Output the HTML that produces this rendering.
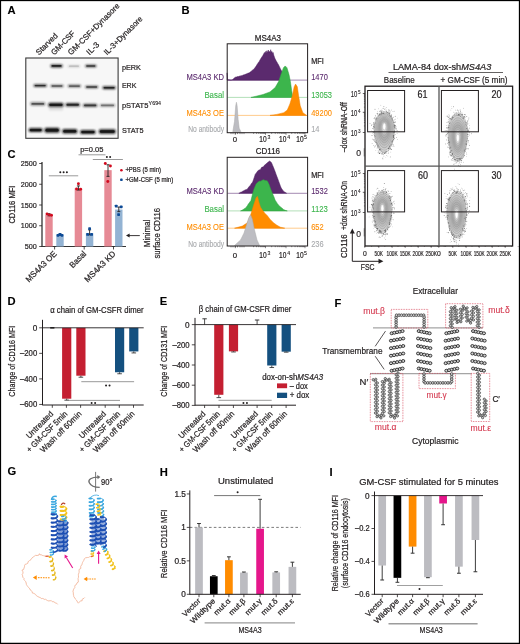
<!DOCTYPE html>
<html><head><meta charset="utf-8"><style>
html,body{margin:0;padding:0;background:#fff;}
svg{display:block;font-family:"Liberation Sans", sans-serif;will-change:transform;}
</style></head><body>
<svg width="520" height="644" viewBox="0 0 520 644" fill="#231f20">
<defs>
<filter id="bl" x="-20%" y="-200%" width="140%" height="500%"><feGaussianBlur stdDeviation="0.9"/></filter><filter id="bl2" x="-20%" y="-100%" width="140%" height="300%"><feGaussianBlur stdDeviation="1.0"/></filter>
<radialGradient id="cg"><stop offset="0" stop-color="#e8e8e8"/><stop offset="0.25" stop-color="#9a9a9a"/><stop offset="0.8" stop-color="#b4b4b4"/><stop offset="1" stop-color="#d0d0d0"/></radialGradient>
</defs>
<rect x="0" y="0" width="520" height="644" fill="#fff"/>
<text x="7.60" y="13.80" font-size="11.2" stroke="#000" stroke-width="0.1" fill="#000" font-weight="bold" >A</text>
<text x="39.10" y="55.50" font-size="8.0" stroke="#231f20" stroke-width="0.22" textLength="27.2" lengthAdjust="spacingAndGlyphs" transform="rotate(-45 39.10 55.50)" >Starved</text>
<text x="54.20" y="55.50" font-size="8.0" stroke="#231f20" stroke-width="0.22" textLength="30.2" lengthAdjust="spacingAndGlyphs" transform="rotate(-45 54.20 55.50)" >GM-CSF</text>
<text x="71.10" y="55.50" font-size="8.0" stroke="#231f20" stroke-width="0.22" textLength="69.3" lengthAdjust="spacingAndGlyphs" transform="rotate(-45 71.10 55.50)" >GM-CSF+Dynasore</text>
<text x="89.60" y="55.50" font-size="8.0" stroke="#231f20" stroke-width="0.22" textLength="14.6" lengthAdjust="spacingAndGlyphs" transform="rotate(-45 89.60 55.50)" >IL-3</text>
<text x="107.00" y="55.50" font-size="8.0" stroke="#231f20" stroke-width="0.22" textLength="51.0" lengthAdjust="spacingAndGlyphs" transform="rotate(-45 107.00 55.50)" >IL-3+Dynasore</text>
<rect x="25.80" y="58.00" width="92.30" height="80.30" fill="#f7f7f7" stroke="#3a3a3a" stroke-width="1.1" />
<rect x="50.4" y="64.38" width="12.3" height="3.04" rx="1.38" fill="#111" opacity="0.85" filter="url(#bl)"/>
<rect x="51.5" y="65.07" width="10.1" height="1.66" rx="0.83" fill="#111" opacity="0.76"/>
<rect x="67.8" y="65.14" width="12.2" height="2.11" rx="0.96" fill="#111" opacity="0.20" filter="url(#bl)"/>
<rect x="68.9" y="65.62" width="10.0" height="1.15" rx="0.58" fill="#111" opacity="0.18"/>
<rect x="85.1" y="64.68" width="11.4" height="2.64" rx="1.20" fill="#111" opacity="0.72" filter="url(#bl)"/>
<rect x="86.2" y="65.28" width="9.2" height="1.44" rx="0.72" fill="#111" opacity="0.64"/>
<rect x="33.6" y="84.28" width="13.2" height="2.64" rx="1.20" fill="#111" opacity="0.77" filter="url(#bl)"/>
<rect x="34.7" y="84.88" width="11.0" height="1.44" rx="0.72" fill="#111" opacity="0.68"/>
<rect x="50.4" y="84.81" width="13.2" height="2.38" rx="1.08" fill="#111" opacity="0.56" filter="url(#bl)"/>
<rect x="51.5" y="85.35" width="11.0" height="1.30" rx="0.65" fill="#111" opacity="0.50"/>
<rect x="67.8" y="84.85" width="13.2" height="2.51" rx="1.14" fill="#111" opacity="0.61" filter="url(#bl)"/>
<rect x="68.9" y="85.42" width="11.0" height="1.37" rx="0.68" fill="#111" opacity="0.54"/>
<rect x="85.1" y="85.75" width="13.2" height="2.51" rx="1.14" fill="#111" opacity="0.68" filter="url(#bl)"/>
<rect x="86.2" y="86.32" width="11.0" height="1.37" rx="0.68" fill="#111" opacity="0.60"/>
<rect x="102.5" y="86.35" width="13.2" height="2.90" rx="1.32" fill="#111" opacity="0.83" filter="url(#bl)"/>
<rect x="103.6" y="87.01" width="11.0" height="1.58" rx="0.79" fill="#111" opacity="0.74"/>
<rect x="30.3" y="102.32" width="15.0" height="3.17" rx="1.44" fill="#111" opacity="0.54" filter="url(#bl)"/>
<rect x="31.4" y="103.04" width="12.8" height="1.73" rx="0.86" fill="#111" opacity="0.48"/>
<rect x="48.2" y="102.82" width="15.4" height="3.96" rx="1.60" fill="#111" opacity="0.87" filter="url(#bl)"/>
<rect x="49.3" y="103.72" width="13.2" height="2.16" rx="1.08" fill="#111" opacity="0.78"/>
<rect x="49" y="105.5" width="14" height="5" fill="#000" opacity="0.10" filter="url(#bl2)"/>
<rect x="65.4" y="103.08" width="14.6" height="3.43" rx="1.56" fill="#111" opacity="0.77" filter="url(#bl)"/>
<rect x="66.5" y="103.86" width="12.4" height="1.87" rx="0.94" fill="#111" opacity="0.68"/>
<rect x="82.9" y="103.65" width="14.5" height="3.30" rx="1.50" fill="#111" opacity="0.65" filter="url(#bl)"/>
<rect x="84.0" y="104.40" width="12.3" height="1.80" rx="0.90" fill="#111" opacity="0.58"/>
<rect x="99.8" y="103.95" width="15.4" height="2.90" rx="1.32" fill="#111" opacity="0.41" filter="url(#bl)"/>
<rect x="100.9" y="104.61" width="13.2" height="1.58" rx="0.79" fill="#111" opacity="0.36"/>
<rect x="28.7" y="128.12" width="13.9" height="3.96" rx="1.60" fill="#111" opacity="0.90" filter="url(#bl)"/>
<rect x="29.8" y="129.02" width="11.7" height="2.16" rx="1.08" fill="#111" opacity="0.80"/>
<rect x="44.5" y="127.76" width="15.1" height="4.88" rx="1.60" fill="#111" opacity="0.90" filter="url(#bl)"/>
<rect x="45.6" y="128.87" width="12.9" height="2.66" rx="1.33" fill="#111" opacity="0.80"/>
<rect x="62.3" y="128.99" width="15.0" height="4.62" rx="1.60" fill="#111" opacity="0.90" filter="url(#bl)"/>
<rect x="63.4" y="130.04" width="12.8" height="2.52" rx="1.26" fill="#111" opacity="0.80"/>
<rect x="80.2" y="130.12" width="15.4" height="3.96" rx="1.60" fill="#111" opacity="0.90" filter="url(#bl)"/>
<rect x="81.3" y="131.02" width="13.2" height="2.16" rx="1.08" fill="#111" opacity="0.80"/>
<rect x="98.8" y="129.32" width="16.9" height="4.36" rx="1.60" fill="#111" opacity="0.90" filter="url(#bl)"/>
<rect x="99.9" y="130.31" width="14.7" height="2.38" rx="1.19" fill="#111" opacity="0.80"/>
<text x="121.90" y="69.80" font-size="8.06" stroke="#231f20" stroke-width="0.22" textLength="19.0" lengthAdjust="spacingAndGlyphs" >pERK</text>
<text x="121.90" y="88.20" font-size="8.06" stroke="#231f20" stroke-width="0.22" textLength="14.5" lengthAdjust="spacingAndGlyphs" >ERK</text>
<text x="121.90" y="107.80" font-size="8.06" stroke="#231f20" stroke-width="0.22" textLength="26.5" lengthAdjust="spacingAndGlyphs" >pSTAT5</text>
<text x="148.60" y="105.40" font-size="5.49" stroke="#231f20" stroke-width="0.12" textLength="12.5" lengthAdjust="spacingAndGlyphs" >Y694</text>
<text x="121.90" y="132.80" font-size="8.06" stroke="#231f20" stroke-width="0.22" textLength="21.6" lengthAdjust="spacingAndGlyphs" >STAT5</text>
<text x="181.50" y="13.80" font-size="11.2" stroke="#000" stroke-width="0.1" fill="#000" font-weight="bold" >B</text>
<line x1="227.50" y1="80.10" x2="307.20" y2="80.10" stroke="#8d6c9e" stroke-width="0.8" />
<line x1="227.50" y1="97.40" x2="307.20" y2="97.40" stroke="#9fd8a6" stroke-width="0.8" />
<line x1="227.50" y1="115.40" x2="307.20" y2="115.40" stroke="#ffbe70" stroke-width="0.8" />
<path d="M227.08,80.14 L227.08,80.14 L227.08,72.87 L227.60,79.79 L228.14,79.77 L228.68,79.76 L229.22,79.97 L229.76,79.82 L230.30,80.02 L230.84,80.01 L231.38,79.94 L231.92,80.14 L232.50,79.65 L233.07,79.00 L233.65,78.64 L234.23,78.03 L234.80,77.55 L235.38,77.20 L235.91,77.04 L236.45,77.04 L236.98,76.67 L237.51,76.57 L238.04,76.58 L238.57,76.55 L239.11,76.29 L239.64,76.10 L240.17,76.16 L240.70,75.71 L241.24,75.86 L241.77,75.53 L242.30,75.47 L242.83,75.14 L243.37,74.94 L243.90,74.80 L244.43,74.78 L244.96,74.36 L245.50,74.30 L246.03,74.12 L246.56,73.83 L247.09,73.69 L247.62,73.32 L248.16,73.12 L248.69,72.97 L249.22,72.87 L249.74,72.50 L250.26,71.98 L250.78,71.51 L251.30,71.17 L251.82,70.69 L252.34,70.21 L252.85,69.95 L253.37,69.48 L253.89,68.89 L254.41,68.55 L254.93,67.79 L255.45,67.00 L255.97,66.34 L256.49,65.51 L257.01,64.58 L257.53,64.04 L258.04,62.96 L258.56,62.29 L259.08,61.63 L259.60,60.76 L260.12,59.78 L260.64,59.03 L261.16,58.01 L261.68,57.36 L262.20,56.44 L263.06,55.22 L263.75,53.84 L264.45,52.46 L264.97,53.84 L265.66,51.42 L266.18,53.15 L266.87,50.73 L267.56,52.80 L268.25,50.03 L268.94,52.11 L269.64,51.42 L270.16,52.80 L270.67,49.69 L271.19,52.11 L271.89,51.42 L272.58,53.49 L273.10,52.46 L273.79,55.22 L274.48,57.22 L275.17,59.03 L275.75,60.07 L276.33,61.18 L276.90,61.99 L277.48,63.14 L278.06,64.11 L278.63,65.09 L279.21,66.27 L279.79,67.38 L280.36,68.66 L280.94,69.85 L281.52,70.84 L282.09,72.01 L282.61,73.45 L283.13,74.62 L283.65,76.23 L284.17,77.59 L284.69,78.93 L285.29,79.70 L285.90,80.14 L285.90,80.14 Z" fill="#5b2a6e" stroke="#4a1c5c" stroke-width="0.5"/>
<path d="M250.95,97.44 L250.95,97.44 L256.14,96.23 L263.06,94.50 L269.98,91.90 L275.17,87.58 L278.63,81.52 L281.23,73.74 L283.48,67.68 L285.21,65.95 L286.94,67.68 L289.01,74.60 L290.40,81.52 L291.61,90.17 L292.82,97.44 L292.82,97.44 Z" fill="#3cb54c" stroke="#2fa040" stroke-width="0.5"/>
<path d="M269.98,115.43 L269.98,115.43 L276.90,114.39 L283.82,112.66 L287.28,110.07 L289.88,104.01 L292.47,95.36 L294.20,86.71 L295.59,84.12 L297.32,86.71 L298.53,95.36 L300.26,105.74 L302.85,112.66 L306.66,115.43 L306.66,115.43 Z" fill="#ff8c00" stroke="#f08000" stroke-width="0.5"/>
<path d="M232.79,131.70 L232.79,131.70 L234.52,121.31 L235.73,105.74 L236.42,102.28 L237.11,105.74 L238.15,119.58 L239.19,128.24 L240.92,131.70 L240.92,131.70 Z" fill="#bdbdc2" stroke="#aaa" stroke-width="0.5"/>
<rect x="227.20" y="43.80" width="80.40" height="88.90" fill="none" stroke="#231f20" stroke-width="1.0" />
<text x="267.90" y="41.00" font-size="8.96" stroke="#231f20" stroke-width="0.22" text-anchor="middle" textLength="26.24" lengthAdjust="spacingAndGlyphs" >MS4A3</text>
<line x1="231.00" y1="132.70" x2="231.00" y2="134.10" stroke="#231f20" stroke-width="0.5" />
<line x1="233.00" y1="132.70" x2="233.00" y2="134.10" stroke="#231f20" stroke-width="0.5" />
<line x1="235.30" y1="132.70" x2="235.30" y2="134.10" stroke="#231f20" stroke-width="0.5" />
<line x1="237.50" y1="132.70" x2="237.50" y2="134.10" stroke="#231f20" stroke-width="0.5" />
<line x1="240.00" y1="132.70" x2="240.00" y2="134.10" stroke="#231f20" stroke-width="0.5" />
<line x1="242.00" y1="132.70" x2="242.00" y2="134.10" stroke="#231f20" stroke-width="0.5" />
<line x1="244.00" y1="132.70" x2="244.00" y2="134.10" stroke="#231f20" stroke-width="0.5" />
<line x1="253.62" y1="132.70" x2="253.62" y2="133.90" stroke="#231f20" stroke-width="0.5" />
<line x1="256.61" y1="132.70" x2="256.61" y2="133.90" stroke="#231f20" stroke-width="0.5" />
<line x1="258.74" y1="132.70" x2="258.74" y2="133.90" stroke="#231f20" stroke-width="0.5" />
<line x1="260.38" y1="132.70" x2="260.38" y2="133.90" stroke="#231f20" stroke-width="0.5" />
<line x1="261.73" y1="132.70" x2="261.73" y2="133.90" stroke="#231f20" stroke-width="0.5" />
<line x1="262.87" y1="132.70" x2="262.87" y2="133.90" stroke="#231f20" stroke-width="0.5" />
<line x1="263.85" y1="132.70" x2="263.85" y2="133.90" stroke="#231f20" stroke-width="0.5" />
<line x1="264.72" y1="132.70" x2="264.72" y2="133.90" stroke="#231f20" stroke-width="0.5" />
<line x1="271.67" y1="132.70" x2="271.67" y2="133.90" stroke="#231f20" stroke-width="0.5" />
<line x1="275.28" y1="132.70" x2="275.28" y2="133.90" stroke="#231f20" stroke-width="0.5" />
<line x1="277.84" y1="132.70" x2="277.84" y2="133.90" stroke="#231f20" stroke-width="0.5" />
<line x1="279.83" y1="132.70" x2="279.83" y2="133.90" stroke="#231f20" stroke-width="0.5" />
<line x1="281.45" y1="132.70" x2="281.45" y2="133.90" stroke="#231f20" stroke-width="0.5" />
<line x1="282.82" y1="132.70" x2="282.82" y2="133.90" stroke="#231f20" stroke-width="0.5" />
<line x1="284.01" y1="132.70" x2="284.01" y2="133.90" stroke="#231f20" stroke-width="0.5" />
<line x1="285.06" y1="132.70" x2="285.06" y2="133.90" stroke="#231f20" stroke-width="0.5" />
<line x1="291.72" y1="132.70" x2="291.72" y2="133.90" stroke="#231f20" stroke-width="0.5" />
<line x1="295.07" y1="132.70" x2="295.07" y2="133.90" stroke="#231f20" stroke-width="0.5" />
<line x1="297.44" y1="132.70" x2="297.44" y2="133.90" stroke="#231f20" stroke-width="0.5" />
<line x1="299.28" y1="132.70" x2="299.28" y2="133.90" stroke="#231f20" stroke-width="0.5" />
<line x1="300.78" y1="132.70" x2="300.78" y2="133.90" stroke="#231f20" stroke-width="0.5" />
<line x1="302.06" y1="132.70" x2="302.06" y2="133.90" stroke="#231f20" stroke-width="0.5" />
<line x1="303.16" y1="132.70" x2="303.16" y2="133.90" stroke="#231f20" stroke-width="0.5" />
<line x1="304.13" y1="132.70" x2="304.13" y2="133.90" stroke="#231f20" stroke-width="0.5" />
<line x1="235.30" y1="132.70" x2="235.30" y2="134.90" stroke="#231f20" stroke-width="0.5" />
<line x1="265.50" y1="132.70" x2="265.50" y2="134.90" stroke="#231f20" stroke-width="0.5" />
<line x1="286.00" y1="132.70" x2="286.00" y2="134.90" stroke="#231f20" stroke-width="0.5" />
<line x1="305.00" y1="132.70" x2="305.00" y2="134.90" stroke="#231f20" stroke-width="0.5" />
<text x="234.80" y="142.30" font-size="7.8" stroke="#231f20" stroke-width="0.22" text-anchor="middle" >0</text>
<text x="262.90" y="142.30" font-size="8.29" stroke="#231f20" stroke-width="0.22" text-anchor="middle" textLength="7.3" lengthAdjust="spacingAndGlyphs" >10</text>
<text x="267.50" y="139.00" font-size="5.2" stroke="#231f20" stroke-width="0.12" >3</text>
<text x="282.70" y="142.30" font-size="8.29" stroke="#231f20" stroke-width="0.22" text-anchor="middle" textLength="7.3" lengthAdjust="spacingAndGlyphs" >10</text>
<text x="287.20" y="139.00" font-size="5.2" stroke="#231f20" stroke-width="0.12" >4</text>
<text x="300.00" y="142.30" font-size="8.29" stroke="#231f20" stroke-width="0.22" text-anchor="middle" textLength="7.3" lengthAdjust="spacingAndGlyphs" >10</text>
<text x="304.10" y="139.00" font-size="5.2" stroke="#231f20" stroke-width="0.12" >5</text>
<text x="224.00" y="80.20" font-size="8.4" stroke="#5b2a6e" stroke-width="0.1" text-anchor="end" fill="#5b2a6e" textLength="37.6" lengthAdjust="spacingAndGlyphs" >MS4A3 KD</text>
<text x="224.00" y="98.40" font-size="8.4" stroke="#3cb54c" stroke-width="0.1" text-anchor="end" fill="#3cb54c" textLength="19.6" lengthAdjust="spacingAndGlyphs" >Basal</text>
<text x="224.00" y="115.60" font-size="8.4" stroke="#ff8c00" stroke-width="0.1" text-anchor="end" fill="#ff8c00" textLength="37.6" lengthAdjust="spacingAndGlyphs" >MS4A3 OE</text>
<text x="224.00" y="131.80" font-size="8.4" stroke="#a7a9ac" stroke-width="0.1" text-anchor="end" fill="#a7a9ac" textLength="35.8" lengthAdjust="spacingAndGlyphs" >No antibody</text>
<text x="311.20" y="63.70" font-size="8.4" stroke="#231f20" stroke-width="0.22" textLength="12.6" lengthAdjust="spacingAndGlyphs" >MFI</text>
<text x="311.20" y="80.20" font-size="8.4" stroke="#5b2a6e" stroke-width="0.1" fill="#5b2a6e" textLength="16.6" lengthAdjust="spacingAndGlyphs" >1470</text>
<text x="311.20" y="98.40" font-size="8.4" stroke="#3cb54c" stroke-width="0.1" fill="#3cb54c" textLength="20.75" lengthAdjust="spacingAndGlyphs" >13053</text>
<text x="311.20" y="115.60" font-size="8.4" stroke="#ff8c00" stroke-width="0.1" fill="#ff8c00" textLength="20.75" lengthAdjust="spacingAndGlyphs" >49200</text>
<text x="311.20" y="131.80" font-size="8.4" stroke="#a7a9ac" stroke-width="0.1" fill="#a7a9ac" textLength="8.3" lengthAdjust="spacingAndGlyphs" >14</text>
<line x1="227.50" y1="193.30" x2="307.20" y2="193.30" stroke="#8d6c9e" stroke-width="0.8" />
<line x1="227.50" y1="210.90" x2="307.20" y2="210.90" stroke="#9fd8a6" stroke-width="0.8" />
<line x1="227.50" y1="228.20" x2="307.20" y2="228.20" stroke="#ffbe70" stroke-width="0.8" />
<path d="M238.84,193.25 L238.84,193.25 L239.53,193.04 L240.22,192.47 L240.92,192.17 L241.61,191.94 L242.30,191.52 L243.04,190.95 L243.78,190.77 L244.53,190.27 L245.27,189.88 L246.01,189.49 L246.75,189.41 L247.49,188.93 L248.23,187.78 L248.97,186.85 L249.72,185.92 L250.46,185.13 L251.20,183.81 L251.94,182.97 L252.68,182.01 L253.55,179.43 L254.41,176.98 L255.28,174.22 L256.14,173.20 L257.01,172.07 L257.87,170.76 L258.74,170.21 L259.60,169.80 L260.47,169.38 L261.68,167.30 L262.37,167.07 L263.06,166.96 L263.75,166.25 L264.45,165.22 L265.14,164.84 L265.83,163.93 L266.52,163.49 L267.39,162.67 L268.25,162.11 L268.94,161.48 L269.64,161.07 L270.50,161.65 L271.37,162.46 L272.06,164.07 L272.75,165.72 L273.44,167.30 L274.31,169.51 L275.17,171.71 L276.04,174.22 L276.90,176.49 L277.77,178.78 L278.63,181.14 L279.50,183.48 L280.36,185.94 L281.23,188.06 L282.09,189.29 L282.96,190.38 L283.82,191.52 L284.52,192.00 L285.21,192.46 L285.90,192.63 L286.59,193.25 L286.59,193.25 Z" fill="#5b2a6e" stroke="#4a1c5c" stroke-width="0.5"/>
<path d="M240.57,210.90 L240.57,210.90 L241.31,210.62 L242.05,210.16 L242.80,209.77 L243.54,209.32 L244.28,208.76 L245.02,208.34 L245.76,207.96 L246.50,206.76 L247.24,205.88 L247.99,204.62 L248.73,203.56 L249.47,202.54 L250.21,201.46 L250.95,200.52 L251.82,197.00 L252.68,193.44 L253.55,190.14 L254.41,187.89 L255.28,185.87 L256.14,183.91 L257.01,182.96 L257.87,182.25 L258.74,181.49 L259.60,181.09 L260.47,181.16 L261.33,180.80 L262.20,180.32 L263.06,179.76 L263.75,179.87 L264.45,180.13 L265.14,180.45 L265.83,180.51 L266.52,180.63 L267.21,180.80 L268.17,182.57 L269.12,184.60 L269.98,187.03 L270.85,189.39 L271.71,191.52 L272.40,193.24 L273.10,194.98 L273.79,196.57 L274.48,198.31 L275.17,200.17 L275.87,201.16 L276.56,202.17 L277.25,203.40 L277.94,204.21 L278.63,205.36 L279.37,205.82 L280.12,206.76 L280.86,207.23 L281.60,207.71 L282.34,208.47 L283.08,208.91 L283.82,209.69 L284.52,209.94 L285.21,210.34 L285.90,210.54 L286.59,210.73 L287.28,210.90 L287.28,210.90 Z" fill="#3cb54c" stroke="#2fa040" stroke-width="0.5"/>
<path d="M234.52,228.20 L234.52,228.20 L242.30,226.12 L247.49,222.66 L250.95,214.01 L253.55,205.36 L256.14,197.58 L257.53,196.37 L258.91,201.90 L260.47,207.09 L262.20,209.69 L264.79,213.15 L267.39,215.74 L269.98,219.20 L273.44,222.66 L276.90,225.26 L280.36,227.16 L284.69,228.20 L284.69,228.20 Z" fill="#ff8c00" stroke="#f08000" stroke-width="0.5"/>
<path d="M234.52,245.50 L234.52,245.50 L240.57,239.97 L244.03,233.04 L246.63,224.39 L248.88,217.47 L250.61,214.88 L252.34,219.20 L254.41,229.58 L257.01,239.97 L259.60,245.50 L259.60,245.50 Z" fill="#bdbdc2" stroke="#aaa" stroke-width="0.5"/>
<rect x="227.20" y="157.30" width="80.40" height="88.70" fill="none" stroke="#231f20" stroke-width="1.0" />
<text x="267.90" y="153.50" font-size="8.96" stroke="#231f20" stroke-width="0.22" text-anchor="middle" textLength="24.31" lengthAdjust="spacingAndGlyphs" >CD116</text>
<line x1="231.00" y1="246.00" x2="231.00" y2="247.40" stroke="#231f20" stroke-width="0.5" />
<line x1="233.00" y1="246.00" x2="233.00" y2="247.40" stroke="#231f20" stroke-width="0.5" />
<line x1="235.30" y1="246.00" x2="235.30" y2="247.40" stroke="#231f20" stroke-width="0.5" />
<line x1="237.50" y1="246.00" x2="237.50" y2="247.40" stroke="#231f20" stroke-width="0.5" />
<line x1="240.00" y1="246.00" x2="240.00" y2="247.40" stroke="#231f20" stroke-width="0.5" />
<line x1="242.00" y1="246.00" x2="242.00" y2="247.40" stroke="#231f20" stroke-width="0.5" />
<line x1="244.00" y1="246.00" x2="244.00" y2="247.40" stroke="#231f20" stroke-width="0.5" />
<line x1="253.62" y1="246.00" x2="253.62" y2="247.20" stroke="#231f20" stroke-width="0.5" />
<line x1="256.61" y1="246.00" x2="256.61" y2="247.20" stroke="#231f20" stroke-width="0.5" />
<line x1="258.74" y1="246.00" x2="258.74" y2="247.20" stroke="#231f20" stroke-width="0.5" />
<line x1="260.38" y1="246.00" x2="260.38" y2="247.20" stroke="#231f20" stroke-width="0.5" />
<line x1="261.73" y1="246.00" x2="261.73" y2="247.20" stroke="#231f20" stroke-width="0.5" />
<line x1="262.87" y1="246.00" x2="262.87" y2="247.20" stroke="#231f20" stroke-width="0.5" />
<line x1="263.85" y1="246.00" x2="263.85" y2="247.20" stroke="#231f20" stroke-width="0.5" />
<line x1="264.72" y1="246.00" x2="264.72" y2="247.20" stroke="#231f20" stroke-width="0.5" />
<line x1="271.67" y1="246.00" x2="271.67" y2="247.20" stroke="#231f20" stroke-width="0.5" />
<line x1="275.28" y1="246.00" x2="275.28" y2="247.20" stroke="#231f20" stroke-width="0.5" />
<line x1="277.84" y1="246.00" x2="277.84" y2="247.20" stroke="#231f20" stroke-width="0.5" />
<line x1="279.83" y1="246.00" x2="279.83" y2="247.20" stroke="#231f20" stroke-width="0.5" />
<line x1="281.45" y1="246.00" x2="281.45" y2="247.20" stroke="#231f20" stroke-width="0.5" />
<line x1="282.82" y1="246.00" x2="282.82" y2="247.20" stroke="#231f20" stroke-width="0.5" />
<line x1="284.01" y1="246.00" x2="284.01" y2="247.20" stroke="#231f20" stroke-width="0.5" />
<line x1="285.06" y1="246.00" x2="285.06" y2="247.20" stroke="#231f20" stroke-width="0.5" />
<line x1="291.72" y1="246.00" x2="291.72" y2="247.20" stroke="#231f20" stroke-width="0.5" />
<line x1="295.07" y1="246.00" x2="295.07" y2="247.20" stroke="#231f20" stroke-width="0.5" />
<line x1="297.44" y1="246.00" x2="297.44" y2="247.20" stroke="#231f20" stroke-width="0.5" />
<line x1="299.28" y1="246.00" x2="299.28" y2="247.20" stroke="#231f20" stroke-width="0.5" />
<line x1="300.78" y1="246.00" x2="300.78" y2="247.20" stroke="#231f20" stroke-width="0.5" />
<line x1="302.06" y1="246.00" x2="302.06" y2="247.20" stroke="#231f20" stroke-width="0.5" />
<line x1="303.16" y1="246.00" x2="303.16" y2="247.20" stroke="#231f20" stroke-width="0.5" />
<line x1="304.13" y1="246.00" x2="304.13" y2="247.20" stroke="#231f20" stroke-width="0.5" />
<line x1="235.30" y1="246.00" x2="235.30" y2="248.20" stroke="#231f20" stroke-width="0.5" />
<line x1="265.50" y1="246.00" x2="265.50" y2="248.20" stroke="#231f20" stroke-width="0.5" />
<line x1="286.00" y1="246.00" x2="286.00" y2="248.20" stroke="#231f20" stroke-width="0.5" />
<line x1="305.00" y1="246.00" x2="305.00" y2="248.20" stroke="#231f20" stroke-width="0.5" />
<text x="234.80" y="258.20" font-size="7.8" stroke="#231f20" stroke-width="0.22" text-anchor="middle" >0</text>
<text x="262.90" y="258.20" font-size="8.29" stroke="#231f20" stroke-width="0.22" text-anchor="middle" textLength="7.3" lengthAdjust="spacingAndGlyphs" >10</text>
<text x="267.50" y="254.90" font-size="5.2" stroke="#231f20" stroke-width="0.12" >3</text>
<text x="282.70" y="258.20" font-size="8.29" stroke="#231f20" stroke-width="0.22" text-anchor="middle" textLength="7.3" lengthAdjust="spacingAndGlyphs" >10</text>
<text x="287.20" y="254.90" font-size="5.2" stroke="#231f20" stroke-width="0.12" >4</text>
<text x="300.00" y="258.20" font-size="8.29" stroke="#231f20" stroke-width="0.22" text-anchor="middle" textLength="7.3" lengthAdjust="spacingAndGlyphs" >10</text>
<text x="304.10" y="254.90" font-size="5.2" stroke="#231f20" stroke-width="0.12" >5</text>
<text x="224.00" y="194.00" font-size="8.4" stroke="#5b2a6e" stroke-width="0.1" text-anchor="end" fill="#5b2a6e" textLength="37.6" lengthAdjust="spacingAndGlyphs" >MS4A3 KD</text>
<text x="224.00" y="212.40" font-size="8.4" stroke="#3cb54c" stroke-width="0.1" text-anchor="end" fill="#3cb54c" textLength="19.6" lengthAdjust="spacingAndGlyphs" >Basal</text>
<text x="224.00" y="230.20" font-size="8.4" stroke="#ff8c00" stroke-width="0.1" text-anchor="end" fill="#ff8c00" textLength="37.6" lengthAdjust="spacingAndGlyphs" >MS4A3 OE</text>
<text x="224.00" y="247.30" font-size="8.4" stroke="#a7a9ac" stroke-width="0.1" text-anchor="end" fill="#a7a9ac" textLength="35.8" lengthAdjust="spacingAndGlyphs" >No antibody</text>
<text x="311.20" y="177.50" font-size="8.4" stroke="#231f20" stroke-width="0.22" textLength="12.6" lengthAdjust="spacingAndGlyphs" >MFI</text>
<text x="311.20" y="194.00" font-size="8.4" stroke="#5b2a6e" stroke-width="0.1" fill="#5b2a6e" textLength="16.6" lengthAdjust="spacingAndGlyphs" >1532</text>
<text x="311.20" y="212.40" font-size="8.4" stroke="#3cb54c" stroke-width="0.1" fill="#3cb54c" textLength="16.6" lengthAdjust="spacingAndGlyphs" >1123</text>
<text x="311.20" y="230.20" font-size="8.4" stroke="#ff8c00" stroke-width="0.1" fill="#ff8c00" textLength="12.450000000000001" lengthAdjust="spacingAndGlyphs" >652</text>
<text x="311.20" y="247.30" font-size="8.4" stroke="#a7a9ac" stroke-width="0.1" fill="#a7a9ac" textLength="12.450000000000001" lengthAdjust="spacingAndGlyphs" >236</text>
<text x="392.90" y="70.20" font-size="9.18" stroke="#231f20" stroke-width="0.22" >LAMA-84 dox-sh<tspan font-style="italic">MS4A3</tspan></text>
<line x1="388.50" y1="72.50" x2="503.00" y2="72.50" stroke="#231f20" stroke-width="0.7" />
<text x="399.20" y="82.70" font-size="8.96" stroke="#231f20" stroke-width="0.22" text-anchor="middle" textLength="30.8" lengthAdjust="spacingAndGlyphs" >Baseline</text>
<text x="474.00" y="82.70" font-size="8.96" stroke="#231f20" stroke-width="0.22" text-anchor="middle" textLength="67" lengthAdjust="spacingAndGlyphs" >+ GM-CSF (5 min)</text>
<path d="M394.50,132.30 L394.25,134.98 L393.85,137.61 L393.29,140.15 L392.60,142.55 L391.80,144.78 L390.90,146.80 L389.92,148.56 L388.87,150.05 L387.77,151.24 L386.63,152.10 L385.47,152.62 L384.30,152.80 L383.13,152.62 L381.97,152.10 L380.83,151.24 L379.73,150.05 L378.68,148.56 L377.70,146.80 L376.80,144.78 L376.00,142.55 L375.31,140.15 L374.75,137.61 L374.35,134.98 L374.10,132.30 L374.03,129.62 L374.14,126.99 L374.44,124.45 L374.94,122.05 L375.62,119.82 L376.48,117.80 L377.50,116.04 L378.67,114.55 L379.96,113.36 L381.35,112.50 L382.81,111.98 L384.30,111.80 L385.79,111.98 L387.25,112.50 L388.64,113.36 L389.93,114.55 L391.10,116.04 L392.12,117.80 L392.98,119.82 L393.66,122.05 L394.16,124.45 L394.46,126.99 L394.57,129.62 Z" fill="#dcdcdc" stroke="#555" stroke-width="0.3" stroke-opacity="0.75"/>
<path d="M393.53,131.73 L393.31,134.15 L392.94,136.53 L392.44,138.83 L391.81,141.01 L391.09,143.02 L390.27,144.85 L389.38,146.45 L388.44,147.80 L387.44,148.87 L386.41,149.65 L385.36,150.12 L384.30,150.28 L383.24,150.12 L382.19,149.65 L381.16,148.87 L380.16,147.80 L379.22,146.45 L378.33,144.85 L377.51,143.02 L376.79,141.01 L376.16,138.83 L375.66,136.53 L375.29,134.15 L375.07,131.73 L375.00,129.31 L375.11,126.93 L375.38,124.63 L375.83,122.45 L376.44,120.44 L377.22,118.61 L378.15,117.01 L379.20,115.66 L380.38,114.59 L381.63,113.81 L382.95,113.34 L384.30,113.18 L385.65,113.34 L386.97,113.81 L388.22,114.59 L389.40,115.66 L390.45,117.01 L391.38,118.61 L392.16,120.44 L392.77,122.45 L393.22,124.63 L393.49,126.93 L393.60,129.31 Z" fill="#d0d0d0" stroke="#555" stroke-width="0.3" stroke-opacity="0.75"/>
<path d="M392.56,131.16 L392.36,133.33 L392.03,135.46 L391.58,137.51 L391.03,139.46 L390.38,141.27 L389.65,142.90 L388.85,144.33 L388.00,145.54 L387.11,146.50 L386.19,147.20 L385.25,147.62 L384.30,147.77 L383.35,147.62 L382.41,147.20 L381.49,146.50 L380.60,145.54 L379.75,144.33 L378.95,142.90 L378.22,141.27 L377.57,139.46 L377.02,137.51 L376.57,135.46 L376.24,133.33 L376.04,131.16 L375.98,128.99 L376.07,126.86 L376.32,124.81 L376.72,122.86 L377.27,121.05 L377.96,119.42 L378.79,117.99 L379.74,116.78 L380.79,115.82 L381.91,115.12 L383.09,114.70 L384.30,114.56 L385.51,114.70 L386.69,115.12 L387.81,115.82 L388.86,116.78 L389.81,117.99 L390.64,119.42 L391.33,121.05 L391.88,122.86 L392.28,124.81 L392.53,126.86 L392.62,128.99 Z" fill="#c6c6c6" stroke="#555" stroke-width="0.3" stroke-opacity="0.75"/>
<path d="M391.59,130.59 L391.42,132.50 L391.13,134.38 L390.73,136.20 L390.24,137.92 L389.66,139.51 L389.02,140.95 L388.32,142.22 L387.57,143.28 L386.78,144.13 L385.97,144.75 L385.14,145.12 L384.30,145.25 L383.46,145.12 L382.63,144.75 L381.82,144.13 L381.03,143.28 L380.28,142.22 L379.58,140.95 L378.94,139.51 L378.36,137.92 L377.87,136.20 L377.47,134.38 L377.18,132.50 L377.01,130.59 L376.96,128.68 L377.04,126.80 L377.25,124.98 L377.61,123.26 L378.09,121.67 L378.71,120.23 L379.44,118.96 L380.27,117.90 L381.20,117.05 L382.19,116.43 L383.23,116.06 L384.30,115.93 L385.37,116.06 L386.41,116.43 L387.40,117.05 L388.33,117.90 L389.16,118.96 L389.89,120.23 L390.51,121.67 L390.99,123.26 L391.35,124.98 L391.56,126.80 L391.64,128.68 Z" fill="#bdbdbd" stroke="#555" stroke-width="0.3" stroke-opacity="0.45"/>
<path d="M390.62,130.02 L390.47,131.68 L390.22,133.31 L389.87,134.88 L389.45,136.38 L388.95,137.76 L388.39,139.01 L387.78,140.10 L387.13,141.03 L386.45,141.76 L385.75,142.30 L385.03,142.62 L384.30,142.73 L383.57,142.62 L382.85,142.30 L382.15,141.76 L381.47,141.03 L380.82,140.10 L380.21,139.01 L379.65,137.76 L379.15,136.38 L378.73,134.88 L378.38,133.31 L378.13,131.68 L377.98,130.02 L377.93,128.36 L378.00,126.73 L378.19,125.16 L378.49,123.67 L378.92,122.28 L379.45,121.03 L380.08,119.94 L380.81,119.01 L381.61,118.28 L382.47,117.74 L383.38,117.42 L384.30,117.31 L385.22,117.42 L386.13,117.74 L386.99,118.28 L387.79,119.01 L388.52,119.94 L389.15,121.03 L389.68,122.28 L390.11,123.67 L390.41,125.16 L390.60,126.73 L390.67,128.36 Z" fill="#b5b5b5" stroke="#555" stroke-width="0.3" stroke-opacity="0.45"/>
<path d="M389.66,129.45 L389.53,130.85 L389.31,132.24 L389.02,133.57 L388.66,134.83 L388.24,136.00 L387.77,137.06 L387.25,137.99 L386.70,138.77 L386.12,139.39 L385.53,139.85 L384.92,140.12 L384.30,140.21 L383.68,140.12 L383.07,139.85 L382.48,139.39 L381.90,138.77 L381.35,137.99 L380.83,137.06 L380.36,136.00 L379.94,134.83 L379.58,133.57 L379.29,132.24 L379.07,130.85 L378.94,129.45 L378.91,128.05 L378.97,126.66 L379.13,125.33 L379.38,124.07 L379.74,122.90 L380.19,121.84 L380.73,120.91 L381.34,120.13 L382.02,119.51 L382.75,119.05 L383.52,118.78 L384.30,118.69 L385.08,118.78 L385.85,119.05 L386.58,119.51 L387.26,120.13 L387.87,120.91 L388.41,121.84 L388.86,122.90 L389.22,124.07 L389.47,125.33 L389.63,126.66 L389.69,128.05 Z" fill="#afafaf" stroke="#555" stroke-width="0.3" stroke-opacity="0.45"/>
<path d="M388.69,128.88 L388.58,130.03 L388.40,131.16 L388.17,132.25 L387.87,133.29 L387.53,134.25 L387.14,135.11 L386.72,135.87 L386.27,136.51 L385.79,137.02 L385.30,137.39 L384.80,137.62 L384.30,137.70 L383.80,137.62 L383.30,137.39 L382.81,137.02 L382.33,136.51 L381.88,135.87 L381.46,135.11 L381.07,134.25 L380.73,133.29 L380.43,132.25 L380.20,131.16 L380.02,130.03 L379.91,128.88 L379.88,127.73 L379.93,126.60 L380.06,125.51 L380.27,124.47 L380.57,123.51 L380.94,122.65 L381.38,121.89 L381.88,121.25 L382.44,120.74 L383.03,120.37 L383.66,120.14 L384.30,120.07 L384.94,120.14 L385.57,120.37 L386.16,120.74 L386.72,121.25 L387.22,121.89 L387.66,122.65 L388.03,123.51 L388.33,124.47 L388.54,125.51 L388.67,126.60 L388.72,127.73 Z" fill="#b2b2b2" stroke="#555" stroke-width="0.3" stroke-opacity="0.45"/>
<path d="M387.72,128.31 L387.63,129.21 L387.50,130.09 L387.31,130.94 L387.08,131.74 L386.81,132.49 L386.51,133.17 L386.18,133.76 L385.83,134.26 L385.46,134.65 L385.08,134.94 L384.69,135.12 L384.30,135.18 L383.91,135.12 L383.52,134.94 L383.14,134.65 L382.77,134.26 L382.42,133.76 L382.09,133.17 L381.79,132.49 L381.52,131.74 L381.29,130.94 L381.10,130.09 L380.97,129.21 L380.88,128.31 L380.86,127.41 L380.90,126.53 L381.00,125.68 L381.16,124.88 L381.39,124.13 L381.68,123.45 L382.02,122.86 L382.41,122.36 L382.85,121.97 L383.31,121.68 L383.80,121.50 L384.30,121.44 L384.80,121.50 L385.29,121.68 L385.75,121.97 L386.19,122.36 L386.58,122.86 L386.92,123.45 L387.21,124.13 L387.44,124.88 L387.60,125.68 L387.70,126.53 L387.74,127.41 Z" fill="#bfbfbf" stroke="#555" stroke-width="0.3" stroke-opacity="0.45"/>
<path d="M386.75,127.74 L386.69,128.38 L386.59,129.01 L386.46,129.62 L386.29,130.20 L386.10,130.74 L385.88,131.22 L385.65,131.64 L385.40,132.00 L385.13,132.29 L384.86,132.49 L384.58,132.62 L384.30,132.66 L384.02,132.62 L383.74,132.49 L383.47,132.29 L383.20,132.00 L382.95,131.64 L382.72,131.22 L382.50,130.74 L382.31,130.20 L382.14,129.62 L382.01,129.01 L381.91,128.38 L381.85,127.74 L381.83,127.10 L381.86,126.47 L381.93,125.86 L382.05,125.28 L382.22,124.74 L382.42,124.26 L382.67,123.84 L382.95,123.48 L383.26,123.19 L383.59,122.99 L383.94,122.86 L384.30,122.82 L384.66,122.86 L385.01,122.99 L385.34,123.19 L385.65,123.48 L385.93,123.84 L386.18,124.26 L386.38,124.74 L386.55,125.28 L386.67,125.86 L386.74,126.47 L386.77,127.10 Z" fill="#d8d8d8" stroke="#555" stroke-width="0.3" stroke-opacity="0.45"/>
<path d="M385.78,127.17 L385.74,127.56 L385.68,127.94 L385.60,128.31 L385.50,128.66 L385.39,128.98 L385.26,129.27 L385.11,129.53 L384.96,129.74 L384.80,129.92 L384.64,130.04 L384.47,130.12 L384.30,130.14 L384.13,130.12 L383.96,130.04 L383.80,129.92 L383.64,129.74 L383.49,129.53 L383.34,129.27 L383.21,128.98 L383.10,128.66 L383.00,128.31 L382.92,127.94 L382.86,127.56 L382.82,127.17 L382.81,126.78 L382.83,126.40 L382.87,126.03 L382.94,125.68 L383.04,125.36 L383.17,125.07 L383.31,124.81 L383.48,124.60 L383.67,124.42 L383.87,124.30 L384.08,124.22 L384.30,124.20 L384.52,124.22 L384.73,124.30 L384.93,124.42 L385.12,124.60 L385.29,124.81 L385.43,125.07 L385.56,125.36 L385.66,125.68 L385.73,126.03 L385.77,126.40 L385.79,126.78 Z" fill="#f2f2f2" stroke="#555" stroke-width="0.3" stroke-opacity="0.45"/>
<g fill="#3d3d3d"><circle cx="390.9" cy="148.6" r="0.35" opacity="0.60"/><circle cx="373.7" cy="139.6" r="0.43" opacity="0.74"/><circle cx="393.9" cy="146.2" r="0.39" opacity="0.73"/><circle cx="394.0" cy="132.6" r="0.39" opacity="0.71"/><circle cx="385.8" cy="157.6" r="0.31" opacity="0.36"/><circle cx="373.4" cy="126.9" r="0.49" opacity="0.54"/><circle cx="386.1" cy="151.1" r="0.34" opacity="0.57"/><circle cx="375.0" cy="132.8" r="0.35" opacity="0.47"/><circle cx="386.1" cy="153.1" r="0.30" opacity="0.77"/><circle cx="374.5" cy="125.6" r="0.43" opacity="0.44"/><circle cx="394.6" cy="131.4" r="0.37" opacity="0.71"/><circle cx="381.5" cy="113.1" r="0.49" opacity="0.56"/><circle cx="389.8" cy="114.9" r="0.42" opacity="0.79"/><circle cx="391.2" cy="115.0" r="0.40" opacity="0.64"/><circle cx="393.2" cy="136.3" r="0.38" opacity="0.44"/><circle cx="371.6" cy="124.9" r="0.44" opacity="0.69"/><circle cx="377.1" cy="148.1" r="0.46" opacity="0.61"/><circle cx="377.1" cy="144.7" r="0.40" opacity="0.36"/><circle cx="394.2" cy="138.1" r="0.42" opacity="0.55"/><circle cx="390.3" cy="156.9" r="0.40" opacity="0.84"/><circle cx="386.2" cy="107.4" r="0.35" opacity="0.61"/><circle cx="394.7" cy="126.4" r="0.42" opacity="0.58"/><circle cx="382.9" cy="158.9" r="0.30" opacity="0.74"/><circle cx="389.5" cy="113.3" r="0.48" opacity="0.72"/><circle cx="389.1" cy="111.0" r="0.39" opacity="0.38"/><circle cx="391.7" cy="118.5" r="0.41" opacity="0.45"/><circle cx="372.9" cy="131.7" r="0.37" opacity="0.62"/><circle cx="376.7" cy="119.2" r="0.42" opacity="0.58"/><circle cx="393.3" cy="135.6" r="0.42" opacity="0.78"/><circle cx="387.9" cy="112.6" r="0.46" opacity="0.76"/><circle cx="384.0" cy="153.6" r="0.32" opacity="0.36"/><circle cx="395.5" cy="134.4" r="0.45" opacity="0.47"/><circle cx="391.7" cy="145.5" r="0.31" opacity="0.43"/><circle cx="373.4" cy="128.8" r="0.33" opacity="0.49"/><circle cx="381.3" cy="111.5" r="0.39" opacity="0.36"/><circle cx="377.6" cy="144.9" r="0.38" opacity="0.44"/><circle cx="392.1" cy="146.1" r="0.34" opacity="0.65"/><circle cx="389.3" cy="113.2" r="0.30" opacity="0.36"/><circle cx="389.4" cy="147.3" r="0.44" opacity="0.69"/><circle cx="373.7" cy="126.6" r="0.34" opacity="0.84"/><circle cx="387.9" cy="112.3" r="0.43" opacity="0.55"/><circle cx="375.1" cy="123.7" r="0.36" opacity="0.67"/><circle cx="393.7" cy="140.0" r="0.48" opacity="0.50"/><circle cx="394.1" cy="111.2" r="0.36" opacity="0.82"/><circle cx="383.8" cy="111.6" r="0.30" opacity="0.79"/><circle cx="393.6" cy="137.0" r="0.46" opacity="0.83"/><circle cx="373.5" cy="123.0" r="0.49" opacity="0.70"/><circle cx="371.4" cy="130.9" r="0.38" opacity="0.52"/><circle cx="386.7" cy="151.7" r="0.34" opacity="0.40"/><circle cx="378.0" cy="113.5" r="0.36" opacity="0.60"/><circle cx="379.5" cy="153.3" r="0.30" opacity="0.45"/><circle cx="379.3" cy="153.4" r="0.50" opacity="0.74"/><circle cx="379.6" cy="149.0" r="0.47" opacity="0.82"/><circle cx="378.4" cy="151.9" r="0.48" opacity="0.69"/><circle cx="374.0" cy="134.3" r="0.45" opacity="0.39"/><circle cx="388.3" cy="148.7" r="0.48" opacity="0.46"/><circle cx="385.1" cy="108.5" r="0.37" opacity="0.52"/><circle cx="381.8" cy="153.9" r="0.47" opacity="0.65"/><circle cx="394.6" cy="126.7" r="0.41" opacity="0.40"/><circle cx="393.5" cy="137.1" r="0.31" opacity="0.78"/><circle cx="387.1" cy="112.9" r="0.42" opacity="0.74"/><circle cx="377.3" cy="147.0" r="0.41" opacity="0.46"/><circle cx="392.1" cy="141.7" r="0.41" opacity="0.81"/><circle cx="372.3" cy="139.1" r="0.36" opacity="0.74"/><circle cx="390.7" cy="111.4" r="0.32" opacity="0.41"/><circle cx="392.3" cy="119.8" r="0.31" opacity="0.47"/><circle cx="394.8" cy="130.8" r="0.33" opacity="0.47"/><circle cx="383.9" cy="113.0" r="0.32" opacity="0.81"/><circle cx="375.8" cy="150.3" r="0.36" opacity="0.48"/><circle cx="374.7" cy="135.2" r="0.32" opacity="0.68"/><circle cx="397.6" cy="139.3" r="0.36" opacity="0.65"/><circle cx="375.6" cy="138.2" r="0.36" opacity="0.38"/><circle cx="397.4" cy="118.1" r="0.32" opacity="0.46"/><circle cx="375.9" cy="118.7" r="0.50" opacity="0.62"/><circle cx="379.9" cy="113.9" r="0.41" opacity="0.50"/><circle cx="384.5" cy="153.0" r="0.32" opacity="0.49"/><circle cx="396.5" cy="129.9" r="0.43" opacity="0.82"/><circle cx="377.2" cy="145.1" r="0.36" opacity="0.51"/><circle cx="380.2" cy="153.0" r="0.36" opacity="0.52"/><circle cx="371.6" cy="125.6" r="0.42" opacity="0.65"/><circle cx="384.6" cy="153.3" r="0.31" opacity="0.63"/><circle cx="392.3" cy="140.4" r="0.32" opacity="0.67"/><circle cx="382.1" cy="151.2" r="0.47" opacity="0.43"/><circle cx="372.6" cy="132.1" r="0.46" opacity="0.39"/><circle cx="395.2" cy="125.6" r="0.50" opacity="0.76"/><circle cx="379.8" cy="153.8" r="0.32" opacity="0.61"/><circle cx="394.2" cy="122.4" r="0.33" opacity="0.81"/><circle cx="396.5" cy="137.4" r="0.36" opacity="0.80"/><circle cx="388.9" cy="109.6" r="0.45" opacity="0.69"/><circle cx="388.6" cy="152.2" r="0.39" opacity="0.43"/><circle cx="381.8" cy="113.0" r="0.31" opacity="0.83"/><circle cx="388.6" cy="112.9" r="0.41" opacity="0.62"/><circle cx="391.7" cy="114.8" r="0.37" opacity="0.48"/><circle cx="393.7" cy="135.3" r="0.43" opacity="0.56"/><circle cx="373.6" cy="123.1" r="0.33" opacity="0.41"/><circle cx="383.8" cy="152.0" r="0.47" opacity="0.55"/><circle cx="376.6" cy="144.2" r="0.30" opacity="0.61"/><circle cx="373.8" cy="132.2" r="0.43" opacity="0.57"/><circle cx="380.1" cy="115.0" r="0.40" opacity="0.59"/><circle cx="385.7" cy="153.0" r="0.38" opacity="0.63"/><circle cx="394.0" cy="120.8" r="0.43" opacity="0.37"/><circle cx="392.7" cy="140.9" r="0.40" opacity="0.79"/><circle cx="388.9" cy="148.5" r="0.36" opacity="0.70"/><circle cx="392.9" cy="111.5" r="0.37" opacity="0.70"/><circle cx="383.1" cy="108.3" r="0.48" opacity="0.83"/><circle cx="373.3" cy="122.7" r="0.34" opacity="0.48"/><circle cx="386.4" cy="155.6" r="0.31" opacity="0.69"/><circle cx="381.8" cy="111.8" r="0.37" opacity="0.61"/><circle cx="388.5" cy="148.3" r="0.50" opacity="0.75"/><circle cx="376.7" cy="118.3" r="0.35" opacity="0.81"/><circle cx="395.9" cy="126.7" r="0.47" opacity="0.68"/><circle cx="380.2" cy="110.3" r="0.39" opacity="0.81"/><circle cx="396.4" cy="128.1" r="0.39" opacity="0.43"/><circle cx="379.7" cy="152.5" r="0.33" opacity="0.80"/><circle cx="395.7" cy="126.8" r="0.38" opacity="0.41"/><circle cx="381.6" cy="153.1" r="0.35" opacity="0.72"/><circle cx="394.1" cy="132.8" r="0.30" opacity="0.66"/><circle cx="374.6" cy="118.8" r="0.47" opacity="0.45"/><circle cx="382.3" cy="152.9" r="0.42" opacity="0.48"/><circle cx="379.8" cy="114.8" r="0.46" opacity="0.75"/><circle cx="396.0" cy="128.6" r="0.47" opacity="0.73"/><circle cx="374.6" cy="123.9" r="0.38" opacity="0.49"/><circle cx="391.1" cy="144.3" r="0.45" opacity="0.62"/><circle cx="394.8" cy="127.9" r="0.45" opacity="0.84"/><circle cx="391.1" cy="149.7" r="0.36" opacity="0.60"/><circle cx="379.1" cy="146.8" r="0.41" opacity="0.35"/><circle cx="374.8" cy="139.8" r="0.38" opacity="0.74"/><circle cx="379.7" cy="114.6" r="0.40" opacity="0.67"/><circle cx="378.2" cy="145.2" r="0.36" opacity="0.65"/><circle cx="392.1" cy="119.6" r="0.47" opacity="0.61"/><circle cx="397.4" cy="130.3" r="0.38" opacity="0.72"/><circle cx="394.8" cy="130.7" r="0.36" opacity="0.44"/><circle cx="375.4" cy="117.5" r="0.30" opacity="0.54"/><circle cx="376.3" cy="140.9" r="0.38" opacity="0.78"/><circle cx="375.1" cy="122.6" r="0.45" opacity="0.60"/><circle cx="383.9" cy="106.5" r="0.43" opacity="0.67"/><circle cx="375.5" cy="115.9" r="0.43" opacity="0.82"/><circle cx="386.8" cy="111.6" r="0.47" opacity="0.73"/><circle cx="389.2" cy="113.0" r="0.35" opacity="0.70"/><circle cx="392.4" cy="117.8" r="0.41" opacity="0.43"/><circle cx="390.7" cy="112.9" r="0.31" opacity="0.61"/><circle cx="383.9" cy="113.5" r="0.38" opacity="0.53"/><circle cx="377.1" cy="113.5" r="0.49" opacity="0.70"/><circle cx="377.1" cy="143.3" r="0.44" opacity="0.65"/><circle cx="386.6" cy="152.0" r="0.35" opacity="0.39"/><circle cx="391.4" cy="110.0" r="0.40" opacity="0.53"/><circle cx="374.5" cy="131.0" r="0.43" opacity="0.71"/><circle cx="389.0" cy="113.4" r="0.35" opacity="0.65"/><circle cx="385.3" cy="152.6" r="0.46" opacity="0.78"/><circle cx="380.2" cy="149.2" r="0.34" opacity="0.83"/><circle cx="381.3" cy="114.1" r="0.48" opacity="0.66"/><circle cx="380.9" cy="149.8" r="0.39" opacity="0.73"/><circle cx="386.9" cy="112.5" r="0.33" opacity="0.84"/><circle cx="374.0" cy="140.3" r="0.48" opacity="0.71"/><circle cx="376.0" cy="120.7" r="0.33" opacity="0.42"/><circle cx="381.5" cy="110.1" r="0.37" opacity="0.73"/><circle cx="384.8" cy="151.8" r="0.36" opacity="0.40"/><circle cx="375.5" cy="146.7" r="0.40" opacity="0.40"/><circle cx="388.2" cy="153.4" r="0.48" opacity="0.46"/><circle cx="393.8" cy="136.6" r="0.44" opacity="0.76"/><circle cx="395.2" cy="127.6" r="0.47" opacity="0.41"/><circle cx="380.1" cy="113.1" r="0.32" opacity="0.55"/><circle cx="374.4" cy="132.9" r="0.35" opacity="0.76"/><circle cx="374.9" cy="136.9" r="0.42" opacity="0.46"/><circle cx="381.7" cy="112.1" r="0.48" opacity="0.85"/><circle cx="394.7" cy="138.8" r="0.46" opacity="0.78"/><circle cx="380.2" cy="152.1" r="0.48" opacity="0.55"/><circle cx="393.2" cy="117.6" r="0.45" opacity="0.43"/><circle cx="394.0" cy="121.8" r="0.43" opacity="0.38"/><circle cx="378.1" cy="145.1" r="0.33" opacity="0.58"/><circle cx="390.2" cy="116.1" r="0.31" opacity="0.77"/><circle cx="393.1" cy="137.3" r="0.35" opacity="0.41"/><circle cx="393.4" cy="144.9" r="0.45" opacity="0.69"/><circle cx="390.6" cy="116.4" r="0.43" opacity="0.54"/><circle cx="375.3" cy="115.2" r="0.35" opacity="0.38"/><circle cx="394.0" cy="124.6" r="0.42" opacity="0.52"/><circle cx="374.4" cy="118.5" r="0.31" opacity="0.53"/><circle cx="376.3" cy="142.7" r="0.34" opacity="0.79"/><circle cx="375.4" cy="142.1" r="0.45" opacity="0.71"/><circle cx="384.5" cy="109.2" r="0.35" opacity="0.84"/><circle cx="390.7" cy="152.1" r="0.47" opacity="0.38"/><circle cx="392.8" cy="144.1" r="0.46" opacity="0.58"/><circle cx="378.2" cy="146.5" r="0.41" opacity="0.57"/><circle cx="390.1" cy="145.7" r="0.38" opacity="0.70"/><circle cx="393.7" cy="117.0" r="0.32" opacity="0.75"/><circle cx="392.0" cy="142.1" r="0.31" opacity="0.54"/><circle cx="383.1" cy="113.3" r="0.46" opacity="0.75"/><circle cx="391.4" cy="116.4" r="0.36" opacity="0.56"/><circle cx="384.6" cy="153.7" r="0.37" opacity="0.74"/><circle cx="394.4" cy="127.0" r="0.42" opacity="0.40"/><circle cx="375.0" cy="109.2" r="0.44" opacity="0.77"/><circle cx="380.5" cy="111.6" r="0.41" opacity="0.80"/><circle cx="389.7" cy="115.8" r="0.37" opacity="0.61"/><circle cx="392.0" cy="144.0" r="0.37" opacity="0.64"/><circle cx="393.8" cy="137.8" r="0.36" opacity="0.50"/><circle cx="378.1" cy="150.8" r="0.37" opacity="0.72"/><circle cx="373.6" cy="132.2" r="0.48" opacity="0.51"/><circle cx="380.4" cy="148.9" r="0.31" opacity="0.84"/><circle cx="372.0" cy="135.5" r="0.49" opacity="0.76"/><circle cx="395.4" cy="122.1" r="0.48" opacity="0.75"/><circle cx="391.2" cy="149.5" r="0.50" opacity="0.74"/><circle cx="381.1" cy="114.0" r="0.45" opacity="0.53"/><circle cx="394.8" cy="125.0" r="0.39" opacity="0.84"/><circle cx="373.2" cy="128.0" r="0.33" opacity="0.42"/><circle cx="378.6" cy="108.8" r="0.34" opacity="0.56"/><circle cx="382.6" cy="111.1" r="0.31" opacity="0.40"/><circle cx="374.7" cy="127.0" r="0.35" opacity="0.67"/><circle cx="373.7" cy="129.0" r="0.32" opacity="0.39"/><circle cx="391.0" cy="116.3" r="0.47" opacity="0.36"/><circle cx="378.1" cy="147.1" r="0.47" opacity="0.71"/><circle cx="382.3" cy="153.9" r="0.47" opacity="0.80"/><circle cx="375.3" cy="142.0" r="0.44" opacity="0.62"/><circle cx="394.6" cy="125.5" r="0.46" opacity="0.85"/><circle cx="383.9" cy="156.1" r="0.34" opacity="0.72"/><circle cx="386.0" cy="110.0" r="0.38" opacity="0.79"/><circle cx="387.4" cy="114.3" r="0.42" opacity="0.37"/><circle cx="391.3" cy="115.7" r="0.36" opacity="0.70"/><circle cx="393.7" cy="133.0" r="0.32" opacity="0.50"/><circle cx="392.3" cy="120.2" r="0.41" opacity="0.64"/><circle cx="370.0" cy="123.5" r="0.41" opacity="0.62"/><circle cx="389.6" cy="112.4" r="0.43" opacity="0.50"/><circle cx="381.5" cy="150.8" r="0.40" opacity="0.64"/><circle cx="373.7" cy="126.0" r="0.43" opacity="0.85"/><circle cx="383.3" cy="113.6" r="0.41" opacity="0.53"/><circle cx="374.7" cy="146.9" r="0.43" opacity="0.80"/><circle cx="394.8" cy="122.6" r="0.47" opacity="0.54"/><circle cx="375.1" cy="136.6" r="0.45" opacity="0.59"/><circle cx="379.3" cy="150.8" r="0.39" opacity="0.41"/><circle cx="379.1" cy="147.4" r="0.33" opacity="0.48"/><circle cx="391.0" cy="117.7" r="0.42" opacity="0.49"/><circle cx="394.1" cy="132.0" r="0.45" opacity="0.70"/><circle cx="374.5" cy="141.5" r="0.46" opacity="0.59"/><circle cx="380.8" cy="105.2" r="0.44" opacity="0.40"/><circle cx="390.2" cy="146.1" r="0.49" opacity="0.46"/><circle cx="393.2" cy="135.3" r="0.49" opacity="0.55"/><circle cx="382.1" cy="110.2" r="0.47" opacity="0.39"/><circle cx="374.5" cy="117.5" r="0.41" opacity="0.52"/><circle cx="393.8" cy="126.1" r="0.49" opacity="0.40"/><circle cx="372.5" cy="124.8" r="0.32" opacity="0.48"/><circle cx="382.6" cy="152.9" r="0.40" opacity="0.75"/><circle cx="391.3" cy="117.0" r="0.32" opacity="0.54"/><circle cx="377.7" cy="111.8" r="0.36" opacity="0.60"/><circle cx="395.2" cy="119.1" r="0.32" opacity="0.54"/><circle cx="394.9" cy="119.4" r="0.34" opacity="0.61"/><circle cx="373.5" cy="145.7" r="0.36" opacity="0.60"/><circle cx="395.6" cy="116.7" r="0.41" opacity="0.46"/><circle cx="385.0" cy="111.8" r="0.30" opacity="0.84"/><circle cx="377.4" cy="114.0" r="0.49" opacity="0.83"/><circle cx="383.2" cy="154.2" r="0.45" opacity="0.77"/><circle cx="385.4" cy="151.5" r="0.35" opacity="0.70"/><circle cx="376.4" cy="142.9" r="0.41" opacity="0.65"/><circle cx="394.8" cy="127.3" r="0.41" opacity="0.65"/><circle cx="389.9" cy="149.1" r="0.44" opacity="0.48"/><circle cx="386.2" cy="151.7" r="0.37" opacity="0.59"/><circle cx="379.5" cy="149.5" r="0.48" opacity="0.70"/><circle cx="373.9" cy="128.0" r="0.31" opacity="0.51"/><circle cx="379.5" cy="111.5" r="0.48" opacity="0.51"/><circle cx="372.7" cy="133.2" r="0.37" opacity="0.41"/><circle cx="389.6" cy="146.6" r="0.41" opacity="0.70"/><circle cx="374.2" cy="124.6" r="0.44" opacity="0.46"/><circle cx="387.8" cy="156.1" r="0.38" opacity="0.35"/><circle cx="394.7" cy="135.0" r="0.36" opacity="0.66"/><circle cx="392.1" cy="142.1" r="0.50" opacity="0.52"/><circle cx="373.6" cy="118.3" r="0.40" opacity="0.36"/><circle cx="380.0" cy="150.0" r="0.45" opacity="0.69"/><circle cx="393.9" cy="137.5" r="0.32" opacity="0.71"/><circle cx="391.5" cy="144.1" r="0.31" opacity="0.37"/><circle cx="390.4" cy="148.4" r="0.38" opacity="0.82"/><circle cx="377.4" cy="118.0" r="0.35" opacity="0.61"/><circle cx="379.7" cy="153.6" r="0.49" opacity="0.53"/><circle cx="388.7" cy="110.9" r="0.42" opacity="0.79"/><circle cx="375.2" cy="145.6" r="0.44" opacity="0.66"/><circle cx="372.5" cy="128.4" r="0.38" opacity="0.80"/><circle cx="376.6" cy="117.4" r="0.41" opacity="0.38"/><circle cx="374.0" cy="131.3" r="0.39" opacity="0.62"/><circle cx="384.3" cy="152.9" r="0.35" opacity="0.62"/><circle cx="374.8" cy="135.6" r="0.37" opacity="0.68"/><circle cx="374.2" cy="127.0" r="0.41" opacity="0.77"/><circle cx="382.5" cy="113.8" r="0.36" opacity="0.69"/><circle cx="389.1" cy="148.3" r="0.48" opacity="0.42"/><circle cx="392.4" cy="118.6" r="0.47" opacity="0.52"/><circle cx="395.1" cy="116.2" r="0.33" opacity="0.77"/><circle cx="377.5" cy="145.9" r="0.42" opacity="0.48"/><circle cx="378.8" cy="115.8" r="0.46" opacity="0.65"/><circle cx="397.1" cy="133.6" r="0.43" opacity="0.54"/><circle cx="373.8" cy="124.4" r="0.48" opacity="0.58"/><circle cx="386.6" cy="111.2" r="0.49" opacity="0.55"/><circle cx="375.2" cy="119.6" r="0.31" opacity="0.59"/><circle cx="393.0" cy="136.6" r="0.31" opacity="0.41"/><circle cx="389.7" cy="146.6" r="0.40" opacity="0.53"/><circle cx="382.8" cy="158.1" r="0.43" opacity="0.75"/><circle cx="389.0" cy="114.9" r="0.35" opacity="0.75"/><circle cx="384.9" cy="153.7" r="0.33" opacity="0.74"/><circle cx="393.7" cy="122.4" r="0.36" opacity="0.79"/><circle cx="378.0" cy="152.7" r="0.45" opacity="0.38"/><circle cx="372.1" cy="143.5" r="0.38" opacity="0.50"/><circle cx="389.8" cy="110.8" r="0.43" opacity="0.61"/><circle cx="393.4" cy="139.3" r="0.43" opacity="0.80"/><circle cx="388.7" cy="150.8" r="0.37" opacity="0.71"/><circle cx="395.7" cy="128.9" r="0.30" opacity="0.80"/></g>
<ellipse cx="384.30" cy="126.30" rx="1.0" ry="3.07" fill="#fff" opacity="0.95"/>
<path d="M467.60,137.00 L467.36,140.13 L466.97,143.21 L466.44,146.18 L465.78,149.00 L465.01,151.61 L464.14,153.97 L463.20,156.04 L462.19,157.78 L461.13,159.17 L460.04,160.18 L458.93,160.79 L457.80,161.00 L456.67,160.79 L455.56,160.18 L454.47,159.17 L453.41,157.78 L452.40,156.04 L451.46,153.97 L450.59,151.61 L449.82,149.00 L449.16,146.18 L448.63,143.21 L448.24,140.13 L448.00,137.00 L447.93,133.87 L448.04,130.79 L448.33,127.82 L448.80,125.00 L449.46,122.39 L450.28,120.03 L451.27,117.96 L452.39,116.22 L453.63,114.83 L454.97,113.82 L456.37,113.21 L457.80,113.00 L459.23,113.21 L460.63,113.82 L461.97,114.83 L463.21,116.22 L464.33,117.96 L465.32,120.03 L466.14,122.39 L466.80,125.00 L467.27,127.82 L467.56,130.79 L467.67,133.87 Z" fill="#dcdcdc" stroke="#555" stroke-width="0.3" stroke-opacity="0.75"/>
<path d="M466.67,137.09 L466.46,139.93 L466.10,142.72 L465.62,145.41 L465.02,147.95 L464.32,150.32 L463.54,152.45 L462.69,154.33 L461.77,155.91 L460.82,157.16 L459.83,158.07 L458.82,158.63 L457.80,158.81 L456.78,158.63 L455.77,158.07 L454.78,157.16 L453.83,155.91 L452.91,154.33 L452.06,152.45 L451.28,150.32 L450.58,147.95 L449.98,145.41 L449.50,142.72 L449.14,139.93 L448.93,137.09 L448.87,134.26 L448.97,131.47 L449.23,128.78 L449.66,126.23 L450.25,123.87 L451.00,121.74 L451.89,119.86 L452.90,118.28 L454.03,117.03 L455.24,116.12 L456.50,115.56 L457.80,115.38 L459.10,115.56 L460.36,116.12 L461.57,117.03 L462.70,118.28 L463.71,119.86 L464.60,121.74 L465.35,123.87 L465.94,126.23 L466.37,128.78 L466.63,131.47 L466.73,134.26 Z" fill="#d0d0d0" stroke="#555" stroke-width="0.3" stroke-opacity="0.75"/>
<path d="M465.74,137.19 L465.55,139.73 L465.23,142.22 L464.80,144.63 L464.26,146.91 L463.64,149.02 L462.94,150.94 L462.17,152.61 L461.36,154.03 L460.50,155.15 L459.62,155.97 L458.71,156.46 L457.80,156.63 L456.89,156.46 L455.98,155.97 L455.10,155.15 L454.24,154.03 L453.43,152.61 L452.66,150.94 L451.96,149.02 L451.34,146.91 L450.80,144.63 L450.37,142.22 L450.05,139.73 L449.86,137.19 L449.81,134.65 L449.89,132.16 L450.13,129.75 L450.51,127.47 L451.04,125.36 L451.71,123.44 L452.51,121.77 L453.42,120.35 L454.43,119.23 L455.51,118.41 L456.64,117.92 L457.80,117.75 L458.96,117.92 L460.09,118.41 L461.17,119.23 L462.18,120.35 L463.09,121.77 L463.89,123.44 L464.56,125.36 L465.09,127.47 L465.47,129.75 L465.71,132.16 L465.79,134.65 Z" fill="#c6c6c6" stroke="#555" stroke-width="0.3" stroke-opacity="0.75"/>
<path d="M464.81,137.28 L464.64,139.52 L464.36,141.73 L463.98,143.85 L463.50,145.87 L462.95,147.73 L462.33,149.42 L461.66,150.90 L460.94,152.15 L460.18,153.14 L459.40,153.86 L458.61,154.30 L457.80,154.44 L456.99,154.30 L456.20,153.86 L455.42,153.14 L454.66,152.15 L453.94,150.90 L453.27,149.42 L452.65,147.73 L452.10,145.87 L451.62,143.85 L451.24,141.73 L450.96,139.52 L450.79,137.28 L450.74,135.05 L450.82,132.84 L451.03,130.72 L451.37,128.71 L451.83,126.84 L452.42,125.15 L453.13,123.67 L453.93,122.42 L454.82,121.43 L455.78,120.71 L456.78,120.27 L457.80,120.12 L458.82,120.27 L459.82,120.71 L460.78,121.43 L461.67,122.42 L462.47,123.67 L463.18,125.15 L463.77,126.84 L464.23,128.70 L464.57,130.72 L464.78,132.84 L464.86,135.05 Z" fill="#bdbdbd" stroke="#555" stroke-width="0.3" stroke-opacity="0.45"/>
<path d="M463.88,137.38 L463.73,139.32 L463.49,141.23 L463.16,143.07 L462.75,144.82 L462.27,146.44 L461.73,147.90 L461.15,149.19 L460.52,150.27 L459.87,151.13 L459.19,151.75 L458.50,152.13 L457.80,152.26 L457.10,152.13 L456.41,151.75 L455.73,151.13 L455.08,150.27 L454.45,149.19 L453.87,147.90 L453.33,146.44 L452.85,144.82 L452.44,143.07 L452.11,141.23 L451.87,139.32 L451.72,137.38 L451.68,135.44 L451.75,133.53 L451.93,131.69 L452.22,129.94 L452.63,128.32 L453.14,126.86 L453.75,125.57 L454.45,124.49 L455.22,123.63 L456.05,123.01 L456.91,122.63 L457.80,122.50 L458.69,122.63 L459.55,123.01 L460.38,123.63 L461.15,124.49 L461.85,125.57 L462.46,126.86 L462.97,128.32 L463.38,129.94 L463.67,131.69 L463.85,133.53 L463.92,135.44 Z" fill="#b5b5b5" stroke="#555" stroke-width="0.3" stroke-opacity="0.45"/>
<path d="M462.94,137.47 L462.82,139.12 L462.62,140.74 L462.34,142.30 L461.99,143.78 L461.58,145.15 L461.13,146.38 L460.63,147.47 L460.11,148.39 L459.55,149.12 L458.98,149.65 L458.39,149.97 L457.80,150.07 L457.21,149.97 L456.62,149.65 L456.05,149.12 L455.49,148.39 L454.97,147.47 L454.47,146.38 L454.02,145.15 L453.61,143.78 L453.26,142.30 L452.98,140.74 L452.78,139.12 L452.66,137.47 L452.62,135.83 L452.68,134.21 L452.83,132.65 L453.08,131.18 L453.42,129.80 L453.85,128.57 L454.37,127.48 L454.96,126.56 L455.61,125.83 L456.31,125.30 L457.05,124.98 L457.80,124.88 L458.55,124.98 L459.29,125.30 L459.99,125.83 L460.64,126.56 L461.23,127.48 L461.75,128.57 L462.18,129.80 L462.52,131.17 L462.77,132.65 L462.92,134.21 L462.98,135.83 Z" fill="#afafaf" stroke="#555" stroke-width="0.3" stroke-opacity="0.45"/>
<path d="M462.01,137.57 L461.91,138.92 L461.74,140.24 L461.51,141.52 L461.23,142.73 L460.90,143.85 L460.53,144.87 L460.12,145.76 L459.69,146.51 L459.23,147.10 L458.76,147.54 L458.28,147.80 L457.80,147.89 L457.32,147.80 L456.84,147.54 L456.37,147.10 L455.91,146.51 L455.48,145.76 L455.07,144.87 L454.70,143.85 L454.37,142.73 L454.09,141.52 L453.86,140.24 L453.69,138.92 L453.59,137.57 L453.56,136.22 L453.60,134.90 L453.73,133.62 L453.93,132.41 L454.21,131.29 L454.57,130.27 L454.99,129.38 L455.47,128.63 L456.01,128.04 L456.58,127.60 L457.18,127.34 L457.80,127.25 L458.42,127.34 L459.02,127.60 L459.59,128.04 L460.13,128.63 L460.61,129.38 L461.03,130.27 L461.39,131.29 L461.67,132.41 L461.87,133.62 L462.00,134.90 L462.04,136.22 Z" fill="#b2b2b2" stroke="#555" stroke-width="0.3" stroke-opacity="0.45"/>
<path d="M461.08,137.66 L461.00,138.71 L460.87,139.75 L460.69,140.74 L460.47,141.69 L460.21,142.56 L459.92,143.35 L459.61,144.04 L459.27,144.63 L458.92,145.09 L458.55,145.43 L458.18,145.64 L457.80,145.70 L457.42,145.64 L457.05,145.43 L456.68,145.09 L456.33,144.63 L455.99,144.04 L455.68,143.35 L455.39,142.56 L455.13,141.69 L454.91,140.74 L454.73,139.75 L454.60,138.71 L454.52,137.66 L454.49,136.62 L454.53,135.58 L454.63,134.59 L454.79,133.64 L455.01,132.77 L455.28,131.98 L455.61,131.29 L455.99,130.70 L456.40,130.24 L456.85,129.90 L457.32,129.69 L457.80,129.62 L458.28,129.69 L458.75,129.90 L459.20,130.24 L459.61,130.70 L459.99,131.29 L460.32,131.98 L460.59,132.77 L460.81,133.64 L460.97,134.59 L461.07,135.58 L461.11,136.62 Z" fill="#bfbfbf" stroke="#555" stroke-width="0.3" stroke-opacity="0.45"/>
<path d="M460.15,137.76 L460.10,138.51 L460.00,139.25 L459.87,139.96 L459.71,140.64 L459.53,141.27 L459.32,141.83 L459.10,142.33 L458.85,142.75 L458.60,143.08 L458.34,143.32 L458.07,143.47 L457.80,143.52 L457.53,143.47 L457.26,143.32 L457.00,143.08 L456.75,142.75 L456.50,142.33 L456.28,141.83 L456.07,141.27 L455.89,140.64 L455.73,139.96 L455.60,139.25 L455.50,138.51 L455.45,137.76 L455.43,137.01 L455.46,136.27 L455.53,135.56 L455.64,134.88 L455.80,134.25 L456.00,133.69 L456.23,133.19 L456.50,132.77 L456.80,132.44 L457.12,132.20 L457.46,132.05 L457.80,132.00 L458.14,132.05 L458.48,132.20 L458.80,132.44 L459.10,132.77 L459.37,133.19 L459.60,133.69 L459.80,134.25 L459.96,134.88 L460.07,135.56 L460.14,136.27 L460.17,137.01 Z" fill="#d8d8d8" stroke="#555" stroke-width="0.3" stroke-opacity="0.45"/>
<path d="M459.22,137.85 L459.19,138.31 L459.13,138.76 L459.05,139.19 L458.96,139.59 L458.85,139.97 L458.72,140.32 L458.58,140.62 L458.44,140.87 L458.28,141.07 L458.13,141.22 L457.96,141.31 L457.80,141.33 L457.64,141.31 L457.47,141.22 L457.32,141.07 L457.16,140.87 L457.02,140.62 L456.88,140.32 L456.75,139.97 L456.64,139.59 L456.55,139.19 L456.47,138.76 L456.41,138.31 L456.38,137.85 L456.37,137.40 L456.38,136.95 L456.43,136.52 L456.50,136.11 L456.59,135.74 L456.71,135.39 L456.85,135.09 L457.02,134.84 L457.20,134.64 L457.39,134.49 L457.59,134.40 L457.80,134.38 L458.01,134.40 L458.21,134.49 L458.40,134.64 L458.58,134.84 L458.75,135.09 L458.89,135.39 L459.01,135.74 L459.10,136.11 L459.17,136.52 L459.22,136.95 L459.23,137.40 Z" fill="#f2f2f2" stroke="#555" stroke-width="0.3" stroke-opacity="0.45"/>
<g fill="#3d3d3d"><circle cx="467.6" cy="130.7" r="0.32" opacity="0.77"/><circle cx="456.9" cy="115.0" r="0.43" opacity="0.50"/><circle cx="448.4" cy="121.1" r="0.33" opacity="0.57"/><circle cx="450.4" cy="152.5" r="0.44" opacity="0.85"/><circle cx="468.7" cy="128.9" r="0.35" opacity="0.37"/><circle cx="466.8" cy="140.9" r="0.39" opacity="0.51"/><circle cx="450.8" cy="154.4" r="0.41" opacity="0.47"/><circle cx="467.6" cy="140.7" r="0.37" opacity="0.42"/><circle cx="445.9" cy="135.2" r="0.34" opacity="0.80"/><circle cx="460.8" cy="116.3" r="0.45" opacity="0.80"/><circle cx="458.7" cy="114.5" r="0.50" opacity="0.83"/><circle cx="462.7" cy="158.5" r="0.45" opacity="0.71"/><circle cx="447.7" cy="143.3" r="0.48" opacity="0.60"/><circle cx="463.0" cy="117.4" r="0.37" opacity="0.79"/><circle cx="467.7" cy="121.3" r="0.48" opacity="0.71"/><circle cx="448.6" cy="138.9" r="0.34" opacity="0.51"/><circle cx="453.9" cy="112.2" r="0.35" opacity="0.81"/><circle cx="453.9" cy="164.3" r="0.49" opacity="0.70"/><circle cx="446.0" cy="136.3" r="0.42" opacity="0.51"/><circle cx="459.9" cy="158.5" r="0.40" opacity="0.82"/><circle cx="448.4" cy="117.2" r="0.45" opacity="0.80"/><circle cx="461.1" cy="160.4" r="0.45" opacity="0.38"/><circle cx="451.9" cy="118.9" r="0.48" opacity="0.40"/><circle cx="447.2" cy="133.6" r="0.47" opacity="0.47"/><circle cx="460.0" cy="161.0" r="0.44" opacity="0.37"/><circle cx="451.9" cy="155.7" r="0.33" opacity="0.69"/><circle cx="465.3" cy="148.2" r="0.45" opacity="0.36"/><circle cx="457.5" cy="158.8" r="0.46" opacity="0.43"/><circle cx="461.2" cy="158.1" r="0.31" opacity="0.85"/><circle cx="463.2" cy="157.6" r="0.31" opacity="0.52"/><circle cx="450.3" cy="122.6" r="0.37" opacity="0.37"/><circle cx="449.0" cy="144.5" r="0.45" opacity="0.72"/><circle cx="466.0" cy="124.4" r="0.44" opacity="0.59"/><circle cx="459.4" cy="166.4" r="0.43" opacity="0.51"/><circle cx="466.8" cy="154.6" r="0.33" opacity="0.64"/><circle cx="450.6" cy="152.1" r="0.40" opacity="0.42"/><circle cx="467.2" cy="131.5" r="0.38" opacity="0.36"/><circle cx="446.5" cy="127.3" r="0.33" opacity="0.38"/><circle cx="466.6" cy="141.7" r="0.43" opacity="0.60"/><circle cx="467.8" cy="134.6" r="0.49" opacity="0.85"/><circle cx="458.8" cy="161.4" r="0.42" opacity="0.66"/><circle cx="461.2" cy="115.5" r="0.44" opacity="0.48"/><circle cx="450.3" cy="147.2" r="0.31" opacity="0.55"/><circle cx="464.1" cy="150.9" r="0.44" opacity="0.47"/><circle cx="464.8" cy="150.4" r="0.34" opacity="0.61"/><circle cx="448.4" cy="142.4" r="0.36" opacity="0.67"/><circle cx="460.4" cy="166.5" r="0.45" opacity="0.57"/><circle cx="446.0" cy="135.0" r="0.42" opacity="0.38"/><circle cx="449.7" cy="148.9" r="0.32" opacity="0.75"/><circle cx="452.3" cy="153.4" r="0.40" opacity="0.81"/><circle cx="449.1" cy="121.3" r="0.37" opacity="0.36"/><circle cx="451.6" cy="106.8" r="0.32" opacity="0.50"/><circle cx="463.4" cy="118.5" r="0.39" opacity="0.56"/><circle cx="448.8" cy="139.0" r="0.34" opacity="0.64"/><circle cx="465.6" cy="147.0" r="0.49" opacity="0.39"/><circle cx="458.2" cy="111.6" r="0.34" opacity="0.64"/><circle cx="449.5" cy="154.8" r="0.38" opacity="0.41"/><circle cx="464.1" cy="153.0" r="0.32" opacity="0.78"/><circle cx="449.6" cy="115.6" r="0.30" opacity="0.68"/><circle cx="459.7" cy="114.2" r="0.44" opacity="0.60"/><circle cx="451.2" cy="159.3" r="0.35" opacity="0.61"/><circle cx="448.4" cy="140.3" r="0.49" opacity="0.75"/><circle cx="467.4" cy="127.3" r="0.35" opacity="0.59"/><circle cx="457.3" cy="161.5" r="0.39" opacity="0.69"/><circle cx="468.9" cy="123.3" r="0.32" opacity="0.53"/><circle cx="468.7" cy="136.6" r="0.33" opacity="0.56"/><circle cx="468.1" cy="148.8" r="0.50" opacity="0.67"/><circle cx="464.5" cy="155.8" r="0.36" opacity="0.47"/><circle cx="452.5" cy="116.4" r="0.40" opacity="0.41"/><circle cx="446.9" cy="130.5" r="0.49" opacity="0.73"/><circle cx="466.6" cy="152.9" r="0.35" opacity="0.80"/><circle cx="449.2" cy="142.4" r="0.44" opacity="0.55"/><circle cx="467.6" cy="136.3" r="0.33" opacity="0.57"/><circle cx="468.3" cy="141.9" r="0.42" opacity="0.79"/><circle cx="461.8" cy="160.8" r="0.38" opacity="0.71"/><circle cx="466.9" cy="128.5" r="0.44" opacity="0.59"/><circle cx="468.5" cy="131.1" r="0.43" opacity="0.73"/><circle cx="465.5" cy="115.0" r="0.34" opacity="0.66"/><circle cx="449.3" cy="152.6" r="0.43" opacity="0.36"/><circle cx="445.7" cy="143.9" r="0.44" opacity="0.79"/><circle cx="451.7" cy="119.3" r="0.49" opacity="0.71"/><circle cx="449.7" cy="123.2" r="0.48" opacity="0.79"/><circle cx="465.3" cy="151.4" r="0.34" opacity="0.72"/><circle cx="446.9" cy="122.6" r="0.34" opacity="0.75"/><circle cx="463.8" cy="156.0" r="0.35" opacity="0.63"/><circle cx="448.3" cy="142.0" r="0.34" opacity="0.83"/><circle cx="466.9" cy="148.6" r="0.47" opacity="0.68"/><circle cx="458.1" cy="115.3" r="0.40" opacity="0.69"/><circle cx="453.7" cy="156.0" r="0.31" opacity="0.39"/><circle cx="458.1" cy="110.6" r="0.33" opacity="0.73"/><circle cx="460.5" cy="111.0" r="0.46" opacity="0.78"/><circle cx="464.0" cy="155.8" r="0.33" opacity="0.54"/><circle cx="449.4" cy="141.8" r="0.41" opacity="0.83"/><circle cx="452.3" cy="153.5" r="0.41" opacity="0.54"/><circle cx="449.0" cy="145.4" r="0.43" opacity="0.59"/><circle cx="447.5" cy="131.2" r="0.48" opacity="0.39"/><circle cx="462.8" cy="116.0" r="0.46" opacity="0.68"/><circle cx="449.8" cy="153.9" r="0.47" opacity="0.40"/><circle cx="449.8" cy="118.1" r="0.47" opacity="0.75"/><circle cx="449.8" cy="119.1" r="0.36" opacity="0.47"/><circle cx="449.4" cy="142.8" r="0.49" opacity="0.41"/><circle cx="462.7" cy="114.4" r="0.38" opacity="0.53"/><circle cx="453.9" cy="160.3" r="0.33" opacity="0.57"/><circle cx="455.6" cy="159.9" r="0.48" opacity="0.81"/><circle cx="447.7" cy="146.8" r="0.37" opacity="0.40"/><circle cx="458.6" cy="165.7" r="0.34" opacity="0.69"/><circle cx="451.0" cy="155.6" r="0.35" opacity="0.75"/><circle cx="449.2" cy="116.8" r="0.38" opacity="0.76"/><circle cx="452.1" cy="160.7" r="0.40" opacity="0.69"/><circle cx="469.6" cy="128.1" r="0.45" opacity="0.73"/><circle cx="466.7" cy="116.6" r="0.50" opacity="0.50"/><circle cx="449.7" cy="120.1" r="0.43" opacity="0.53"/><circle cx="449.9" cy="153.1" r="0.37" opacity="0.59"/><circle cx="468.9" cy="117.9" r="0.34" opacity="0.83"/><circle cx="464.4" cy="155.1" r="0.37" opacity="0.81"/><circle cx="465.5" cy="122.1" r="0.45" opacity="0.57"/><circle cx="448.3" cy="131.1" r="0.38" opacity="0.49"/><circle cx="448.9" cy="114.7" r="0.33" opacity="0.51"/><circle cx="467.3" cy="126.5" r="0.34" opacity="0.48"/><circle cx="450.1" cy="148.0" r="0.35" opacity="0.52"/><circle cx="458.0" cy="158.9" r="0.37" opacity="0.54"/><circle cx="459.3" cy="110.0" r="0.31" opacity="0.42"/><circle cx="465.6" cy="114.4" r="0.33" opacity="0.61"/><circle cx="464.3" cy="116.7" r="0.37" opacity="0.73"/><circle cx="446.2" cy="116.1" r="0.38" opacity="0.59"/><circle cx="447.5" cy="116.4" r="0.36" opacity="0.77"/><circle cx="448.1" cy="122.1" r="0.50" opacity="0.84"/><circle cx="464.0" cy="116.6" r="0.39" opacity="0.56"/><circle cx="447.7" cy="133.4" r="0.50" opacity="0.41"/><circle cx="467.0" cy="128.5" r="0.44" opacity="0.81"/><circle cx="466.0" cy="148.3" r="0.30" opacity="0.40"/><circle cx="451.6" cy="160.0" r="0.33" opacity="0.42"/><circle cx="450.8" cy="110.1" r="0.43" opacity="0.37"/><circle cx="468.0" cy="120.6" r="0.35" opacity="0.59"/><circle cx="447.5" cy="128.1" r="0.31" opacity="0.45"/><circle cx="467.8" cy="124.6" r="0.46" opacity="0.61"/><circle cx="453.2" cy="115.9" r="0.40" opacity="0.42"/><circle cx="464.3" cy="152.5" r="0.32" opacity="0.46"/><circle cx="466.1" cy="144.4" r="0.42" opacity="0.78"/><circle cx="467.4" cy="122.6" r="0.44" opacity="0.60"/><circle cx="466.7" cy="125.7" r="0.46" opacity="0.66"/><circle cx="459.9" cy="159.5" r="0.38" opacity="0.50"/><circle cx="448.9" cy="147.6" r="0.46" opacity="0.76"/><circle cx="448.1" cy="128.0" r="0.39" opacity="0.49"/><circle cx="458.9" cy="112.6" r="0.44" opacity="0.70"/><circle cx="452.2" cy="118.7" r="0.31" opacity="0.63"/><circle cx="460.3" cy="159.4" r="0.43" opacity="0.66"/><circle cx="457.2" cy="110.4" r="0.44" opacity="0.59"/><circle cx="466.3" cy="143.7" r="0.47" opacity="0.65"/><circle cx="469.0" cy="143.9" r="0.34" opacity="0.40"/><circle cx="450.4" cy="118.8" r="0.49" opacity="0.84"/><circle cx="466.1" cy="123.8" r="0.39" opacity="0.50"/><circle cx="460.1" cy="160.6" r="0.36" opacity="0.80"/><circle cx="446.7" cy="125.6" r="0.38" opacity="0.56"/><circle cx="455.4" cy="110.1" r="0.32" opacity="0.70"/><circle cx="456.6" cy="160.0" r="0.48" opacity="0.46"/><circle cx="453.1" cy="159.1" r="0.41" opacity="0.81"/><circle cx="460.3" cy="158.5" r="0.45" opacity="0.70"/><circle cx="460.6" cy="111.8" r="0.37" opacity="0.59"/><circle cx="457.6" cy="160.0" r="0.34" opacity="0.59"/><circle cx="461.3" cy="162.1" r="0.36" opacity="0.44"/><circle cx="449.6" cy="123.1" r="0.47" opacity="0.46"/><circle cx="448.7" cy="119.6" r="0.44" opacity="0.50"/><circle cx="460.5" cy="164.7" r="0.47" opacity="0.50"/><circle cx="467.3" cy="138.9" r="0.36" opacity="0.51"/><circle cx="457.5" cy="160.6" r="0.44" opacity="0.52"/><circle cx="447.5" cy="147.3" r="0.30" opacity="0.64"/><circle cx="464.2" cy="155.7" r="0.33" opacity="0.65"/><circle cx="450.7" cy="155.7" r="0.48" opacity="0.67"/><circle cx="448.1" cy="137.7" r="0.46" opacity="0.81"/><circle cx="463.1" cy="157.2" r="0.49" opacity="0.45"/><circle cx="453.5" cy="106.7" r="0.47" opacity="0.65"/><circle cx="454.3" cy="113.5" r="0.34" opacity="0.38"/><circle cx="452.5" cy="118.0" r="0.33" opacity="0.66"/><circle cx="448.6" cy="156.9" r="0.38" opacity="0.59"/><circle cx="450.7" cy="154.7" r="0.34" opacity="0.46"/><circle cx="448.2" cy="132.5" r="0.49" opacity="0.69"/><circle cx="466.4" cy="144.7" r="0.44" opacity="0.55"/><circle cx="446.8" cy="134.6" r="0.40" opacity="0.74"/><circle cx="448.1" cy="125.1" r="0.44" opacity="0.72"/><circle cx="459.5" cy="162.8" r="0.33" opacity="0.42"/><circle cx="454.3" cy="157.1" r="0.41" opacity="0.66"/><circle cx="451.1" cy="118.4" r="0.41" opacity="0.39"/><circle cx="452.7" cy="117.5" r="0.39" opacity="0.42"/><circle cx="454.6" cy="159.3" r="0.49" opacity="0.53"/><circle cx="452.8" cy="158.5" r="0.48" opacity="0.65"/><circle cx="464.4" cy="151.0" r="0.49" opacity="0.67"/><circle cx="461.9" cy="113.1" r="0.48" opacity="0.60"/><circle cx="468.7" cy="131.8" r="0.47" opacity="0.35"/><circle cx="452.9" cy="117.4" r="0.50" opacity="0.71"/><circle cx="465.7" cy="117.1" r="0.42" opacity="0.57"/><circle cx="449.7" cy="148.6" r="0.46" opacity="0.43"/><circle cx="469.3" cy="145.5" r="0.47" opacity="0.69"/><circle cx="455.0" cy="163.4" r="0.48" opacity="0.37"/><circle cx="458.0" cy="160.6" r="0.38" opacity="0.80"/><circle cx="466.5" cy="156.3" r="0.42" opacity="0.38"/><circle cx="458.6" cy="158.6" r="0.38" opacity="0.60"/><circle cx="456.3" cy="158.6" r="0.43" opacity="0.38"/><circle cx="446.7" cy="134.2" r="0.48" opacity="0.41"/><circle cx="450.1" cy="146.9" r="0.39" opacity="0.54"/><circle cx="469.0" cy="132.7" r="0.39" opacity="0.57"/><circle cx="467.9" cy="129.8" r="0.46" opacity="0.67"/><circle cx="462.3" cy="156.9" r="0.37" opacity="0.36"/><circle cx="454.8" cy="115.1" r="0.50" opacity="0.67"/><circle cx="449.0" cy="127.8" r="0.39" opacity="0.56"/><circle cx="456.7" cy="162.8" r="0.34" opacity="0.73"/><circle cx="468.0" cy="129.9" r="0.31" opacity="0.50"/><circle cx="464.6" cy="114.4" r="0.49" opacity="0.62"/><circle cx="448.5" cy="127.4" r="0.44" opacity="0.53"/><circle cx="464.4" cy="117.0" r="0.39" opacity="0.68"/><circle cx="446.9" cy="128.0" r="0.49" opacity="0.73"/><circle cx="450.2" cy="147.9" r="0.40" opacity="0.80"/><circle cx="457.6" cy="109.5" r="0.32" opacity="0.65"/><circle cx="447.9" cy="115.9" r="0.39" opacity="0.83"/><circle cx="469.0" cy="131.7" r="0.45" opacity="0.70"/><circle cx="451.7" cy="156.1" r="0.46" opacity="0.52"/><circle cx="463.3" cy="156.6" r="0.38" opacity="0.60"/><circle cx="469.3" cy="135.0" r="0.46" opacity="0.55"/><circle cx="467.6" cy="123.6" r="0.43" opacity="0.74"/><circle cx="466.3" cy="122.8" r="0.43" opacity="0.68"/><circle cx="449.8" cy="152.1" r="0.32" opacity="0.82"/><circle cx="452.3" cy="154.3" r="0.42" opacity="0.72"/><circle cx="461.5" cy="158.1" r="0.32" opacity="0.65"/><circle cx="450.1" cy="151.2" r="0.48" opacity="0.57"/><circle cx="464.9" cy="149.6" r="0.40" opacity="0.71"/><circle cx="465.9" cy="143.9" r="0.37" opacity="0.59"/><circle cx="468.7" cy="119.1" r="0.43" opacity="0.64"/><circle cx="459.2" cy="159.8" r="0.42" opacity="0.43"/><circle cx="454.9" cy="159.8" r="0.45" opacity="0.58"/><circle cx="456.1" cy="162.8" r="0.40" opacity="0.64"/><circle cx="458.3" cy="165.1" r="0.34" opacity="0.47"/><circle cx="463.4" cy="108.2" r="0.44" opacity="0.46"/><circle cx="449.1" cy="125.6" r="0.42" opacity="0.61"/><circle cx="463.5" cy="162.2" r="0.38" opacity="0.59"/><circle cx="452.3" cy="154.4" r="0.44" opacity="0.81"/><circle cx="464.1" cy="117.0" r="0.42" opacity="0.75"/><circle cx="463.6" cy="154.3" r="0.30" opacity="0.39"/><circle cx="460.2" cy="109.7" r="0.34" opacity="0.44"/><circle cx="451.2" cy="150.4" r="0.48" opacity="0.50"/><circle cx="448.8" cy="127.5" r="0.39" opacity="0.41"/><circle cx="468.4" cy="130.6" r="0.48" opacity="0.58"/><circle cx="469.9" cy="130.0" r="0.31" opacity="0.42"/><circle cx="446.5" cy="139.9" r="0.41" opacity="0.75"/><circle cx="455.8" cy="161.3" r="0.31" opacity="0.80"/><circle cx="460.0" cy="159.6" r="0.42" opacity="0.58"/><circle cx="460.4" cy="158.5" r="0.31" opacity="0.52"/><circle cx="460.1" cy="114.2" r="0.42" opacity="0.67"/><circle cx="461.6" cy="114.4" r="0.43" opacity="0.77"/><circle cx="462.4" cy="155.6" r="0.32" opacity="0.40"/><circle cx="459.5" cy="115.2" r="0.40" opacity="0.81"/><circle cx="469.4" cy="132.8" r="0.37" opacity="0.83"/><circle cx="456.6" cy="113.9" r="0.34" opacity="0.63"/><circle cx="468.7" cy="140.5" r="0.44" opacity="0.78"/><circle cx="458.0" cy="114.8" r="0.33" opacity="0.72"/><circle cx="468.0" cy="134.2" r="0.36" opacity="0.38"/><circle cx="449.3" cy="118.7" r="0.49" opacity="0.41"/><circle cx="462.8" cy="114.8" r="0.47" opacity="0.43"/><circle cx="455.1" cy="159.7" r="0.41" opacity="0.79"/><circle cx="445.1" cy="130.4" r="0.41" opacity="0.74"/><circle cx="459.0" cy="163.4" r="0.37" opacity="0.40"/><circle cx="461.4" cy="160.5" r="0.43" opacity="0.77"/><circle cx="453.5" cy="157.0" r="0.49" opacity="0.68"/><circle cx="452.5" cy="158.2" r="0.43" opacity="0.37"/><circle cx="451.9" cy="108.6" r="0.38" opacity="0.56"/><circle cx="458.8" cy="115.0" r="0.41" opacity="0.80"/><circle cx="465.9" cy="149.8" r="0.47" opacity="0.71"/><circle cx="461.8" cy="159.1" r="0.44" opacity="0.62"/><circle cx="454.1" cy="161.3" r="0.40" opacity="0.47"/><circle cx="449.0" cy="143.4" r="0.35" opacity="0.52"/><circle cx="451.1" cy="151.0" r="0.41" opacity="0.72"/><circle cx="457.3" cy="162.0" r="0.35" opacity="0.42"/><circle cx="467.6" cy="131.3" r="0.49" opacity="0.77"/><circle cx="461.7" cy="157.0" r="0.36" opacity="0.56"/><circle cx="467.2" cy="138.1" r="0.38" opacity="0.69"/><circle cx="463.0" cy="118.3" r="0.46" opacity="0.54"/><circle cx="454.7" cy="157.1" r="0.33" opacity="0.48"/><circle cx="457.0" cy="158.6" r="0.40" opacity="0.76"/><circle cx="454.6" cy="159.9" r="0.38" opacity="0.59"/><circle cx="463.7" cy="117.9" r="0.33" opacity="0.75"/><circle cx="454.5" cy="169.1" r="0.42" opacity="0.61"/><circle cx="448.8" cy="126.9" r="0.30" opacity="0.81"/><circle cx="465.8" cy="121.9" r="0.39" opacity="0.39"/><circle cx="464.3" cy="114.7" r="0.43" opacity="0.43"/><circle cx="459.3" cy="158.2" r="0.46" opacity="0.72"/><circle cx="471.4" cy="133.8" r="0.48" opacity="0.60"/><circle cx="467.1" cy="120.7" r="0.33" opacity="0.39"/><circle cx="462.4" cy="114.3" r="0.45" opacity="0.69"/><circle cx="459.5" cy="162.0" r="0.46" opacity="0.37"/><circle cx="447.1" cy="127.2" r="0.36" opacity="0.85"/><circle cx="456.1" cy="112.6" r="0.46" opacity="0.80"/><circle cx="469.5" cy="125.7" r="0.40" opacity="0.48"/><circle cx="456.2" cy="161.6" r="0.35" opacity="0.36"/><circle cx="448.0" cy="117.3" r="0.31" opacity="0.74"/><circle cx="461.1" cy="162.3" r="0.36" opacity="0.50"/><circle cx="468.2" cy="130.5" r="0.34" opacity="0.37"/><circle cx="451.5" cy="155.7" r="0.49" opacity="0.57"/><circle cx="453.0" cy="116.9" r="0.36" opacity="0.56"/><circle cx="459.0" cy="159.2" r="0.38" opacity="0.69"/><circle cx="463.4" cy="154.1" r="0.43" opacity="0.44"/><circle cx="460.7" cy="112.9" r="0.38" opacity="0.77"/></g>
<ellipse cx="457.80" cy="138.00" rx="1.0" ry="3.60" fill="#fff" opacity="0.95"/>
<path d="M391.80,212.30 L391.57,215.08 L391.20,217.81 L390.69,220.45 L390.05,222.95 L389.31,225.27 L388.48,227.36 L387.58,229.20 L386.61,230.75 L385.60,231.98 L384.55,232.87 L383.48,233.42 L382.40,233.60 L381.32,233.42 L380.25,232.87 L379.20,231.98 L378.19,230.75 L377.22,229.20 L376.32,227.36 L375.49,225.27 L374.75,222.95 L374.11,220.45 L373.60,217.81 L373.23,215.08 L373.00,212.30 L372.93,209.52 L373.04,206.79 L373.32,204.15 L373.77,201.65 L374.40,199.33 L375.19,197.24 L376.13,195.40 L377.21,193.85 L378.40,192.62 L379.69,191.73 L381.03,191.18 L382.40,191.00 L383.77,191.18 L385.11,191.73 L386.40,192.62 L387.59,193.85 L388.67,195.40 L389.61,197.24 L390.40,199.33 L391.03,201.65 L391.48,204.15 L391.76,206.79 L391.87,209.52 Z" fill="#dcdcdc" stroke="#555" stroke-width="0.3" stroke-opacity="0.75"/>
<path d="M390.91,211.92 L390.70,214.44 L390.36,216.91 L389.90,219.30 L389.33,221.56 L388.66,223.65 L387.90,225.55 L387.09,227.21 L386.21,228.61 L385.29,229.73 L384.35,230.54 L383.38,231.03 L382.40,231.20 L381.42,231.03 L380.45,230.54 L379.51,229.73 L378.59,228.61 L377.71,227.21 L376.90,225.55 L376.14,223.65 L375.47,221.56 L374.90,219.30 L374.44,216.91 L374.10,214.44 L373.89,211.92 L373.83,209.40 L373.93,206.93 L374.18,204.54 L374.59,202.28 L375.16,200.19 L375.87,198.29 L376.73,196.63 L377.70,195.23 L378.78,194.11 L379.94,193.30 L381.16,192.81 L382.40,192.64 L383.64,192.81 L384.86,193.30 L386.02,194.11 L387.10,195.23 L388.07,196.63 L388.93,198.29 L389.64,200.19 L390.21,202.28 L390.62,204.54 L390.87,206.93 L390.97,209.40 Z" fill="#d0d0d0" stroke="#555" stroke-width="0.3" stroke-opacity="0.75"/>
<path d="M390.01,211.54 L389.83,213.79 L389.53,216.01 L389.11,218.14 L388.60,220.17 L388.00,222.04 L387.33,223.74 L386.59,225.23 L385.81,226.48 L384.99,227.48 L384.14,228.21 L383.28,228.65 L382.40,228.79 L381.52,228.65 L380.66,228.21 L379.81,227.48 L378.99,226.48 L378.21,225.23 L377.47,223.74 L376.80,222.04 L376.20,220.17 L375.69,218.14 L375.27,216.01 L374.97,213.79 L374.79,211.54 L374.73,209.29 L374.82,207.07 L375.04,204.94 L375.41,202.91 L375.92,201.04 L376.56,199.34 L377.32,197.85 L378.20,196.60 L379.16,195.60 L380.20,194.87 L381.29,194.43 L382.40,194.29 L383.51,194.43 L384.60,194.87 L385.64,195.60 L386.60,196.60 L387.48,197.85 L388.24,199.34 L388.88,201.04 L389.39,202.91 L389.76,204.94 L389.98,207.07 L390.07,209.29 Z" fill="#c6c6c6" stroke="#555" stroke-width="0.3" stroke-opacity="0.75"/>
<path d="M389.12,211.16 L388.96,213.15 L388.69,215.10 L388.32,216.99 L387.87,218.77 L387.34,220.43 L386.75,221.93 L386.10,223.24 L385.41,224.35 L384.69,225.23 L383.94,225.87 L383.17,226.26 L382.40,226.39 L381.63,226.26 L380.86,225.87 L380.11,225.23 L379.39,224.35 L378.70,223.24 L378.05,221.93 L377.46,220.43 L376.93,218.77 L376.48,216.99 L376.11,215.10 L375.84,213.15 L375.68,211.16 L375.63,209.17 L375.71,207.22 L375.91,205.33 L376.23,203.55 L376.68,201.89 L377.24,200.39 L377.92,199.08 L378.69,197.97 L379.54,197.09 L380.46,196.45 L381.42,196.06 L382.40,195.93 L383.38,196.06 L384.34,196.45 L385.26,197.09 L386.11,197.97 L386.88,199.08 L387.56,200.39 L388.12,201.89 L388.57,203.55 L388.89,205.33 L389.09,207.22 L389.17,209.17 Z" fill="#bdbdbd" stroke="#555" stroke-width="0.3" stroke-opacity="0.45"/>
<path d="M388.23,210.78 L388.09,212.50 L387.85,214.20 L387.54,215.83 L387.14,217.38 L386.69,218.82 L386.17,220.12 L385.61,221.26 L385.01,222.22 L384.38,222.98 L383.73,223.54 L383.07,223.87 L382.40,223.99 L381.73,223.87 L381.07,223.54 L380.42,222.98 L379.79,222.22 L379.19,221.26 L378.63,220.12 L378.11,218.82 L377.66,217.38 L377.26,215.83 L376.95,214.20 L376.71,212.50 L376.57,210.78 L376.53,209.06 L376.60,207.36 L376.77,205.73 L377.05,204.18 L377.44,202.74 L377.93,201.44 L378.51,200.30 L379.18,199.34 L379.92,198.58 L380.72,198.02 L381.55,197.69 L382.40,197.57 L383.25,197.69 L384.08,198.02 L384.88,198.58 L385.62,199.34 L386.29,200.30 L386.87,201.44 L387.36,202.74 L387.75,204.18 L388.03,205.73 L388.20,207.36 L388.27,209.06 Z" fill="#b5b5b5" stroke="#555" stroke-width="0.3" stroke-opacity="0.45"/>
<path d="M387.33,210.40 L387.22,211.86 L387.02,213.29 L386.75,214.68 L386.42,215.99 L386.03,217.21 L385.59,218.31 L385.12,219.27 L384.61,220.08 L384.08,220.73 L383.53,221.20 L382.97,221.49 L382.40,221.58 L381.83,221.49 L381.27,221.20 L380.72,220.73 L380.19,220.08 L379.68,219.27 L379.21,218.31 L378.77,217.21 L378.38,215.99 L378.05,214.68 L377.78,213.29 L377.58,211.86 L377.46,210.40 L377.43,208.94 L377.49,207.51 L377.63,206.12 L377.87,204.81 L378.20,203.59 L378.61,202.49 L379.11,201.53 L379.68,200.72 L380.30,200.07 L380.97,199.60 L381.68,199.31 L382.40,199.22 L383.12,199.31 L383.83,199.60 L384.50,200.07 L385.12,200.72 L385.69,201.53 L386.19,202.49 L386.60,203.59 L386.93,204.81 L387.17,206.12 L387.31,207.51 L387.37,208.94 Z" fill="#afafaf" stroke="#555" stroke-width="0.3" stroke-opacity="0.45"/>
<path d="M386.44,210.02 L386.34,211.22 L386.18,212.39 L385.96,213.52 L385.69,214.60 L385.37,215.60 L385.02,216.50 L384.63,217.29 L384.21,217.95 L383.78,218.48 L383.32,218.87 L382.86,219.10 L382.40,219.18 L381.94,219.10 L381.48,218.87 L381.02,218.48 L380.59,217.95 L380.17,217.29 L379.78,216.50 L379.43,215.60 L379.11,214.60 L378.84,213.52 L378.62,212.39 L378.46,211.22 L378.36,210.02 L378.33,208.82 L378.37,207.65 L378.49,206.52 L378.69,205.44 L378.96,204.44 L379.30,203.54 L379.71,202.75 L380.17,202.09 L380.68,201.56 L381.23,201.17 L381.81,200.94 L382.40,200.86 L382.99,200.94 L383.57,201.17 L384.12,201.56 L384.63,202.09 L385.09,202.75 L385.50,203.54 L385.84,204.44 L386.11,205.44 L386.31,206.52 L386.43,207.65 L386.47,208.82 Z" fill="#b2b2b2" stroke="#555" stroke-width="0.3" stroke-opacity="0.45"/>
<path d="M385.55,209.64 L385.47,210.57 L385.35,211.49 L385.18,212.37 L384.96,213.21 L384.72,213.98 L384.44,214.69 L384.13,215.30 L383.81,215.82 L383.47,216.23 L383.12,216.53 L382.76,216.71 L382.40,216.78 L382.04,216.71 L381.68,216.53 L381.33,216.23 L380.99,215.82 L380.67,215.30 L380.36,214.69 L380.08,213.98 L379.84,213.21 L379.62,212.37 L379.45,211.49 L379.33,210.57 L379.25,209.64 L379.23,208.71 L379.26,207.79 L379.36,206.91 L379.51,206.07 L379.72,205.30 L379.98,204.59 L380.30,203.98 L380.66,203.46 L381.06,203.05 L381.49,202.75 L381.94,202.57 L382.40,202.50 L382.86,202.57 L383.31,202.75 L383.74,203.05 L384.14,203.46 L384.50,203.98 L384.82,204.59 L385.08,205.30 L385.29,206.07 L385.44,206.91 L385.54,207.79 L385.57,208.71 Z" fill="#bfbfbf" stroke="#555" stroke-width="0.3" stroke-opacity="0.45"/>
<path d="M384.66,209.26 L384.60,209.93 L384.51,210.58 L384.39,211.22 L384.24,211.82 L384.06,212.37 L383.86,212.87 L383.64,213.32 L383.41,213.69 L383.17,213.98 L382.92,214.20 L382.66,214.33 L382.40,214.37 L382.14,214.33 L381.88,214.20 L381.63,213.98 L381.39,213.69 L381.16,213.32 L380.94,212.87 L380.74,212.37 L380.56,211.82 L380.41,211.22 L380.29,210.58 L380.20,209.93 L380.14,209.26 L380.13,208.59 L380.15,207.94 L380.22,207.30 L380.33,206.70 L380.48,206.15 L380.67,205.65 L380.90,205.20 L381.15,204.83 L381.44,204.54 L381.75,204.32 L382.07,204.19 L382.40,204.15 L382.73,204.19 L383.05,204.32 L383.36,204.54 L383.65,204.83 L383.90,205.20 L384.13,205.65 L384.32,206.15 L384.47,206.70 L384.58,207.30 L384.65,207.94 L384.67,208.59 Z" fill="#d8d8d8" stroke="#555" stroke-width="0.3" stroke-opacity="0.45"/>
<path d="M383.76,208.88 L383.73,209.28 L383.68,209.68 L383.60,210.06 L383.51,210.42 L383.40,210.76 L383.28,211.06 L383.15,211.33 L383.01,211.55 L382.86,211.73 L382.71,211.86 L382.56,211.94 L382.40,211.97 L382.24,211.94 L382.09,211.86 L381.94,211.73 L381.79,211.55 L381.65,211.33 L381.52,211.06 L381.40,210.76 L381.29,210.42 L381.20,210.06 L381.12,209.68 L381.07,209.28 L381.04,208.88 L381.03,208.48 L381.04,208.08 L381.08,207.70 L381.15,207.34 L381.24,207.00 L381.35,206.70 L381.49,206.43 L381.65,206.21 L381.82,206.03 L382.01,205.90 L382.20,205.82 L382.40,205.79 L382.60,205.82 L382.79,205.90 L382.98,206.03 L383.15,206.21 L383.31,206.43 L383.45,206.70 L383.56,207.00 L383.65,207.34 L383.72,207.70 L383.76,208.08 L383.77,208.48 Z" fill="#f2f2f2" stroke="#555" stroke-width="0.3" stroke-opacity="0.45"/>
<g fill="#3d3d3d"><circle cx="383.1" cy="234.8" r="0.42" opacity="0.66"/><circle cx="390.1" cy="220.4" r="0.30" opacity="0.77"/><circle cx="381.9" cy="232.6" r="0.39" opacity="0.77"/><circle cx="369.1" cy="216.9" r="0.43" opacity="0.43"/><circle cx="375.0" cy="195.7" r="0.45" opacity="0.69"/><circle cx="391.1" cy="221.1" r="0.45" opacity="0.65"/><circle cx="379.1" cy="237.2" r="0.39" opacity="0.71"/><circle cx="389.9" cy="198.1" r="0.44" opacity="0.81"/><circle cx="375.8" cy="224.8" r="0.49" opacity="0.79"/><circle cx="390.1" cy="225.5" r="0.33" opacity="0.46"/><circle cx="393.5" cy="207.2" r="0.36" opacity="0.60"/><circle cx="375.9" cy="226.2" r="0.37" opacity="0.64"/><circle cx="372.4" cy="200.3" r="0.49" opacity="0.78"/><circle cx="392.8" cy="211.0" r="0.43" opacity="0.43"/><circle cx="391.1" cy="191.7" r="0.41" opacity="0.71"/><circle cx="384.4" cy="232.6" r="0.47" opacity="0.64"/><circle cx="380.2" cy="237.4" r="0.50" opacity="0.39"/><circle cx="385.9" cy="191.5" r="0.38" opacity="0.43"/><circle cx="380.3" cy="231.6" r="0.31" opacity="0.66"/><circle cx="393.2" cy="219.7" r="0.44" opacity="0.52"/><circle cx="391.0" cy="196.4" r="0.50" opacity="0.50"/><circle cx="389.7" cy="221.5" r="0.42" opacity="0.37"/><circle cx="385.4" cy="234.4" r="0.33" opacity="0.37"/><circle cx="389.8" cy="196.1" r="0.36" opacity="0.83"/><circle cx="391.1" cy="199.0" r="0.40" opacity="0.67"/><circle cx="373.4" cy="199.9" r="0.41" opacity="0.66"/><circle cx="392.8" cy="203.9" r="0.44" opacity="0.47"/><circle cx="380.0" cy="230.7" r="0.50" opacity="0.61"/><circle cx="371.9" cy="205.4" r="0.42" opacity="0.36"/><circle cx="375.1" cy="199.4" r="0.43" opacity="0.38"/><circle cx="373.8" cy="194.7" r="0.37" opacity="0.70"/><circle cx="381.6" cy="192.0" r="0.30" opacity="0.38"/><circle cx="377.4" cy="192.8" r="0.39" opacity="0.65"/><circle cx="379.1" cy="230.2" r="0.37" opacity="0.51"/><circle cx="376.5" cy="228.2" r="0.38" opacity="0.74"/><circle cx="391.3" cy="215.8" r="0.41" opacity="0.72"/><circle cx="379.5" cy="231.2" r="0.35" opacity="0.44"/><circle cx="372.5" cy="222.4" r="0.44" opacity="0.40"/><circle cx="378.5" cy="232.6" r="0.39" opacity="0.78"/><circle cx="387.2" cy="234.2" r="0.37" opacity="0.68"/><circle cx="390.5" cy="198.0" r="0.32" opacity="0.61"/><circle cx="385.2" cy="230.9" r="0.46" opacity="0.77"/><circle cx="385.6" cy="230.9" r="0.43" opacity="0.75"/><circle cx="376.7" cy="233.5" r="0.33" opacity="0.50"/><circle cx="385.2" cy="193.4" r="0.38" opacity="0.56"/><circle cx="374.6" cy="224.4" r="0.48" opacity="0.43"/><circle cx="393.9" cy="213.1" r="0.50" opacity="0.57"/><circle cx="392.4" cy="205.6" r="0.49" opacity="0.46"/><circle cx="382.1" cy="190.4" r="0.40" opacity="0.49"/><circle cx="377.3" cy="232.3" r="0.35" opacity="0.38"/><circle cx="373.7" cy="201.4" r="0.31" opacity="0.80"/><circle cx="377.8" cy="188.3" r="0.48" opacity="0.80"/><circle cx="390.3" cy="200.7" r="0.45" opacity="0.44"/><circle cx="380.1" cy="230.8" r="0.43" opacity="0.61"/><circle cx="374.0" cy="224.6" r="0.37" opacity="0.48"/><circle cx="389.3" cy="196.2" r="0.40" opacity="0.74"/><circle cx="377.5" cy="228.8" r="0.46" opacity="0.44"/><circle cx="385.5" cy="189.7" r="0.48" opacity="0.75"/><circle cx="387.9" cy="190.6" r="0.47" opacity="0.37"/><circle cx="381.4" cy="231.5" r="0.35" opacity="0.61"/><circle cx="373.1" cy="224.1" r="0.30" opacity="0.38"/><circle cx="388.1" cy="226.8" r="0.32" opacity="0.38"/><circle cx="391.8" cy="209.1" r="0.40" opacity="0.51"/><circle cx="379.2" cy="231.0" r="0.37" opacity="0.67"/><circle cx="373.7" cy="201.6" r="0.37" opacity="0.41"/><circle cx="372.9" cy="205.1" r="0.44" opacity="0.54"/><circle cx="389.9" cy="222.3" r="0.42" opacity="0.74"/><circle cx="375.8" cy="227.6" r="0.46" opacity="0.66"/><circle cx="374.0" cy="221.5" r="0.44" opacity="0.56"/><circle cx="378.5" cy="191.4" r="0.39" opacity="0.47"/><circle cx="373.3" cy="207.9" r="0.38" opacity="0.56"/><circle cx="389.9" cy="198.2" r="0.49" opacity="0.54"/><circle cx="390.3" cy="200.4" r="0.39" opacity="0.41"/><circle cx="386.8" cy="192.1" r="0.43" opacity="0.79"/><circle cx="385.4" cy="191.0" r="0.41" opacity="0.40"/><circle cx="372.2" cy="199.6" r="0.30" opacity="0.42"/><circle cx="384.0" cy="191.8" r="0.32" opacity="0.79"/><circle cx="385.7" cy="230.0" r="0.30" opacity="0.77"/><circle cx="388.9" cy="227.6" r="0.47" opacity="0.83"/><circle cx="372.2" cy="201.0" r="0.46" opacity="0.37"/><circle cx="383.8" cy="187.6" r="0.32" opacity="0.72"/><circle cx="391.1" cy="204.5" r="0.31" opacity="0.51"/><circle cx="373.3" cy="204.3" r="0.34" opacity="0.47"/><circle cx="374.4" cy="198.0" r="0.45" opacity="0.55"/><circle cx="376.5" cy="228.5" r="0.38" opacity="0.39"/><circle cx="372.6" cy="212.3" r="0.49" opacity="0.56"/><circle cx="382.2" cy="190.2" r="0.45" opacity="0.69"/><circle cx="371.3" cy="209.7" r="0.40" opacity="0.67"/><circle cx="390.4" cy="200.2" r="0.45" opacity="0.81"/><circle cx="372.8" cy="210.1" r="0.39" opacity="0.71"/><circle cx="385.4" cy="230.2" r="0.42" opacity="0.51"/><circle cx="383.3" cy="233.7" r="0.44" opacity="0.83"/><circle cx="380.2" cy="231.7" r="0.47" opacity="0.64"/><circle cx="381.4" cy="234.9" r="0.34" opacity="0.36"/><circle cx="373.4" cy="215.0" r="0.37" opacity="0.51"/><circle cx="384.0" cy="191.9" r="0.33" opacity="0.85"/><circle cx="372.7" cy="215.2" r="0.47" opacity="0.76"/><circle cx="372.7" cy="204.7" r="0.40" opacity="0.71"/><circle cx="389.9" cy="193.5" r="0.49" opacity="0.58"/><circle cx="383.5" cy="234.7" r="0.35" opacity="0.71"/><circle cx="376.4" cy="189.1" r="0.35" opacity="0.44"/><circle cx="382.0" cy="233.3" r="0.34" opacity="0.70"/><circle cx="389.2" cy="195.7" r="0.47" opacity="0.51"/><circle cx="374.7" cy="221.9" r="0.45" opacity="0.39"/><circle cx="389.5" cy="223.7" r="0.37" opacity="0.64"/><circle cx="377.4" cy="192.9" r="0.30" opacity="0.52"/><circle cx="374.0" cy="220.7" r="0.42" opacity="0.83"/><circle cx="376.3" cy="224.6" r="0.41" opacity="0.41"/><circle cx="381.2" cy="232.1" r="0.48" opacity="0.80"/><circle cx="389.4" cy="224.1" r="0.49" opacity="0.54"/><circle cx="383.8" cy="193.2" r="0.44" opacity="0.68"/><circle cx="386.3" cy="191.5" r="0.35" opacity="0.73"/><circle cx="392.2" cy="207.2" r="0.32" opacity="0.60"/><circle cx="376.9" cy="230.8" r="0.44" opacity="0.69"/><circle cx="372.9" cy="203.7" r="0.43" opacity="0.44"/><circle cx="391.6" cy="197.0" r="0.43" opacity="0.41"/><circle cx="391.8" cy="203.5" r="0.44" opacity="0.65"/><circle cx="372.6" cy="205.0" r="0.43" opacity="0.58"/><circle cx="379.4" cy="230.6" r="0.44" opacity="0.73"/><circle cx="373.0" cy="206.8" r="0.45" opacity="0.53"/><circle cx="381.4" cy="236.8" r="0.31" opacity="0.60"/><circle cx="382.6" cy="236.4" r="0.45" opacity="0.53"/><circle cx="377.9" cy="232.2" r="0.45" opacity="0.53"/><circle cx="388.7" cy="194.5" r="0.32" opacity="0.49"/><circle cx="390.4" cy="226.3" r="0.45" opacity="0.44"/><circle cx="385.8" cy="233.9" r="0.38" opacity="0.72"/><circle cx="386.4" cy="194.7" r="0.33" opacity="0.55"/><circle cx="385.7" cy="234.8" r="0.41" opacity="0.63"/><circle cx="384.6" cy="230.6" r="0.31" opacity="0.75"/><circle cx="392.3" cy="196.2" r="0.49" opacity="0.54"/><circle cx="371.6" cy="204.6" r="0.50" opacity="0.69"/><circle cx="379.8" cy="233.0" r="0.47" opacity="0.59"/><circle cx="374.7" cy="200.9" r="0.45" opacity="0.68"/><circle cx="373.9" cy="213.3" r="0.40" opacity="0.58"/><circle cx="385.1" cy="231.2" r="0.40" opacity="0.67"/><circle cx="374.7" cy="218.9" r="0.41" opacity="0.83"/><circle cx="391.5" cy="197.6" r="0.42" opacity="0.38"/><circle cx="376.3" cy="230.8" r="0.35" opacity="0.39"/><circle cx="372.2" cy="207.0" r="0.47" opacity="0.70"/><circle cx="387.9" cy="227.6" r="0.47" opacity="0.65"/><circle cx="391.3" cy="203.3" r="0.37" opacity="0.75"/><circle cx="393.5" cy="201.9" r="0.47" opacity="0.57"/><circle cx="382.9" cy="191.4" r="0.31" opacity="0.39"/><circle cx="384.7" cy="230.7" r="0.33" opacity="0.60"/><circle cx="378.7" cy="190.6" r="0.43" opacity="0.50"/><circle cx="374.0" cy="216.7" r="0.45" opacity="0.55"/><circle cx="386.4" cy="233.9" r="0.37" opacity="0.54"/><circle cx="371.9" cy="208.2" r="0.42" opacity="0.46"/><circle cx="391.6" cy="212.7" r="0.33" opacity="0.58"/><circle cx="385.7" cy="236.1" r="0.34" opacity="0.44"/><circle cx="375.8" cy="223.4" r="0.32" opacity="0.43"/><circle cx="373.7" cy="213.5" r="0.31" opacity="0.36"/><circle cx="372.8" cy="220.0" r="0.31" opacity="0.55"/><circle cx="375.1" cy="225.8" r="0.31" opacity="0.83"/><circle cx="384.1" cy="234.4" r="0.33" opacity="0.66"/><circle cx="377.5" cy="229.9" r="0.32" opacity="0.38"/><circle cx="380.9" cy="192.3" r="0.39" opacity="0.82"/><circle cx="379.3" cy="236.5" r="0.35" opacity="0.48"/><circle cx="386.8" cy="192.6" r="0.32" opacity="0.69"/><circle cx="392.4" cy="208.2" r="0.42" opacity="0.35"/><circle cx="391.3" cy="216.3" r="0.31" opacity="0.38"/><circle cx="376.5" cy="195.5" r="0.48" opacity="0.45"/><circle cx="394.3" cy="208.1" r="0.48" opacity="0.82"/><circle cx="390.9" cy="216.6" r="0.36" opacity="0.65"/><circle cx="392.3" cy="205.1" r="0.47" opacity="0.41"/><circle cx="375.9" cy="225.5" r="0.37" opacity="0.69"/><circle cx="392.0" cy="202.8" r="0.45" opacity="0.77"/><circle cx="371.3" cy="204.3" r="0.48" opacity="0.53"/><circle cx="375.3" cy="222.5" r="0.40" opacity="0.48"/><circle cx="387.2" cy="234.6" r="0.44" opacity="0.65"/><circle cx="379.6" cy="190.6" r="0.33" opacity="0.71"/><circle cx="391.8" cy="215.4" r="0.39" opacity="0.73"/><circle cx="377.6" cy="193.1" r="0.47" opacity="0.67"/><circle cx="389.9" cy="198.0" r="0.47" opacity="0.57"/><circle cx="390.1" cy="200.5" r="0.37" opacity="0.39"/><circle cx="375.0" cy="225.6" r="0.49" opacity="0.40"/><circle cx="373.4" cy="203.8" r="0.43" opacity="0.47"/><circle cx="390.6" cy="218.4" r="0.33" opacity="0.67"/><circle cx="373.2" cy="201.1" r="0.49" opacity="0.46"/><circle cx="373.7" cy="204.9" r="0.38" opacity="0.74"/><circle cx="374.4" cy="200.0" r="0.34" opacity="0.44"/><circle cx="391.0" cy="223.5" r="0.47" opacity="0.41"/><circle cx="391.6" cy="215.5" r="0.48" opacity="0.39"/><circle cx="374.1" cy="216.6" r="0.34" opacity="0.76"/><circle cx="373.8" cy="197.0" r="0.47" opacity="0.52"/><circle cx="372.9" cy="197.9" r="0.39" opacity="0.41"/><circle cx="388.8" cy="191.1" r="0.34" opacity="0.62"/><circle cx="372.8" cy="217.4" r="0.45" opacity="0.39"/><circle cx="377.8" cy="229.2" r="0.41" opacity="0.72"/><circle cx="375.3" cy="221.3" r="0.43" opacity="0.65"/><circle cx="384.7" cy="237.9" r="0.37" opacity="0.57"/><circle cx="392.7" cy="226.8" r="0.34" opacity="0.43"/><circle cx="391.3" cy="203.8" r="0.50" opacity="0.66"/><circle cx="394.1" cy="201.2" r="0.41" opacity="0.56"/><circle cx="394.4" cy="203.8" r="0.40" opacity="0.74"/><circle cx="374.1" cy="225.7" r="0.50" opacity="0.81"/><circle cx="380.2" cy="232.8" r="0.32" opacity="0.71"/><circle cx="380.2" cy="231.6" r="0.40" opacity="0.67"/><circle cx="390.4" cy="217.2" r="0.39" opacity="0.52"/><circle cx="381.8" cy="190.2" r="0.45" opacity="0.49"/><circle cx="389.0" cy="224.6" r="0.32" opacity="0.43"/><circle cx="383.3" cy="189.7" r="0.44" opacity="0.84"/><circle cx="392.5" cy="209.5" r="0.33" opacity="0.51"/><circle cx="373.4" cy="217.3" r="0.41" opacity="0.62"/><circle cx="377.1" cy="228.5" r="0.39" opacity="0.79"/><circle cx="386.3" cy="192.1" r="0.36" opacity="0.47"/><circle cx="386.2" cy="192.5" r="0.41" opacity="0.62"/><circle cx="386.3" cy="228.9" r="0.31" opacity="0.45"/><circle cx="384.3" cy="183.5" r="0.46" opacity="0.84"/><circle cx="391.3" cy="217.0" r="0.34" opacity="0.36"/><circle cx="374.8" cy="220.5" r="0.41" opacity="0.40"/><circle cx="379.4" cy="231.0" r="0.35" opacity="0.75"/><circle cx="375.4" cy="221.8" r="0.39" opacity="0.66"/><circle cx="377.7" cy="194.2" r="0.48" opacity="0.75"/><circle cx="382.5" cy="235.5" r="0.46" opacity="0.60"/><circle cx="388.3" cy="191.5" r="0.41" opacity="0.49"/><circle cx="387.1" cy="233.5" r="0.48" opacity="0.80"/><circle cx="374.1" cy="216.3" r="0.43" opacity="0.81"/><circle cx="386.9" cy="191.9" r="0.40" opacity="0.44"/><circle cx="385.8" cy="231.8" r="0.44" opacity="0.85"/><circle cx="372.3" cy="205.9" r="0.39" opacity="0.75"/><circle cx="373.9" cy="218.5" r="0.49" opacity="0.43"/><circle cx="378.8" cy="233.3" r="0.47" opacity="0.76"/><circle cx="391.1" cy="204.1" r="0.42" opacity="0.37"/><circle cx="372.3" cy="201.9" r="0.36" opacity="0.70"/><circle cx="391.0" cy="201.5" r="0.32" opacity="0.68"/><circle cx="374.9" cy="231.7" r="0.49" opacity="0.67"/><circle cx="385.0" cy="231.0" r="0.48" opacity="0.44"/><circle cx="376.2" cy="226.1" r="0.35" opacity="0.82"/><circle cx="392.3" cy="204.7" r="0.36" opacity="0.55"/><circle cx="380.8" cy="232.9" r="0.50" opacity="0.39"/><circle cx="383.4" cy="233.3" r="0.34" opacity="0.39"/><circle cx="373.3" cy="209.1" r="0.43" opacity="0.76"/><circle cx="393.9" cy="213.2" r="0.36" opacity="0.83"/><circle cx="389.9" cy="220.6" r="0.35" opacity="0.62"/><circle cx="391.9" cy="219.1" r="0.35" opacity="0.83"/><circle cx="387.6" cy="228.9" r="0.50" opacity="0.69"/><circle cx="376.1" cy="196.0" r="0.33" opacity="0.38"/><circle cx="383.0" cy="192.1" r="0.46" opacity="0.79"/><circle cx="391.0" cy="218.7" r="0.49" opacity="0.62"/><circle cx="375.8" cy="227.1" r="0.50" opacity="0.49"/><circle cx="388.2" cy="228.0" r="0.33" opacity="0.41"/><circle cx="377.5" cy="228.6" r="0.34" opacity="0.82"/><circle cx="391.6" cy="211.9" r="0.50" opacity="0.47"/><circle cx="376.8" cy="230.6" r="0.44" opacity="0.51"/><circle cx="391.2" cy="215.0" r="0.37" opacity="0.72"/><circle cx="384.8" cy="189.9" r="0.41" opacity="0.57"/><circle cx="372.7" cy="207.8" r="0.47" opacity="0.45"/><circle cx="371.9" cy="198.0" r="0.34" opacity="0.83"/><circle cx="388.4" cy="193.7" r="0.33" opacity="0.48"/><circle cx="385.7" cy="239.7" r="0.38" opacity="0.79"/><circle cx="389.3" cy="227.1" r="0.30" opacity="0.78"/><circle cx="385.9" cy="188.6" r="0.41" opacity="0.73"/><circle cx="389.1" cy="223.0" r="0.41" opacity="0.57"/><circle cx="387.7" cy="229.6" r="0.40" opacity="0.54"/><circle cx="379.0" cy="231.5" r="0.37" opacity="0.65"/><circle cx="394.4" cy="209.1" r="0.47" opacity="0.49"/><circle cx="392.7" cy="209.1" r="0.35" opacity="0.41"/><circle cx="373.3" cy="212.2" r="0.43" opacity="0.49"/><circle cx="392.8" cy="207.7" r="0.39" opacity="0.59"/><circle cx="370.0" cy="207.1" r="0.41" opacity="0.57"/><circle cx="372.5" cy="194.3" r="0.31" opacity="0.56"/><circle cx="388.1" cy="196.4" r="0.47" opacity="0.54"/><circle cx="391.9" cy="209.9" r="0.37" opacity="0.46"/><circle cx="372.3" cy="205.7" r="0.47" opacity="0.71"/><circle cx="376.8" cy="228.9" r="0.36" opacity="0.60"/><circle cx="374.9" cy="225.8" r="0.48" opacity="0.64"/><circle cx="388.0" cy="230.5" r="0.34" opacity="0.54"/><circle cx="374.8" cy="199.0" r="0.36" opacity="0.49"/><circle cx="391.0" cy="216.0" r="0.41" opacity="0.81"/><circle cx="373.3" cy="208.1" r="0.47" opacity="0.81"/><circle cx="372.2" cy="221.6" r="0.44" opacity="0.41"/><circle cx="390.5" cy="197.1" r="0.48" opacity="0.49"/><circle cx="385.6" cy="232.8" r="0.46" opacity="0.65"/><circle cx="390.4" cy="223.7" r="0.30" opacity="0.77"/><circle cx="385.5" cy="230.4" r="0.35" opacity="0.54"/><circle cx="371.3" cy="210.5" r="0.43" opacity="0.57"/><circle cx="389.6" cy="224.5" r="0.50" opacity="0.70"/><circle cx="391.3" cy="224.7" r="0.50" opacity="0.38"/><circle cx="391.7" cy="213.6" r="0.40" opacity="0.56"/><circle cx="390.5" cy="199.6" r="0.38" opacity="0.64"/><circle cx="390.6" cy="197.6" r="0.34" opacity="0.55"/><circle cx="389.3" cy="222.7" r="0.49" opacity="0.61"/><circle cx="373.7" cy="203.4" r="0.32" opacity="0.47"/><circle cx="373.1" cy="216.6" r="0.36" opacity="0.84"/><circle cx="376.3" cy="193.0" r="0.41" opacity="0.45"/><circle cx="380.0" cy="232.1" r="0.41" opacity="0.66"/><circle cx="377.4" cy="228.4" r="0.45" opacity="0.80"/><circle cx="388.5" cy="197.2" r="0.31" opacity="0.57"/><circle cx="379.2" cy="232.3" r="0.34" opacity="0.79"/><circle cx="384.3" cy="234.7" r="0.32" opacity="0.81"/><circle cx="373.6" cy="228.5" r="0.34" opacity="0.44"/><circle cx="391.9" cy="217.6" r="0.47" opacity="0.77"/><circle cx="390.0" cy="219.0" r="0.38" opacity="0.54"/><circle cx="385.7" cy="229.5" r="0.44" opacity="0.52"/><circle cx="389.3" cy="226.4" r="0.34" opacity="0.57"/><circle cx="373.8" cy="204.6" r="0.34" opacity="0.69"/><circle cx="372.8" cy="196.6" r="0.34" opacity="0.73"/><circle cx="374.7" cy="227.0" r="0.43" opacity="0.57"/><circle cx="390.5" cy="219.3" r="0.46" opacity="0.78"/></g>
<ellipse cx="382.40" cy="208.30" rx="1.0" ry="3.19" fill="#fff" opacity="0.95"/>
<path d="M466.20,214.50 L465.97,217.57 L465.58,220.58 L465.06,223.49 L464.42,226.25 L463.66,228.81 L462.81,231.12 L461.89,233.14 L460.90,234.85 L459.87,236.21 L458.80,237.20 L457.70,237.80 L456.60,238.00 L455.50,237.80 L454.40,237.20 L453.33,236.21 L452.30,234.85 L451.31,233.14 L450.39,231.12 L449.54,228.81 L448.78,226.25 L448.14,223.49 L447.62,220.58 L447.23,217.57 L447.00,214.50 L446.93,211.43 L447.04,208.42 L447.32,205.51 L447.79,202.75 L448.43,200.19 L449.24,197.88 L450.20,195.86 L451.30,194.15 L452.52,192.79 L453.83,191.80 L455.20,191.20 L456.60,191.00 L458.00,191.20 L459.37,191.80 L460.68,192.79 L461.90,194.15 L463.00,195.86 L463.96,197.88 L464.77,200.19 L465.41,202.75 L465.88,205.51 L466.16,208.42 L466.27,211.43 Z" fill="#dcdcdc" stroke="#555" stroke-width="0.3" stroke-opacity="0.75"/>
<path d="M465.29,214.50 L465.08,217.28 L464.73,220.00 L464.26,222.64 L463.67,225.13 L462.99,227.45 L462.22,229.54 L461.39,231.37 L460.49,232.92 L459.56,234.15 L458.59,235.04 L457.60,235.59 L456.60,235.77 L455.60,235.59 L454.61,235.04 L453.64,234.15 L452.71,232.92 L451.81,231.37 L450.98,229.54 L450.21,227.45 L449.53,225.13 L448.94,222.64 L448.47,220.00 L448.12,217.28 L447.91,214.50 L447.85,211.72 L447.95,209.00 L448.20,206.36 L448.62,203.87 L449.20,201.55 L449.94,199.46 L450.81,197.63 L451.80,196.08 L452.91,194.85 L454.09,193.96 L455.33,193.41 L456.60,193.23 L457.87,193.41 L459.11,193.96 L460.29,194.85 L461.40,196.08 L462.39,197.63 L463.26,199.46 L464.00,201.55 L464.58,203.87 L465.00,206.36 L465.25,209.00 L465.35,211.72 Z" fill="#d0d0d0" stroke="#555" stroke-width="0.3" stroke-opacity="0.75"/>
<path d="M464.38,214.50 L464.19,216.98 L463.88,219.43 L463.45,221.78 L462.93,224.02 L462.32,226.09 L461.63,227.96 L460.88,229.60 L460.08,230.98 L459.25,232.09 L458.38,232.89 L457.49,233.37 L456.60,233.53 L455.71,233.37 L454.82,232.89 L453.95,232.09 L453.12,230.98 L452.32,229.60 L451.57,227.96 L450.88,226.09 L450.27,224.02 L449.75,221.78 L449.32,219.43 L449.01,216.98 L448.82,214.50 L448.77,212.02 L448.86,209.57 L449.09,207.22 L449.46,204.98 L449.98,202.91 L450.63,201.04 L451.42,199.40 L452.31,198.02 L453.29,196.91 L454.35,196.11 L455.46,195.63 L456.60,195.47 L457.74,195.63 L458.85,196.11 L459.91,196.91 L460.89,198.02 L461.78,199.40 L462.57,201.04 L463.22,202.91 L463.74,204.98 L464.11,207.22 L464.34,209.57 L464.43,212.02 Z" fill="#c6c6c6" stroke="#555" stroke-width="0.3" stroke-opacity="0.75"/>
<path d="M463.46,214.50 L463.30,216.69 L463.02,218.85 L462.65,220.93 L462.19,222.90 L461.65,224.73 L461.04,226.38 L460.38,227.83 L459.68,229.05 L458.94,230.02 L458.17,230.73 L457.39,231.16 L456.60,231.30 L455.81,231.16 L455.03,230.73 L454.26,230.02 L453.52,229.05 L452.82,227.83 L452.16,226.38 L451.55,224.73 L451.01,222.90 L450.55,220.93 L450.18,218.85 L449.90,216.69 L449.74,214.50 L449.69,212.31 L449.76,210.15 L449.97,208.07 L450.30,206.10 L450.76,204.27 L451.33,202.62 L452.02,201.17 L452.81,199.95 L453.68,198.98 L454.62,198.27 L455.60,197.84 L456.60,197.70 L457.60,197.84 L458.58,198.27 L459.52,198.98 L460.39,199.95 L461.18,201.17 L461.87,202.62 L462.44,204.27 L462.90,206.10 L463.23,208.07 L463.44,210.15 L463.51,212.31 Z" fill="#bdbdbd" stroke="#555" stroke-width="0.3" stroke-opacity="0.45"/>
<path d="M462.55,214.50 L462.41,216.40 L462.17,218.27 L461.85,220.08 L461.45,221.78 L460.98,223.37 L460.45,224.80 L459.88,226.06 L459.27,227.12 L458.63,227.96 L457.96,228.57 L457.28,228.95 L456.60,229.07 L455.92,228.95 L455.24,228.57 L454.57,227.96 L453.93,227.12 L453.32,226.06 L452.75,224.80 L452.22,223.37 L451.75,221.78 L451.35,220.08 L451.03,218.27 L450.79,216.40 L450.65,214.50 L450.61,212.60 L450.67,210.73 L450.85,208.92 L451.14,207.22 L451.53,205.63 L452.03,204.20 L452.63,202.94 L453.31,201.88 L454.07,201.04 L454.88,200.43 L455.73,200.05 L456.60,199.93 L457.47,200.05 L458.32,200.43 L459.13,201.04 L459.89,201.88 L460.57,202.94 L461.17,204.20 L461.67,205.63 L462.06,207.22 L462.35,208.92 L462.53,210.73 L462.59,212.60 Z" fill="#b5b5b5" stroke="#555" stroke-width="0.3" stroke-opacity="0.45"/>
<path d="M461.64,214.50 L461.52,216.11 L461.32,217.69 L461.04,219.22 L460.70,220.67 L460.31,222.01 L459.86,223.22 L459.38,224.29 L458.86,225.18 L458.31,225.90 L457.75,226.42 L457.18,226.73 L456.60,226.84 L456.02,226.73 L455.45,226.42 L454.89,225.90 L454.34,225.18 L453.82,224.29 L453.34,223.22 L452.89,222.01 L452.50,220.67 L452.16,219.22 L451.88,217.69 L451.68,216.11 L451.56,214.50 L451.52,212.89 L451.58,211.31 L451.73,209.78 L451.97,208.33 L452.31,206.99 L452.73,205.78 L453.24,204.71 L453.82,203.82 L454.46,203.10 L455.14,202.58 L455.86,202.27 L456.60,202.16 L457.34,202.27 L458.06,202.58 L458.74,203.10 L459.38,203.82 L459.96,204.71 L460.47,205.78 L460.89,206.99 L461.23,208.33 L461.47,209.78 L461.62,211.31 L461.68,212.89 Z" fill="#afafaf" stroke="#555" stroke-width="0.3" stroke-opacity="0.45"/>
<path d="M460.73,214.50 L460.63,215.82 L460.46,217.12 L460.24,218.37 L459.96,219.55 L459.64,220.65 L459.27,221.65 L458.87,222.52 L458.45,223.25 L458.00,223.84 L457.54,224.26 L457.07,224.52 L456.60,224.60 L456.13,224.52 L455.66,224.26 L455.20,223.84 L454.75,223.25 L454.33,222.52 L453.93,221.65 L453.56,220.65 L453.24,219.55 L452.96,218.37 L452.74,217.12 L452.57,215.82 L452.47,214.50 L452.44,213.18 L452.49,211.88 L452.61,210.63 L452.81,209.45 L453.09,208.35 L453.43,207.35 L453.85,206.48 L454.32,205.75 L454.85,205.16 L455.41,204.74 L456.00,204.48 L456.60,204.40 L457.20,204.48 L457.79,204.74 L458.35,205.16 L458.88,205.75 L459.35,206.48 L459.77,207.35 L460.11,208.35 L460.39,209.45 L460.59,210.63 L460.71,211.88 L460.76,213.18 Z" fill="#b2b2b2" stroke="#555" stroke-width="0.3" stroke-opacity="0.45"/>
<path d="M459.82,214.50 L459.74,215.53 L459.61,216.54 L459.43,217.51 L459.22,218.44 L458.97,219.29 L458.68,220.07 L458.37,220.75 L458.04,221.32 L457.69,221.77 L457.34,222.10 L456.97,222.31 L456.60,222.37 L456.23,222.31 L455.86,222.10 L455.51,221.77 L455.16,221.32 L454.83,220.75 L454.52,220.07 L454.23,219.29 L453.98,218.44 L453.77,217.51 L453.59,216.54 L453.46,215.53 L453.38,214.50 L453.36,213.47 L453.40,212.46 L453.49,211.49 L453.65,210.56 L453.86,209.71 L454.13,208.93 L454.46,208.25 L454.82,207.68 L455.23,207.23 L455.67,206.90 L456.13,206.69 L456.60,206.63 L457.07,206.69 L457.53,206.90 L457.97,207.23 L458.38,207.68 L458.74,208.25 L459.07,208.93 L459.34,209.71 L459.55,210.56 L459.71,211.49 L459.80,212.46 L459.84,213.47 Z" fill="#bfbfbf" stroke="#555" stroke-width="0.3" stroke-opacity="0.45"/>
<path d="M458.90,214.50 L458.85,215.24 L458.76,215.96 L458.63,216.66 L458.48,217.32 L458.29,217.93 L458.09,218.49 L457.87,218.97 L457.63,219.38 L457.38,219.71 L457.13,219.95 L456.86,220.09 L456.60,220.14 L456.34,220.09 L456.07,219.95 L455.82,219.71 L455.57,219.38 L455.33,218.97 L455.11,218.49 L454.91,217.93 L454.72,217.32 L454.57,216.66 L454.44,215.96 L454.35,215.24 L454.30,214.50 L454.28,213.76 L454.31,213.04 L454.37,212.34 L454.48,211.68 L454.64,211.07 L454.83,210.51 L455.06,210.03 L455.33,209.62 L455.62,209.29 L455.93,209.05 L456.26,208.91 L456.60,208.86 L456.94,208.91 L457.27,209.05 L457.58,209.29 L457.87,209.62 L458.14,210.03 L458.37,210.51 L458.56,211.07 L458.72,211.68 L458.83,212.34 L458.89,213.04 L458.92,213.76 Z" fill="#d8d8d8" stroke="#555" stroke-width="0.3" stroke-opacity="0.45"/>
<path d="M457.99,214.50 L457.96,214.94 L457.90,215.38 L457.83,215.80 L457.73,216.20 L457.62,216.57 L457.50,216.91 L457.37,217.20 L457.22,217.45 L457.07,217.65 L456.92,217.79 L456.76,217.88 L456.60,217.91 L456.44,217.88 L456.28,217.79 L456.13,217.65 L455.98,217.45 L455.83,217.20 L455.70,216.91 L455.58,216.57 L455.47,216.20 L455.37,215.80 L455.30,215.38 L455.24,214.94 L455.21,214.50 L455.20,214.06 L455.21,213.62 L455.25,213.20 L455.32,212.80 L455.41,212.43 L455.53,212.09 L455.67,211.80 L455.83,211.55 L456.01,211.35 L456.20,211.21 L456.40,211.12 L456.60,211.09 L456.80,211.12 L457.00,211.21 L457.19,211.35 L457.37,211.55 L457.53,211.80 L457.67,212.09 L457.79,212.43 L457.88,212.80 L457.95,213.20 L457.99,213.62 L458.00,214.06 Z" fill="#f2f2f2" stroke="#555" stroke-width="0.3" stroke-opacity="0.45"/>
<g fill="#3d3d3d"><circle cx="457.4" cy="238.8" r="0.33" opacity="0.38"/><circle cx="449.3" cy="228.2" r="0.48" opacity="0.75"/><circle cx="457.6" cy="192.6" r="0.36" opacity="0.44"/><circle cx="464.3" cy="230.6" r="0.34" opacity="0.81"/><circle cx="461.9" cy="193.7" r="0.34" opacity="0.50"/><circle cx="447.5" cy="194.5" r="0.45" opacity="0.78"/><circle cx="465.3" cy="196.8" r="0.43" opacity="0.60"/><circle cx="460.4" cy="236.0" r="0.39" opacity="0.39"/><circle cx="466.7" cy="204.7" r="0.36" opacity="0.80"/><circle cx="446.5" cy="203.6" r="0.48" opacity="0.77"/><circle cx="445.5" cy="213.1" r="0.39" opacity="0.43"/><circle cx="453.7" cy="237.0" r="0.46" opacity="0.37"/><circle cx="465.5" cy="221.2" r="0.41" opacity="0.59"/><circle cx="451.8" cy="234.1" r="0.50" opacity="0.45"/><circle cx="449.1" cy="226.4" r="0.36" opacity="0.53"/><circle cx="456.4" cy="187.9" r="0.36" opacity="0.63"/><circle cx="465.0" cy="201.9" r="0.35" opacity="0.73"/><circle cx="449.0" cy="199.9" r="0.35" opacity="0.52"/><circle cx="460.2" cy="234.5" r="0.44" opacity="0.80"/><circle cx="465.7" cy="208.5" r="0.45" opacity="0.83"/><circle cx="466.1" cy="217.2" r="0.46" opacity="0.56"/><circle cx="469.7" cy="203.6" r="0.42" opacity="0.76"/><circle cx="454.4" cy="236.4" r="0.33" opacity="0.54"/><circle cx="467.4" cy="208.5" r="0.37" opacity="0.35"/><circle cx="465.9" cy="221.3" r="0.37" opacity="0.50"/><circle cx="465.1" cy="230.1" r="0.50" opacity="0.56"/><circle cx="458.7" cy="236.1" r="0.33" opacity="0.69"/><circle cx="461.3" cy="232.0" r="0.31" opacity="0.60"/><circle cx="456.6" cy="237.7" r="0.41" opacity="0.74"/><circle cx="449.8" cy="225.9" r="0.50" opacity="0.59"/><circle cx="457.0" cy="236.5" r="0.38" opacity="0.47"/><circle cx="464.3" cy="200.6" r="0.47" opacity="0.60"/><circle cx="464.9" cy="218.7" r="0.34" opacity="0.47"/><circle cx="464.3" cy="196.9" r="0.33" opacity="0.38"/><circle cx="469.7" cy="200.4" r="0.38" opacity="0.80"/><circle cx="449.6" cy="193.1" r="0.46" opacity="0.72"/><circle cx="447.1" cy="215.3" r="0.47" opacity="0.80"/><circle cx="465.7" cy="204.2" r="0.37" opacity="0.68"/><circle cx="460.4" cy="190.0" r="0.41" opacity="0.68"/><circle cx="451.6" cy="189.8" r="0.35" opacity="0.81"/><circle cx="469.7" cy="206.2" r="0.49" opacity="0.68"/><circle cx="466.4" cy="221.7" r="0.48" opacity="0.41"/><circle cx="466.0" cy="210.2" r="0.33" opacity="0.67"/><circle cx="447.5" cy="205.1" r="0.45" opacity="0.81"/><circle cx="458.7" cy="244.1" r="0.30" opacity="0.79"/><circle cx="462.6" cy="228.7" r="0.46" opacity="0.74"/><circle cx="466.3" cy="194.4" r="0.34" opacity="0.69"/><circle cx="452.4" cy="235.2" r="0.48" opacity="0.74"/><circle cx="447.9" cy="218.4" r="0.31" opacity="0.65"/><circle cx="448.0" cy="216.0" r="0.47" opacity="0.65"/><circle cx="462.7" cy="234.1" r="0.40" opacity="0.36"/><circle cx="463.1" cy="192.1" r="0.47" opacity="0.39"/><circle cx="445.4" cy="207.4" r="0.36" opacity="0.47"/><circle cx="446.2" cy="216.7" r="0.49" opacity="0.40"/><circle cx="464.3" cy="232.4" r="0.40" opacity="0.57"/><circle cx="464.5" cy="193.6" r="0.46" opacity="0.38"/><circle cx="464.2" cy="199.4" r="0.47" opacity="0.56"/><circle cx="460.1" cy="191.3" r="0.33" opacity="0.79"/><circle cx="460.5" cy="235.9" r="0.37" opacity="0.62"/><circle cx="466.0" cy="200.4" r="0.44" opacity="0.35"/><circle cx="453.1" cy="238.2" r="0.44" opacity="0.59"/><circle cx="464.3" cy="224.8" r="0.35" opacity="0.77"/><circle cx="451.5" cy="232.0" r="0.43" opacity="0.69"/><circle cx="444.9" cy="193.7" r="0.36" opacity="0.81"/><circle cx="447.2" cy="219.4" r="0.47" opacity="0.74"/><circle cx="448.5" cy="199.5" r="0.39" opacity="0.42"/><circle cx="458.2" cy="189.8" r="0.33" opacity="0.39"/><circle cx="462.5" cy="234.6" r="0.46" opacity="0.44"/><circle cx="465.9" cy="200.2" r="0.37" opacity="0.66"/><circle cx="464.5" cy="228.3" r="0.38" opacity="0.82"/><circle cx="460.2" cy="235.4" r="0.36" opacity="0.36"/><circle cx="466.2" cy="217.5" r="0.49" opacity="0.76"/><circle cx="460.3" cy="191.1" r="0.33" opacity="0.64"/><circle cx="444.2" cy="215.4" r="0.41" opacity="0.82"/><circle cx="457.3" cy="191.4" r="0.43" opacity="0.69"/><circle cx="456.3" cy="193.0" r="0.42" opacity="0.77"/><circle cx="453.7" cy="238.0" r="0.42" opacity="0.80"/><circle cx="453.4" cy="192.5" r="0.36" opacity="0.47"/><circle cx="451.4" cy="241.6" r="0.48" opacity="0.55"/><circle cx="447.1" cy="232.5" r="0.46" opacity="0.49"/><circle cx="448.9" cy="227.0" r="0.41" opacity="0.70"/><circle cx="449.2" cy="200.4" r="0.37" opacity="0.83"/><circle cx="449.3" cy="199.1" r="0.49" opacity="0.84"/><circle cx="465.5" cy="203.7" r="0.42" opacity="0.51"/><circle cx="463.4" cy="226.1" r="0.49" opacity="0.80"/><circle cx="458.6" cy="190.9" r="0.33" opacity="0.47"/><circle cx="454.0" cy="236.8" r="0.46" opacity="0.69"/><circle cx="447.3" cy="208.1" r="0.49" opacity="0.48"/><circle cx="447.0" cy="211.1" r="0.31" opacity="0.51"/><circle cx="462.7" cy="230.2" r="0.31" opacity="0.85"/><circle cx="454.3" cy="239.7" r="0.45" opacity="0.68"/><circle cx="467.3" cy="207.1" r="0.48" opacity="0.71"/><circle cx="446.9" cy="205.9" r="0.41" opacity="0.60"/><circle cx="462.3" cy="236.9" r="0.47" opacity="0.59"/><circle cx="465.5" cy="224.9" r="0.35" opacity="0.55"/><circle cx="451.0" cy="188.8" r="0.47" opacity="0.51"/><circle cx="450.3" cy="228.9" r="0.48" opacity="0.36"/><circle cx="465.8" cy="209.1" r="0.33" opacity="0.43"/><circle cx="462.7" cy="196.2" r="0.41" opacity="0.59"/><circle cx="454.4" cy="191.2" r="0.34" opacity="0.76"/><circle cx="466.7" cy="214.0" r="0.49" opacity="0.54"/><circle cx="464.7" cy="190.1" r="0.47" opacity="0.64"/><circle cx="464.8" cy="231.7" r="0.36" opacity="0.67"/><circle cx="466.6" cy="198.2" r="0.42" opacity="0.37"/><circle cx="449.8" cy="198.7" r="0.43" opacity="0.50"/><circle cx="467.2" cy="196.8" r="0.43" opacity="0.52"/><circle cx="463.2" cy="190.6" r="0.48" opacity="0.68"/><circle cx="452.6" cy="189.4" r="0.42" opacity="0.61"/><circle cx="466.2" cy="212.8" r="0.44" opacity="0.60"/><circle cx="447.0" cy="208.1" r="0.42" opacity="0.47"/><circle cx="459.6" cy="240.6" r="0.48" opacity="0.70"/><circle cx="463.3" cy="230.7" r="0.50" opacity="0.76"/><circle cx="444.2" cy="212.8" r="0.42" opacity="0.66"/><circle cx="465.1" cy="216.9" r="0.45" opacity="0.37"/><circle cx="447.3" cy="217.7" r="0.48" opacity="0.72"/><circle cx="461.2" cy="192.4" r="0.36" opacity="0.54"/><circle cx="447.4" cy="199.1" r="0.49" opacity="0.73"/><circle cx="463.3" cy="197.8" r="0.36" opacity="0.70"/><circle cx="459.2" cy="192.8" r="0.33" opacity="0.36"/><circle cx="465.5" cy="198.0" r="0.49" opacity="0.49"/><circle cx="457.1" cy="188.7" r="0.47" opacity="0.51"/><circle cx="448.4" cy="197.9" r="0.35" opacity="0.61"/><circle cx="465.0" cy="218.5" r="0.48" opacity="0.42"/><circle cx="457.2" cy="190.1" r="0.32" opacity="0.84"/><circle cx="460.9" cy="234.8" r="0.49" opacity="0.68"/><circle cx="464.7" cy="200.1" r="0.40" opacity="0.41"/><circle cx="450.1" cy="242.2" r="0.33" opacity="0.47"/><circle cx="463.0" cy="194.1" r="0.32" opacity="0.84"/><circle cx="453.8" cy="239.9" r="0.48" opacity="0.39"/><circle cx="462.9" cy="195.2" r="0.34" opacity="0.71"/><circle cx="465.0" cy="218.1" r="0.34" opacity="0.37"/><circle cx="452.7" cy="235.6" r="0.37" opacity="0.84"/><circle cx="446.1" cy="196.4" r="0.33" opacity="0.46"/><circle cx="469.5" cy="206.2" r="0.49" opacity="0.69"/><circle cx="469.2" cy="210.6" r="0.44" opacity="0.68"/><circle cx="462.9" cy="194.3" r="0.32" opacity="0.45"/><circle cx="462.9" cy="234.4" r="0.41" opacity="0.53"/><circle cx="456.2" cy="192.7" r="0.47" opacity="0.73"/><circle cx="465.4" cy="219.9" r="0.35" opacity="0.64"/><circle cx="459.5" cy="236.5" r="0.42" opacity="0.52"/><circle cx="450.8" cy="232.4" r="0.34" opacity="0.52"/><circle cx="469.7" cy="211.0" r="0.34" opacity="0.36"/><circle cx="459.8" cy="237.0" r="0.49" opacity="0.60"/><circle cx="466.9" cy="221.4" r="0.36" opacity="0.71"/><circle cx="449.6" cy="229.2" r="0.39" opacity="0.53"/><circle cx="447.7" cy="222.5" r="0.33" opacity="0.36"/><circle cx="458.8" cy="193.4" r="0.32" opacity="0.50"/><circle cx="446.0" cy="205.4" r="0.48" opacity="0.59"/><circle cx="466.8" cy="210.6" r="0.42" opacity="0.65"/><circle cx="448.6" cy="201.9" r="0.44" opacity="0.36"/><circle cx="448.8" cy="222.9" r="0.31" opacity="0.44"/><circle cx="454.7" cy="237.1" r="0.39" opacity="0.51"/><circle cx="449.5" cy="197.4" r="0.44" opacity="0.62"/><circle cx="467.0" cy="208.2" r="0.49" opacity="0.48"/><circle cx="451.7" cy="236.9" r="0.37" opacity="0.78"/><circle cx="459.2" cy="235.6" r="0.39" opacity="0.41"/><circle cx="467.2" cy="193.8" r="0.33" opacity="0.71"/><circle cx="446.1" cy="198.6" r="0.31" opacity="0.76"/><circle cx="466.3" cy="193.5" r="0.46" opacity="0.65"/><circle cx="445.6" cy="207.5" r="0.35" opacity="0.38"/><circle cx="447.5" cy="218.0" r="0.39" opacity="0.49"/><circle cx="452.6" cy="192.9" r="0.49" opacity="0.79"/><circle cx="454.8" cy="235.3" r="0.41" opacity="0.78"/><circle cx="462.2" cy="196.9" r="0.31" opacity="0.57"/><circle cx="466.4" cy="228.5" r="0.36" opacity="0.77"/><circle cx="467.3" cy="207.5" r="0.46" opacity="0.45"/><circle cx="470.0" cy="197.8" r="0.30" opacity="0.35"/><circle cx="454.0" cy="241.5" r="0.40" opacity="0.56"/><circle cx="464.5" cy="228.2" r="0.43" opacity="0.61"/><circle cx="445.7" cy="206.7" r="0.44" opacity="0.38"/><circle cx="448.6" cy="223.2" r="0.45" opacity="0.51"/><circle cx="452.2" cy="233.6" r="0.36" opacity="0.64"/><circle cx="462.7" cy="229.5" r="0.49" opacity="0.43"/><circle cx="457.8" cy="192.3" r="0.41" opacity="0.56"/><circle cx="453.5" cy="238.5" r="0.40" opacity="0.62"/><circle cx="456.7" cy="240.9" r="0.42" opacity="0.44"/><circle cx="447.0" cy="217.1" r="0.42" opacity="0.64"/><circle cx="459.8" cy="238.2" r="0.49" opacity="0.69"/><circle cx="454.7" cy="189.4" r="0.37" opacity="0.50"/><circle cx="453.3" cy="235.0" r="0.36" opacity="0.51"/><circle cx="458.8" cy="238.1" r="0.37" opacity="0.68"/><circle cx="453.5" cy="234.2" r="0.47" opacity="0.75"/><circle cx="452.7" cy="234.2" r="0.32" opacity="0.85"/><circle cx="465.7" cy="219.3" r="0.30" opacity="0.78"/><circle cx="466.4" cy="214.9" r="0.34" opacity="0.47"/><circle cx="467.5" cy="209.3" r="0.38" opacity="0.47"/><circle cx="448.8" cy="222.2" r="0.32" opacity="0.75"/><circle cx="464.3" cy="228.4" r="0.31" opacity="0.35"/><circle cx="468.3" cy="213.4" r="0.41" opacity="0.84"/><circle cx="451.8" cy="234.3" r="0.37" opacity="0.69"/><circle cx="467.0" cy="214.6" r="0.41" opacity="0.59"/><circle cx="467.5" cy="204.4" r="0.39" opacity="0.72"/><circle cx="449.4" cy="229.9" r="0.34" opacity="0.36"/><circle cx="454.7" cy="237.1" r="0.33" opacity="0.58"/><circle cx="455.8" cy="193.0" r="0.36" opacity="0.68"/><circle cx="467.0" cy="195.6" r="0.38" opacity="0.81"/><circle cx="465.2" cy="231.6" r="0.50" opacity="0.77"/><circle cx="453.7" cy="190.2" r="0.39" opacity="0.71"/><circle cx="465.4" cy="196.5" r="0.48" opacity="0.49"/><circle cx="452.2" cy="234.9" r="0.31" opacity="0.79"/><circle cx="449.4" cy="198.1" r="0.34" opacity="0.59"/><circle cx="464.5" cy="197.9" r="0.37" opacity="0.56"/><circle cx="449.1" cy="225.5" r="0.47" opacity="0.36"/><circle cx="453.2" cy="192.8" r="0.45" opacity="0.58"/><circle cx="456.1" cy="193.0" r="0.37" opacity="0.48"/><circle cx="454.3" cy="191.7" r="0.41" opacity="0.68"/><circle cx="466.2" cy="211.1" r="0.49" opacity="0.81"/><circle cx="455.9" cy="186.4" r="0.37" opacity="0.60"/><circle cx="457.0" cy="191.4" r="0.45" opacity="0.68"/><circle cx="456.3" cy="244.0" r="0.42" opacity="0.44"/><circle cx="450.5" cy="197.4" r="0.49" opacity="0.78"/><circle cx="453.9" cy="235.0" r="0.31" opacity="0.76"/><circle cx="458.2" cy="189.4" r="0.47" opacity="0.64"/><circle cx="455.1" cy="241.4" r="0.31" opacity="0.38"/><circle cx="448.5" cy="222.5" r="0.34" opacity="0.75"/><circle cx="466.2" cy="224.8" r="0.42" opacity="0.44"/><circle cx="466.2" cy="215.3" r="0.34" opacity="0.36"/><circle cx="445.4" cy="217.5" r="0.37" opacity="0.64"/><circle cx="447.2" cy="203.5" r="0.37" opacity="0.67"/><circle cx="464.8" cy="234.6" r="0.35" opacity="0.40"/><circle cx="464.0" cy="195.9" r="0.48" opacity="0.54"/><circle cx="459.2" cy="240.0" r="0.35" opacity="0.59"/><circle cx="448.5" cy="232.8" r="0.43" opacity="0.79"/><circle cx="463.1" cy="194.3" r="0.45" opacity="0.76"/><circle cx="452.8" cy="187.9" r="0.48" opacity="0.40"/><circle cx="462.2" cy="233.7" r="0.33" opacity="0.58"/><circle cx="465.5" cy="192.7" r="0.37" opacity="0.63"/><circle cx="456.8" cy="237.0" r="0.43" opacity="0.49"/><circle cx="466.9" cy="215.7" r="0.48" opacity="0.49"/><circle cx="466.4" cy="203.7" r="0.46" opacity="0.43"/><circle cx="459.2" cy="184.5" r="0.44" opacity="0.55"/><circle cx="445.9" cy="207.7" r="0.43" opacity="0.66"/><circle cx="460.0" cy="237.6" r="0.31" opacity="0.50"/><circle cx="464.8" cy="226.4" r="0.39" opacity="0.40"/><circle cx="446.9" cy="210.3" r="0.45" opacity="0.44"/><circle cx="461.7" cy="188.1" r="0.42" opacity="0.48"/><circle cx="466.3" cy="201.2" r="0.42" opacity="0.43"/><circle cx="448.0" cy="215.6" r="0.48" opacity="0.52"/><circle cx="453.5" cy="190.2" r="0.49" opacity="0.43"/><circle cx="458.0" cy="183.4" r="0.37" opacity="0.37"/><circle cx="458.5" cy="235.6" r="0.41" opacity="0.41"/><circle cx="461.0" cy="237.0" r="0.37" opacity="0.61"/><circle cx="461.6" cy="192.3" r="0.48" opacity="0.70"/><circle cx="457.0" cy="192.2" r="0.46" opacity="0.59"/><circle cx="456.0" cy="240.1" r="0.45" opacity="0.80"/><circle cx="466.5" cy="202.4" r="0.40" opacity="0.59"/><circle cx="467.1" cy="209.1" r="0.41" opacity="0.65"/><circle cx="448.4" cy="199.6" r="0.33" opacity="0.60"/><circle cx="460.4" cy="235.1" r="0.36" opacity="0.66"/><circle cx="449.6" cy="228.0" r="0.33" opacity="0.58"/><circle cx="451.5" cy="195.1" r="0.39" opacity="0.70"/><circle cx="466.0" cy="220.0" r="0.43" opacity="0.38"/><circle cx="465.1" cy="199.3" r="0.31" opacity="0.60"/><circle cx="456.2" cy="242.6" r="0.46" opacity="0.74"/><circle cx="463.7" cy="234.0" r="0.38" opacity="0.54"/><circle cx="451.6" cy="233.4" r="0.37" opacity="0.64"/><circle cx="449.6" cy="230.2" r="0.50" opacity="0.73"/><circle cx="454.3" cy="190.6" r="0.49" opacity="0.57"/><circle cx="451.4" cy="231.0" r="0.45" opacity="0.42"/><circle cx="449.0" cy="198.4" r="0.40" opacity="0.74"/><circle cx="465.5" cy="224.0" r="0.31" opacity="0.69"/><circle cx="454.7" cy="241.8" r="0.45" opacity="0.84"/><circle cx="466.8" cy="214.9" r="0.50" opacity="0.81"/><circle cx="465.9" cy="218.8" r="0.33" opacity="0.55"/><circle cx="460.2" cy="193.4" r="0.48" opacity="0.76"/><circle cx="465.3" cy="196.4" r="0.43" opacity="0.48"/><circle cx="455.5" cy="191.5" r="0.33" opacity="0.36"/><circle cx="450.6" cy="239.8" r="0.35" opacity="0.54"/><circle cx="465.5" cy="223.4" r="0.35" opacity="0.40"/><circle cx="447.0" cy="203.8" r="0.32" opacity="0.78"/><circle cx="455.2" cy="237.0" r="0.38" opacity="0.74"/><circle cx="446.9" cy="211.5" r="0.39" opacity="0.79"/><circle cx="461.1" cy="235.1" r="0.36" opacity="0.52"/><circle cx="455.0" cy="239.1" r="0.43" opacity="0.57"/><circle cx="445.4" cy="211.6" r="0.44" opacity="0.50"/><circle cx="450.0" cy="190.7" r="0.44" opacity="0.80"/><circle cx="448.7" cy="232.7" r="0.37" opacity="0.51"/><circle cx="449.0" cy="199.0" r="0.37" opacity="0.77"/><circle cx="451.9" cy="232.7" r="0.42" opacity="0.85"/><circle cx="467.7" cy="205.1" r="0.38" opacity="0.57"/><circle cx="449.4" cy="192.9" r="0.38" opacity="0.78"/><circle cx="464.3" cy="201.1" r="0.46" opacity="0.72"/><circle cx="464.2" cy="200.6" r="0.34" opacity="0.40"/><circle cx="444.1" cy="215.5" r="0.33" opacity="0.48"/><circle cx="448.1" cy="200.0" r="0.37" opacity="0.82"/><circle cx="464.9" cy="226.0" r="0.40" opacity="0.58"/><circle cx="461.1" cy="234.3" r="0.37" opacity="0.63"/><circle cx="446.4" cy="206.1" r="0.39" opacity="0.57"/><circle cx="448.3" cy="199.8" r="0.43" opacity="0.55"/><circle cx="462.6" cy="197.5" r="0.33" opacity="0.62"/><circle cx="453.7" cy="239.4" r="0.43" opacity="0.64"/><circle cx="467.5" cy="203.4" r="0.35" opacity="0.85"/><circle cx="448.4" cy="222.9" r="0.31" opacity="0.43"/><circle cx="446.9" cy="208.4" r="0.35" opacity="0.75"/><circle cx="461.9" cy="235.7" r="0.44" opacity="0.81"/><circle cx="462.6" cy="189.0" r="0.47" opacity="0.37"/><circle cx="446.9" cy="213.0" r="0.45" opacity="0.72"/><circle cx="459.2" cy="238.7" r="0.33" opacity="0.38"/><circle cx="455.9" cy="192.6" r="0.33" opacity="0.42"/><circle cx="466.4" cy="213.1" r="0.31" opacity="0.64"/></g>
<ellipse cx="456.60" cy="214.50" rx="1.0" ry="3.52" fill="#fff" opacity="0.95"/>
<rect x="367.60" y="90.50" width="37.00" height="41.30" fill="none" stroke="#231f20" stroke-width="1.0" />
<rect x="441.40" y="90.50" width="37.00" height="41.30" fill="none" stroke="#231f20" stroke-width="1.0" />
<rect x="367.60" y="170.60" width="37.00" height="41.30" fill="none" stroke="#231f20" stroke-width="1.0" />
<rect x="441.40" y="170.60" width="37.00" height="41.30" fill="none" stroke="#231f20" stroke-width="1.0" />
<rect x="365.00" y="86.20" width="147.60" height="159.80" fill="none" stroke="#231f20" stroke-width="1.3" />
<line x1="439.00" y1="86.20" x2="439.00" y2="246.00" stroke="#555" stroke-width="1.3" />
<line x1="365.00" y1="166.20" x2="512.60" y2="166.20" stroke="#555" stroke-width="1.3" />
<text x="422.60" y="98.00" font-size="10.08" stroke="#231f20" stroke-width="0.22" text-anchor="middle" textLength="10.01" lengthAdjust="spacingAndGlyphs" >61</text>
<text x="496.40" y="98.00" font-size="10.08" stroke="#231f20" stroke-width="0.22" text-anchor="middle" textLength="10.01" lengthAdjust="spacingAndGlyphs" >20</text>
<text x="422.90" y="179.40" font-size="10.08" stroke="#231f20" stroke-width="0.22" text-anchor="middle" textLength="10.01" lengthAdjust="spacingAndGlyphs" >60</text>
<text x="496.60" y="179.40" font-size="10.08" stroke="#231f20" stroke-width="0.22" text-anchor="middle" textLength="10.01" lengthAdjust="spacingAndGlyphs" >30</text>
<text x="357.40" y="97.40" font-size="8.74" stroke="#231f20" stroke-width="0.15" text-anchor="end" textLength="6.6" lengthAdjust="spacingAndGlyphs" >10</text>
<text x="358.10" y="94.40" font-size="4.6" stroke="#231f20" stroke-width="0.1" >5</text>
<line x1="362.80" y1="93.50" x2="365.00" y2="93.50" stroke="#231f20" stroke-width="0.7" />
<text x="357.40" y="116.20" font-size="8.74" stroke="#231f20" stroke-width="0.15" text-anchor="end" textLength="6.6" lengthAdjust="spacingAndGlyphs" >10</text>
<text x="358.10" y="113.20" font-size="4.6" stroke="#231f20" stroke-width="0.1" >4</text>
<line x1="362.80" y1="112.30" x2="365.00" y2="112.30" stroke="#231f20" stroke-width="0.7" />
<text x="357.40" y="136.40" font-size="8.74" stroke="#231f20" stroke-width="0.15" text-anchor="end" textLength="6.6" lengthAdjust="spacingAndGlyphs" >10</text>
<text x="358.10" y="133.40" font-size="4.6" stroke="#231f20" stroke-width="0.1" >3</text>
<line x1="362.80" y1="132.50" x2="365.00" y2="132.50" stroke="#231f20" stroke-width="0.7" />
<line x1="363.90" y1="107.13" x2="365.00" y2="107.13" stroke="#231f20" stroke-width="0.45" />
<line x1="363.90" y1="103.70" x2="365.00" y2="103.70" stroke="#231f20" stroke-width="0.45" />
<line x1="363.90" y1="101.26" x2="365.00" y2="101.26" stroke="#231f20" stroke-width="0.45" />
<line x1="363.90" y1="99.37" x2="365.00" y2="99.37" stroke="#231f20" stroke-width="0.45" />
<line x1="363.90" y1="97.83" x2="365.00" y2="97.83" stroke="#231f20" stroke-width="0.45" />
<line x1="363.90" y1="96.52" x2="365.00" y2="96.52" stroke="#231f20" stroke-width="0.45" />
<line x1="363.90" y1="95.39" x2="365.00" y2="95.39" stroke="#231f20" stroke-width="0.45" />
<line x1="363.90" y1="94.39" x2="365.00" y2="94.39" stroke="#231f20" stroke-width="0.45" />
<line x1="363.90" y1="125.93" x2="365.00" y2="125.93" stroke="#231f20" stroke-width="0.45" />
<line x1="363.90" y1="122.50" x2="365.00" y2="122.50" stroke="#231f20" stroke-width="0.45" />
<line x1="363.90" y1="120.06" x2="365.00" y2="120.06" stroke="#231f20" stroke-width="0.45" />
<line x1="363.90" y1="118.17" x2="365.00" y2="118.17" stroke="#231f20" stroke-width="0.45" />
<line x1="363.90" y1="116.63" x2="365.00" y2="116.63" stroke="#231f20" stroke-width="0.45" />
<line x1="363.90" y1="115.32" x2="365.00" y2="115.32" stroke="#231f20" stroke-width="0.45" />
<line x1="363.90" y1="114.19" x2="365.00" y2="114.19" stroke="#231f20" stroke-width="0.45" />
<line x1="363.90" y1="113.19" x2="365.00" y2="113.19" stroke="#231f20" stroke-width="0.45" />
<text x="361.00" y="156.10" font-size="8.6" stroke="#231f20" stroke-width="0.15" text-anchor="end" >0</text>
<line x1="363.60" y1="148.70" x2="365.00" y2="148.70" stroke="#231f20" stroke-width="0.35" />
<line x1="363.60" y1="149.60" x2="365.00" y2="149.60" stroke="#231f20" stroke-width="0.35" />
<line x1="363.60" y1="150.50" x2="365.00" y2="150.50" stroke="#231f20" stroke-width="0.35" />
<line x1="363.60" y1="151.40" x2="365.00" y2="151.40" stroke="#231f20" stroke-width="0.35" />
<line x1="363.60" y1="152.30" x2="365.00" y2="152.30" stroke="#231f20" stroke-width="0.35" />
<line x1="363.60" y1="153.20" x2="365.00" y2="153.20" stroke="#231f20" stroke-width="0.35" />
<line x1="363.60" y1="154.10" x2="365.00" y2="154.10" stroke="#231f20" stroke-width="0.35" />
<line x1="363.60" y1="155.00" x2="365.00" y2="155.00" stroke="#231f20" stroke-width="0.35" />
<line x1="363.60" y1="155.90" x2="365.00" y2="155.90" stroke="#231f20" stroke-width="0.35" />
<text x="357.40" y="177.40" font-size="8.74" stroke="#231f20" stroke-width="0.15" text-anchor="end" textLength="6.6" lengthAdjust="spacingAndGlyphs" >10</text>
<text x="358.10" y="174.40" font-size="4.6" stroke="#231f20" stroke-width="0.1" >5</text>
<line x1="362.80" y1="173.50" x2="365.00" y2="173.50" stroke="#231f20" stroke-width="0.7" />
<text x="357.40" y="196.20" font-size="8.74" stroke="#231f20" stroke-width="0.15" text-anchor="end" textLength="6.6" lengthAdjust="spacingAndGlyphs" >10</text>
<text x="358.10" y="193.20" font-size="4.6" stroke="#231f20" stroke-width="0.1" >4</text>
<line x1="362.80" y1="192.30" x2="365.00" y2="192.30" stroke="#231f20" stroke-width="0.7" />
<text x="357.40" y="216.40" font-size="8.74" stroke="#231f20" stroke-width="0.15" text-anchor="end" textLength="6.6" lengthAdjust="spacingAndGlyphs" >10</text>
<text x="358.10" y="213.40" font-size="4.6" stroke="#231f20" stroke-width="0.1" >3</text>
<line x1="362.80" y1="212.50" x2="365.00" y2="212.50" stroke="#231f20" stroke-width="0.7" />
<line x1="363.90" y1="187.13" x2="365.00" y2="187.13" stroke="#231f20" stroke-width="0.45" />
<line x1="363.90" y1="183.70" x2="365.00" y2="183.70" stroke="#231f20" stroke-width="0.45" />
<line x1="363.90" y1="181.26" x2="365.00" y2="181.26" stroke="#231f20" stroke-width="0.45" />
<line x1="363.90" y1="179.37" x2="365.00" y2="179.37" stroke="#231f20" stroke-width="0.45" />
<line x1="363.90" y1="177.83" x2="365.00" y2="177.83" stroke="#231f20" stroke-width="0.45" />
<line x1="363.90" y1="176.52" x2="365.00" y2="176.52" stroke="#231f20" stroke-width="0.45" />
<line x1="363.90" y1="175.39" x2="365.00" y2="175.39" stroke="#231f20" stroke-width="0.45" />
<line x1="363.90" y1="174.39" x2="365.00" y2="174.39" stroke="#231f20" stroke-width="0.45" />
<line x1="363.90" y1="205.93" x2="365.00" y2="205.93" stroke="#231f20" stroke-width="0.45" />
<line x1="363.90" y1="202.50" x2="365.00" y2="202.50" stroke="#231f20" stroke-width="0.45" />
<line x1="363.90" y1="200.06" x2="365.00" y2="200.06" stroke="#231f20" stroke-width="0.45" />
<line x1="363.90" y1="198.17" x2="365.00" y2="198.17" stroke="#231f20" stroke-width="0.45" />
<line x1="363.90" y1="196.63" x2="365.00" y2="196.63" stroke="#231f20" stroke-width="0.45" />
<line x1="363.90" y1="195.32" x2="365.00" y2="195.32" stroke="#231f20" stroke-width="0.45" />
<line x1="363.90" y1="194.19" x2="365.00" y2="194.19" stroke="#231f20" stroke-width="0.45" />
<line x1="363.90" y1="193.19" x2="365.00" y2="193.19" stroke="#231f20" stroke-width="0.45" />
<text x="361.00" y="237.30" font-size="8.6" stroke="#231f20" stroke-width="0.15" text-anchor="end" >0</text>
<line x1="363.60" y1="228.70" x2="365.00" y2="228.70" stroke="#231f20" stroke-width="0.35" />
<line x1="363.60" y1="229.60" x2="365.00" y2="229.60" stroke="#231f20" stroke-width="0.35" />
<line x1="363.60" y1="230.50" x2="365.00" y2="230.50" stroke="#231f20" stroke-width="0.35" />
<line x1="363.60" y1="231.40" x2="365.00" y2="231.40" stroke="#231f20" stroke-width="0.35" />
<line x1="363.60" y1="232.30" x2="365.00" y2="232.30" stroke="#231f20" stroke-width="0.35" />
<line x1="363.60" y1="233.20" x2="365.00" y2="233.20" stroke="#231f20" stroke-width="0.35" />
<line x1="363.60" y1="234.10" x2="365.00" y2="234.10" stroke="#231f20" stroke-width="0.35" />
<line x1="363.60" y1="235.00" x2="365.00" y2="235.00" stroke="#231f20" stroke-width="0.35" />
<line x1="363.60" y1="235.90" x2="365.00" y2="235.90" stroke="#231f20" stroke-width="0.35" />
<text x="346.90" y="127.20" font-size="8.51" stroke="#231f20" stroke-width="0.22" text-anchor="middle" textLength="50" lengthAdjust="spacingAndGlyphs" transform="rotate(-90 346.90 127.20)" >–dox shRNA-Off</text>
<text x="346.90" y="205.50" font-size="8.51" stroke="#231f20" stroke-width="0.22" text-anchor="middle" textLength="49" lengthAdjust="spacingAndGlyphs" transform="rotate(-90 346.90 205.50)" >+dox shRNA-On</text>
<text x="364.80" y="255.50" font-size="6.8" stroke="#231f20" stroke-width="0.18" text-anchor="middle" >0</text>
<line x1="364.80" y1="246.00" x2="364.80" y2="247.80" stroke="#231f20" stroke-width="0.6" />
<text x="378.80" y="255.50" font-size="6.72" stroke="#231f20" stroke-width="0.18" text-anchor="middle" textLength="8.4" lengthAdjust="spacingAndGlyphs" >50K</text>
<line x1="378.80" y1="246.00" x2="378.80" y2="247.80" stroke="#231f20" stroke-width="0.6" />
<text x="392.10" y="255.50" font-size="6.72" stroke="#231f20" stroke-width="0.18" text-anchor="middle" textLength="11.2" lengthAdjust="spacingAndGlyphs" >100K</text>
<line x1="392.10" y1="246.00" x2="392.10" y2="247.80" stroke="#231f20" stroke-width="0.6" />
<text x="405.20" y="255.50" font-size="6.72" stroke="#231f20" stroke-width="0.18" text-anchor="middle" textLength="11.1" lengthAdjust="spacingAndGlyphs" >150K</text>
<line x1="405.20" y1="246.00" x2="405.20" y2="247.80" stroke="#231f20" stroke-width="0.6" />
<text x="418.20" y="255.50" font-size="6.72" stroke="#231f20" stroke-width="0.18" text-anchor="middle" textLength="11.2" lengthAdjust="spacingAndGlyphs" >200K</text>
<line x1="418.20" y1="246.00" x2="418.20" y2="247.80" stroke="#231f20" stroke-width="0.6" />
<text x="431.20" y="255.50" font-size="6.72" stroke="#231f20" stroke-width="0.18" text-anchor="middle" textLength="11.6" lengthAdjust="spacingAndGlyphs" >250K</text>
<line x1="431.20" y1="246.00" x2="431.20" y2="247.80" stroke="#231f20" stroke-width="0.6" />
<line x1="365.00" y1="246.00" x2="365.00" y2="247.00" stroke="#231f20" stroke-width="0.4" />
<line x1="371.60" y1="246.00" x2="371.60" y2="247.00" stroke="#231f20" stroke-width="0.4" />
<line x1="378.20" y1="246.00" x2="378.20" y2="247.00" stroke="#231f20" stroke-width="0.4" />
<line x1="384.80" y1="246.00" x2="384.80" y2="247.00" stroke="#231f20" stroke-width="0.4" />
<line x1="391.40" y1="246.00" x2="391.40" y2="247.00" stroke="#231f20" stroke-width="0.4" />
<line x1="398.00" y1="246.00" x2="398.00" y2="247.00" stroke="#231f20" stroke-width="0.4" />
<line x1="404.60" y1="246.00" x2="404.60" y2="247.00" stroke="#231f20" stroke-width="0.4" />
<line x1="411.20" y1="246.00" x2="411.20" y2="247.00" stroke="#231f20" stroke-width="0.4" />
<line x1="417.80" y1="246.00" x2="417.80" y2="247.00" stroke="#231f20" stroke-width="0.4" />
<line x1="424.40" y1="246.00" x2="424.40" y2="247.00" stroke="#231f20" stroke-width="0.4" />
<line x1="431.00" y1="246.00" x2="431.00" y2="247.00" stroke="#231f20" stroke-width="0.4" />
<line x1="437.60" y1="246.00" x2="437.60" y2="247.00" stroke="#231f20" stroke-width="0.4" />
<line x1="444.20" y1="246.00" x2="444.20" y2="247.00" stroke="#231f20" stroke-width="0.4" />
<text x="438.80" y="255.50" font-size="6.8" stroke="#231f20" stroke-width="0.18" text-anchor="middle" >0</text>
<line x1="438.80" y1="246.00" x2="438.80" y2="247.80" stroke="#231f20" stroke-width="0.6" />
<text x="452.80" y="255.50" font-size="6.72" stroke="#231f20" stroke-width="0.18" text-anchor="middle" textLength="8.4" lengthAdjust="spacingAndGlyphs" >50K</text>
<line x1="452.80" y1="246.00" x2="452.80" y2="247.80" stroke="#231f20" stroke-width="0.6" />
<text x="466.10" y="255.50" font-size="6.72" stroke="#231f20" stroke-width="0.18" text-anchor="middle" textLength="11.2" lengthAdjust="spacingAndGlyphs" >100K</text>
<line x1="466.10" y1="246.00" x2="466.10" y2="247.80" stroke="#231f20" stroke-width="0.6" />
<text x="479.20" y="255.50" font-size="6.72" stroke="#231f20" stroke-width="0.18" text-anchor="middle" textLength="11.1" lengthAdjust="spacingAndGlyphs" >150K</text>
<line x1="479.20" y1="246.00" x2="479.20" y2="247.80" stroke="#231f20" stroke-width="0.6" />
<text x="492.20" y="255.50" font-size="6.72" stroke="#231f20" stroke-width="0.18" text-anchor="middle" textLength="11.2" lengthAdjust="spacingAndGlyphs" >200K</text>
<line x1="492.20" y1="246.00" x2="492.20" y2="247.80" stroke="#231f20" stroke-width="0.6" />
<text x="505.20" y="255.50" font-size="6.72" stroke="#231f20" stroke-width="0.18" text-anchor="middle" textLength="11.6" lengthAdjust="spacingAndGlyphs" >250K</text>
<line x1="505.20" y1="246.00" x2="505.20" y2="247.80" stroke="#231f20" stroke-width="0.6" />
<line x1="439.00" y1="246.00" x2="439.00" y2="247.00" stroke="#231f20" stroke-width="0.4" />
<line x1="445.60" y1="246.00" x2="445.60" y2="247.00" stroke="#231f20" stroke-width="0.4" />
<line x1="452.20" y1="246.00" x2="452.20" y2="247.00" stroke="#231f20" stroke-width="0.4" />
<line x1="458.80" y1="246.00" x2="458.80" y2="247.00" stroke="#231f20" stroke-width="0.4" />
<line x1="465.40" y1="246.00" x2="465.40" y2="247.00" stroke="#231f20" stroke-width="0.4" />
<line x1="472.00" y1="246.00" x2="472.00" y2="247.00" stroke="#231f20" stroke-width="0.4" />
<line x1="478.60" y1="246.00" x2="478.60" y2="247.00" stroke="#231f20" stroke-width="0.4" />
<line x1="485.20" y1="246.00" x2="485.20" y2="247.00" stroke="#231f20" stroke-width="0.4" />
<line x1="491.80" y1="246.00" x2="491.80" y2="247.00" stroke="#231f20" stroke-width="0.4" />
<line x1="498.40" y1="246.00" x2="498.40" y2="247.00" stroke="#231f20" stroke-width="0.4" />
<line x1="505.00" y1="246.00" x2="505.00" y2="247.00" stroke="#231f20" stroke-width="0.4" />
<line x1="511.60" y1="246.00" x2="511.60" y2="247.00" stroke="#231f20" stroke-width="0.4" />
<line x1="518.20" y1="246.00" x2="518.20" y2="247.00" stroke="#231f20" stroke-width="0.4" />
<path d="M352.3,261.3 L352.3,231.5" fill="none" stroke="#231f20" stroke-width="1.0" />
<path d="M349.8,233.5 L352.3,228.6 L354.8,233.5 Z" fill="#231f20" />
<path d="M352.3,261.3 L380.5,261.3" fill="none" stroke="#231f20" stroke-width="1.0" />
<path d="M378.5,258.8 L383.4,261.3 L378.5,263.8 Z" fill="#231f20" />
<text x="367.70" y="270.40" font-size="8.96" stroke="#231f20" stroke-width="0.22" text-anchor="middle" textLength="13.8" lengthAdjust="spacingAndGlyphs" >FSC</text>
<text x="347.40" y="246.20" font-size="8.96" stroke="#231f20" stroke-width="0.22" text-anchor="middle" textLength="23.6" lengthAdjust="spacingAndGlyphs" transform="rotate(-90 347.40 246.20)" >CD116</text>
<text x="7.60" y="157.80" font-size="11.2" stroke="#000" stroke-width="0.1" fill="#000" font-weight="bold" >C</text>
<line x1="42.00" y1="162.00" x2="42.00" y2="247.10" stroke="#333" stroke-width="1.3" />
<line x1="42.00" y1="246.50" x2="126.00" y2="246.50" stroke="#333" stroke-width="1.2" />
<line x1="39.20" y1="246.50" x2="42.00" y2="246.50" stroke="#231f20" stroke-width="0.8" />
<text x="36.80" y="249.00" font-size="8.0" stroke="#231f20" stroke-width="0.22" text-anchor="end" textLength="12.0" lengthAdjust="spacingAndGlyphs" >500</text>
<line x1="39.20" y1="225.75" x2="42.00" y2="225.75" stroke="#231f20" stroke-width="0.8" />
<text x="36.80" y="228.25" font-size="8.0" stroke="#231f20" stroke-width="0.22" text-anchor="end" textLength="16.0" lengthAdjust="spacingAndGlyphs" >1000</text>
<line x1="39.20" y1="205.00" x2="42.00" y2="205.00" stroke="#231f20" stroke-width="0.8" />
<text x="36.80" y="207.50" font-size="8.0" stroke="#231f20" stroke-width="0.22" text-anchor="end" textLength="16.0" lengthAdjust="spacingAndGlyphs" >1500</text>
<line x1="39.20" y1="184.25" x2="42.00" y2="184.25" stroke="#231f20" stroke-width="0.8" />
<text x="36.80" y="186.75" font-size="8.0" stroke="#231f20" stroke-width="0.22" text-anchor="end" textLength="16.0" lengthAdjust="spacingAndGlyphs" >2000</text>
<line x1="39.20" y1="163.50" x2="42.00" y2="163.50" stroke="#231f20" stroke-width="0.8" />
<text x="36.80" y="166.00" font-size="8.0" stroke="#231f20" stroke-width="0.22" text-anchor="end" textLength="16.0" lengthAdjust="spacingAndGlyphs" >2500</text>
<text x="15.40" y="204.60" font-size="9.2" stroke="#231f20" stroke-width="0.22" text-anchor="middle" textLength="38.0" lengthAdjust="spacingAndGlyphs" transform="rotate(-90 15.40 204.60)" >CD116 MFI</text>
<rect x="45.30" y="214.88" width="7.40" height="31.62" fill="#e68a95" />
<rect x="56.30" y="234.96" width="7.40" height="11.54" fill="#93b3d3" />
<rect x="74.70" y="188.19" width="7.40" height="58.31" fill="#e68a95" />
<rect x="85.90" y="233.22" width="7.40" height="13.28" fill="#93b3d3" />
<rect x="104.30" y="170.14" width="7.40" height="76.36" fill="#e68a95" />
<rect x="115.10" y="209.56" width="7.40" height="36.94" fill="#93b3d3" />
<line x1="49.00" y1="215.79" x2="49.00" y2="213.72" stroke="#222" stroke-width="0.9" />
<line x1="47.50" y1="213.72" x2="50.50" y2="213.72" stroke="#222" stroke-width="0.9" />
<line x1="47.50" y1="215.79" x2="50.50" y2="215.79" stroke="#222" stroke-width="0.9" />
<line x1="60.00" y1="235.29" x2="60.00" y2="234.05" stroke="#222" stroke-width="0.9" />
<line x1="58.50" y1="234.05" x2="61.50" y2="234.05" stroke="#222" stroke-width="0.9" />
<line x1="58.50" y1="235.29" x2="61.50" y2="235.29" stroke="#222" stroke-width="0.9" />
<line x1="78.40" y1="190.06" x2="78.40" y2="185.91" stroke="#222" stroke-width="0.9" />
<line x1="76.90" y1="185.91" x2="79.90" y2="185.91" stroke="#222" stroke-width="0.9" />
<line x1="76.90" y1="190.06" x2="79.90" y2="190.06" stroke="#222" stroke-width="0.9" />
<line x1="89.60" y1="234.88" x2="89.60" y2="229.90" stroke="#222" stroke-width="0.9" />
<line x1="88.10" y1="229.90" x2="91.10" y2="229.90" stroke="#222" stroke-width="0.9" />
<line x1="88.10" y1="234.88" x2="91.10" y2="234.88" stroke="#222" stroke-width="0.9" />
<line x1="108.00" y1="176.37" x2="108.00" y2="164.75" stroke="#222" stroke-width="0.9" />
<line x1="106.50" y1="164.75" x2="109.50" y2="164.75" stroke="#222" stroke-width="0.9" />
<line x1="106.50" y1="176.37" x2="109.50" y2="176.37" stroke="#222" stroke-width="0.9" />
<line x1="118.80" y1="211.64" x2="118.80" y2="207.07" stroke="#222" stroke-width="0.9" />
<line x1="117.30" y1="207.07" x2="120.30" y2="207.07" stroke="#222" stroke-width="0.9" />
<line x1="117.30" y1="211.64" x2="120.30" y2="211.64" stroke="#222" stroke-width="0.9" />
<circle cx="47.0" cy="213.9" r="1.45" fill="#d10a1e"/>
<circle cx="49.5" cy="214.9" r="1.45" fill="#d10a1e"/>
<circle cx="51.5" cy="215.2" r="1.45" fill="#d10a1e"/>
<rect x="56.60" y="233.89" width="2.80" height="2.80" fill="#0d4a96" rx="0.7"/>
<rect x="58.60" y="233.06" width="2.80" height="2.80" fill="#0d4a96" rx="0.7"/>
<rect x="60.60" y="233.89" width="2.80" height="2.80" fill="#0d4a96" rx="0.7"/>
<circle cx="76.6" cy="189.0" r="1.45" fill="#d10a1e"/>
<circle cx="78.4" cy="183.8" r="1.45" fill="#d10a1e"/>
<circle cx="80.6" cy="189.2" r="1.45" fill="#d10a1e"/>
<rect x="86.20" y="233.06" width="2.80" height="2.80" fill="#0d4a96" rx="0.7"/>
<rect x="88.20" y="227.25" width="2.80" height="2.80" fill="#0d4a96" rx="0.7"/>
<rect x="90.20" y="233.06" width="2.80" height="2.80" fill="#0d4a96" rx="0.7"/>
<circle cx="105.3" cy="163.5" r="1.45" fill="#d10a1e"/>
<circle cx="110.4" cy="166.0" r="1.45" fill="#d10a1e"/>
<circle cx="107.8" cy="181.5" r="1.45" fill="#d10a1e"/>
<rect x="114.80" y="204.64" width="2.80" height="2.80" fill="#0d4a96" rx="0.7"/>
<rect x="119.80" y="205.47" width="2.80" height="2.80" fill="#0d4a96" rx="0.7"/>
<rect x="117.20" y="213.14" width="2.80" height="2.80" fill="#0d4a96" rx="0.7"/>
<line x1="48.80" y1="175.80" x2="78.20" y2="175.80" stroke="#8f8f8f" stroke-width="0.9" />
<circle cx="60.30" cy="172.30" r="1.0" fill="#231f20"/>
<circle cx="63.60" cy="172.30" r="1.0" fill="#231f20"/>
<circle cx="66.90" cy="172.30" r="1.0" fill="#231f20"/>
<line x1="78.50" y1="154.80" x2="105.50" y2="154.80" stroke="#8f8f8f" stroke-width="0.9" />
<text x="91.80" y="151.60" font-size="8.06" stroke="#231f20" stroke-width="0.22" text-anchor="middle" textLength="23.2" lengthAdjust="spacingAndGlyphs" >p=0.05</text>
<line x1="92.80" y1="159.50" x2="122.90" y2="159.50" stroke="#8f8f8f" stroke-width="0.9" />
<circle cx="106.85" cy="157.00" r="1.0" fill="#231f20"/>
<circle cx="110.15" cy="157.00" r="1.0" fill="#231f20"/>
<line x1="54.60" y1="246.50" x2="54.60" y2="249.50" stroke="#231f20" stroke-width="0.8" />
<text x="57.20" y="254.40" font-size="8.4" stroke="#231f20" stroke-width="0.22" text-anchor="end" textLength="40.0" lengthAdjust="spacingAndGlyphs" transform="rotate(-45 57.20 254.40)" >MS4A3 OE</text>
<line x1="84.20" y1="246.50" x2="84.20" y2="249.50" stroke="#231f20" stroke-width="0.8" />
<text x="86.80" y="254.40" font-size="8.4" stroke="#231f20" stroke-width="0.22" text-anchor="end" textLength="20.0" lengthAdjust="spacingAndGlyphs" transform="rotate(-45 86.80 254.40)" >Basal</text>
<line x1="113.50" y1="246.50" x2="113.50" y2="249.50" stroke="#231f20" stroke-width="0.8" />
<text x="116.10" y="254.40" font-size="8.4" stroke="#231f20" stroke-width="0.22" text-anchor="end" textLength="40.0" lengthAdjust="spacingAndGlyphs" transform="rotate(-45 116.10 254.40)" >MS4A3 KD</text>
<circle cx="121.4" cy="170.3" r="1.3" fill="#d10a1e"/>
<rect x="120.20" y="178.60" width="2.40" height="2.40" fill="#0d4a96" rx="0.6"/>
<text x="125.40" y="172.40" font-size="6.94" stroke="#231f20" stroke-width="0.22" textLength="35.6" lengthAdjust="spacingAndGlyphs" >+PBS (5 min)</text>
<text x="125.40" y="182.20" font-size="6.94" stroke="#231f20" stroke-width="0.22" textLength="47.8" lengthAdjust="spacingAndGlyphs" >+GM-CSF (5 min)</text>
<line x1="128.50" y1="235.60" x2="139.80" y2="235.60" stroke="#231f20" stroke-width="0.9" />
<path d="M126,235.6 L129.6,233.6 L129.6,237.6 Z" fill="#231f20" />
<text x="150.40" y="233.50" font-size="9.2" stroke="#231f20" stroke-width="0.22" text-anchor="middle" textLength="27.5" lengthAdjust="spacingAndGlyphs" transform="rotate(-90 150.40 233.50)" >Minimal</text>
<text x="160.30" y="233.20" font-size="9.2" stroke="#231f20" stroke-width="0.22" text-anchor="middle" textLength="50.5" lengthAdjust="spacingAndGlyphs" transform="rotate(-90 160.30 233.20)" >surface CD116</text>
<text x="7.60" y="305.00" font-size="11.2" stroke="#000" stroke-width="0.1" fill="#000" font-weight="bold" >D</text>
<text x="50.20" y="313.00" font-size="8.51" stroke="#231f20" stroke-width="0.22" textLength="93.5" lengthAdjust="spacingAndGlyphs" >α chain of GM-CSFR dimer</text>
<line x1="42.50" y1="319.80" x2="42.50" y2="405.20" stroke="#231f20" stroke-width="1.0" />
<line x1="42.50" y1="405.00" x2="143.70" y2="405.00" stroke="#231f20" stroke-width="1.0" />
<line x1="39.20" y1="327.80" x2="42.50" y2="327.80" stroke="#231f20" stroke-width="0.8" />
<text x="37.20" y="330.70" font-size="8.2" stroke="#231f20" stroke-width="0.22" text-anchor="end" >0</text>
<line x1="39.20" y1="353.35" x2="42.50" y2="353.35" stroke="#231f20" stroke-width="0.8" />
<text x="37.20" y="356.25" font-size="8.2" stroke="#231f20" stroke-width="0.22" text-anchor="end" textLength="17.2" lengthAdjust="spacingAndGlyphs" >–200</text>
<line x1="39.20" y1="378.90" x2="42.50" y2="378.90" stroke="#231f20" stroke-width="0.8" />
<text x="37.20" y="381.80" font-size="8.2" stroke="#231f20" stroke-width="0.22" text-anchor="end" textLength="17.2" lengthAdjust="spacingAndGlyphs" >–400</text>
<line x1="39.20" y1="404.45" x2="42.50" y2="404.45" stroke="#231f20" stroke-width="0.8" />
<text x="37.20" y="407.35" font-size="8.2" stroke="#231f20" stroke-width="0.22" text-anchor="end" textLength="17.2" lengthAdjust="spacingAndGlyphs" >–600</text>
<text x="15.50" y="361.20" font-size="8.5" stroke="#231f20" stroke-width="0.22" text-anchor="middle" textLength="71.0" lengthAdjust="spacingAndGlyphs" transform="rotate(-90 15.50 361.20)" >Change of CD116 MFI</text>
<rect x="62.10" y="327.80" width="9.20" height="70.90" fill="#c41f31" />
<rect x="76.30" y="327.80" width="9.20" height="47.91" fill="#c41f31" />
<rect x="115.00" y="327.80" width="9.20" height="44.46" fill="#14507f" />
<rect x="129.20" y="327.80" width="9.20" height="23.63" fill="#14507f" />
<line x1="66.70" y1="398.70" x2="66.70" y2="400.20" stroke="#222" stroke-width="0.8" />
<line x1="64.40" y1="400.20" x2="69.00" y2="400.20" stroke="#222" stroke-width="0.8" />
<line x1="80.90" y1="375.71" x2="80.90" y2="377.21" stroke="#222" stroke-width="0.8" />
<line x1="78.60" y1="377.21" x2="83.20" y2="377.21" stroke="#222" stroke-width="0.8" />
<line x1="119.60" y1="372.26" x2="119.60" y2="373.76" stroke="#222" stroke-width="0.8" />
<line x1="117.30" y1="373.76" x2="121.90" y2="373.76" stroke="#222" stroke-width="0.8" />
<line x1="133.80" y1="351.43" x2="133.80" y2="352.93" stroke="#222" stroke-width="0.8" />
<line x1="131.50" y1="352.93" x2="136.10" y2="352.93" stroke="#222" stroke-width="0.8" />
<line x1="50.20" y1="327.80" x2="54.40" y2="327.80" stroke="#222" stroke-width="1.6" />
<line x1="42.50" y1="327.80" x2="143.70" y2="327.80" stroke="#231f20" stroke-width="0.9" />
<line x1="81.30" y1="381.70" x2="134.10" y2="381.70" stroke="#7d7d7d" stroke-width="0.8" />
<circle cx="106.05" cy="385.40" r="1.0" fill="#231f20"/>
<circle cx="109.55" cy="385.40" r="1.0" fill="#231f20"/>
<line x1="66.40" y1="400.40" x2="120.00" y2="400.40" stroke="#7d7d7d" stroke-width="0.8" />
<circle cx="91.65" cy="403.10" r="1.0" fill="#231f20"/>
<circle cx="95.15" cy="403.10" r="1.0" fill="#231f20"/>
<line x1="52.30" y1="405.00" x2="52.30" y2="407.80" stroke="#231f20" stroke-width="0.8" />
<line x1="66.40" y1="405.00" x2="66.40" y2="407.80" stroke="#231f20" stroke-width="0.8" />
<line x1="80.60" y1="405.00" x2="80.60" y2="407.80" stroke="#231f20" stroke-width="0.8" />
<line x1="105.20" y1="405.00" x2="105.20" y2="407.80" stroke="#231f20" stroke-width="0.8" />
<line x1="119.30" y1="405.00" x2="119.30" y2="407.80" stroke="#231f20" stroke-width="0.8" />
<line x1="133.50" y1="405.00" x2="133.50" y2="407.80" stroke="#231f20" stroke-width="0.8" />
<text x="53.80" y="414.50" font-size="8.29" stroke="#231f20" stroke-width="0.22" text-anchor="end" textLength="34.5" lengthAdjust="spacingAndGlyphs" transform="rotate(-45 53.80 414.50)" >Untreated</text>
<text x="67.90" y="414.50" font-size="8.29" stroke="#231f20" stroke-width="0.22" text-anchor="end" textLength="54.0" lengthAdjust="spacingAndGlyphs" transform="rotate(-45 67.90 414.50)" >+ GM-CSF 5min</text>
<text x="82.10" y="414.50" font-size="8.29" stroke="#231f20" stroke-width="0.22" text-anchor="end" textLength="54.5" lengthAdjust="spacingAndGlyphs" transform="rotate(-45 82.10 414.50)" >Wash off 60min</text>
<text x="106.70" y="414.50" font-size="8.29" stroke="#231f20" stroke-width="0.22" text-anchor="end" textLength="34.5" lengthAdjust="spacingAndGlyphs" transform="rotate(-45 106.70 414.50)" >Untreated</text>
<text x="120.80" y="414.50" font-size="8.29" stroke="#231f20" stroke-width="0.22" text-anchor="end" textLength="54.0" lengthAdjust="spacingAndGlyphs" transform="rotate(-45 120.80 414.50)" >+ GM-CSF 5min</text>
<text x="135.00" y="414.50" font-size="8.29" stroke="#231f20" stroke-width="0.22" text-anchor="end" textLength="54.5" lengthAdjust="spacingAndGlyphs" transform="rotate(-45 135.00 414.50)" >Wash off 60min</text>
<text x="159.80" y="305.00" font-size="11.2" stroke="#000" stroke-width="0.1" fill="#000" font-weight="bold" >E</text>
<text x="198.80" y="312.10" font-size="8.51" stroke="#231f20" stroke-width="0.22" textLength="92.5" lengthAdjust="spacingAndGlyphs" >β chain of GM-CSFR dimer</text>
<line x1="195.00" y1="317.90" x2="195.00" y2="405.60" stroke="#231f20" stroke-width="1.0" />
<line x1="195.00" y1="405.20" x2="296.00" y2="405.20" stroke="#231f20" stroke-width="1.0" />
<line x1="191.80" y1="324.60" x2="195.00" y2="324.60" stroke="#231f20" stroke-width="0.8" />
<text x="189.60" y="327.50" font-size="8.2" stroke="#231f20" stroke-width="0.22" text-anchor="end" >0</text>
<line x1="191.80" y1="344.80" x2="195.00" y2="344.80" stroke="#231f20" stroke-width="0.8" />
<text x="189.60" y="347.70" font-size="8.2" stroke="#231f20" stroke-width="0.22" text-anchor="end" textLength="17.2" lengthAdjust="spacingAndGlyphs" >–200</text>
<line x1="191.80" y1="365.00" x2="195.00" y2="365.00" stroke="#231f20" stroke-width="0.8" />
<text x="189.60" y="367.90" font-size="8.2" stroke="#231f20" stroke-width="0.22" text-anchor="end" textLength="17.2" lengthAdjust="spacingAndGlyphs" >–400</text>
<line x1="191.80" y1="385.20" x2="195.00" y2="385.20" stroke="#231f20" stroke-width="0.8" />
<text x="189.60" y="388.10" font-size="8.2" stroke="#231f20" stroke-width="0.22" text-anchor="end" textLength="17.2" lengthAdjust="spacingAndGlyphs" >–600</text>
<line x1="191.80" y1="405.40" x2="195.00" y2="405.40" stroke="#231f20" stroke-width="0.8" />
<text x="189.60" y="408.30" font-size="8.2" stroke="#231f20" stroke-width="0.22" text-anchor="end" textLength="17.2" lengthAdjust="spacingAndGlyphs" >–800</text>
<text x="167.30" y="361.20" font-size="8.5" stroke="#231f20" stroke-width="0.22" text-anchor="middle" textLength="71.0" lengthAdjust="spacingAndGlyphs" transform="rotate(-90 167.30 361.20)" >Change of CD131 MFI</text>
<rect x="214.20" y="324.60" width="9.20" height="70.19" fill="#c41f31" />
<rect x="228.90" y="324.60" width="9.20" height="26.76" fill="#c41f31" />
<rect x="267.20" y="324.60" width="9.20" height="40.90" fill="#14507f" />
<rect x="281.60" y="324.60" width="9.20" height="27.07" fill="#14507f" />
<line x1="218.80" y1="394.80" x2="218.80" y2="397.62" stroke="#222" stroke-width="0.8" />
<line x1="216.50" y1="397.62" x2="221.10" y2="397.62" stroke="#222" stroke-width="0.8" />
<line x1="233.50" y1="351.37" x2="233.50" y2="351.97" stroke="#222" stroke-width="0.8" />
<line x1="231.20" y1="351.97" x2="235.80" y2="351.97" stroke="#222" stroke-width="0.8" />
<line x1="271.80" y1="365.50" x2="271.80" y2="367.53" stroke="#222" stroke-width="0.8" />
<line x1="269.50" y1="367.53" x2="274.10" y2="367.53" stroke="#222" stroke-width="0.8" />
<line x1="286.20" y1="351.67" x2="286.20" y2="352.17" stroke="#222" stroke-width="0.8" />
<line x1="283.90" y1="352.17" x2="288.50" y2="352.17" stroke="#222" stroke-width="0.8" />
<line x1="204.60" y1="318.80" x2="204.60" y2="324.60" stroke="#222" stroke-width="0.8" />
<line x1="202.40" y1="318.80" x2="206.80" y2="318.80" stroke="#222" stroke-width="0.9" />
<line x1="257.10" y1="320.00" x2="257.10" y2="324.60" stroke="#222" stroke-width="0.8" />
<line x1="254.90" y1="320.00" x2="259.30" y2="320.00" stroke="#222" stroke-width="0.9" />
<line x1="195.00" y1="324.60" x2="296.00" y2="324.60" stroke="#231f20" stroke-width="0.9" />
<line x1="218.50" y1="400.30" x2="271.70" y2="400.30" stroke="#7d7d7d" stroke-width="0.8" />
<circle cx="243.45" cy="402.90" r="1.0" fill="#231f20"/>
<circle cx="246.95" cy="402.90" r="1.0" fill="#231f20"/>
<line x1="204.60" y1="405.20" x2="204.60" y2="408.00" stroke="#231f20" stroke-width="0.8" />
<line x1="219.00" y1="405.20" x2="219.00" y2="408.00" stroke="#231f20" stroke-width="0.8" />
<line x1="233.40" y1="405.20" x2="233.40" y2="408.00" stroke="#231f20" stroke-width="0.8" />
<line x1="257.10" y1="405.20" x2="257.10" y2="408.00" stroke="#231f20" stroke-width="0.8" />
<line x1="271.70" y1="405.20" x2="271.70" y2="408.00" stroke="#231f20" stroke-width="0.8" />
<line x1="286.10" y1="405.20" x2="286.10" y2="408.00" stroke="#231f20" stroke-width="0.8" />
<text x="206.10" y="414.50" font-size="8.29" stroke="#231f20" stroke-width="0.22" text-anchor="end" textLength="34.5" lengthAdjust="spacingAndGlyphs" transform="rotate(-45 206.10 414.50)" >Untreated</text>
<text x="220.50" y="414.50" font-size="8.29" stroke="#231f20" stroke-width="0.22" text-anchor="end" textLength="54.0" lengthAdjust="spacingAndGlyphs" transform="rotate(-45 220.50 414.50)" >+ GM-CSF 5min</text>
<text x="234.90" y="414.50" font-size="8.29" stroke="#231f20" stroke-width="0.22" text-anchor="end" textLength="54.5" lengthAdjust="spacingAndGlyphs" transform="rotate(-45 234.90 414.50)" >Wash off 60min</text>
<text x="258.60" y="414.50" font-size="8.29" stroke="#231f20" stroke-width="0.22" text-anchor="end" textLength="34.5" lengthAdjust="spacingAndGlyphs" transform="rotate(-45 258.60 414.50)" >Untreated</text>
<text x="273.20" y="414.50" font-size="8.29" stroke="#231f20" stroke-width="0.22" text-anchor="end" textLength="54.0" lengthAdjust="spacingAndGlyphs" transform="rotate(-45 273.20 414.50)" >+ GM-CSF 5min</text>
<text x="287.60" y="414.50" font-size="8.29" stroke="#231f20" stroke-width="0.22" text-anchor="end" textLength="54.5" lengthAdjust="spacingAndGlyphs" transform="rotate(-45 287.60 414.50)" >Wash off 60min</text>
<text x="262.20" y="379.60" font-size="8.74" stroke="#231f20" stroke-width="0.22" textLength="61" lengthAdjust="spacingAndGlyphs" >dox-on-sh<tspan font-style="italic">MS4A3</tspan></text>
<rect x="277.00" y="383.40" width="10.10" height="4.80" fill="#c41f31" />
<rect x="277.00" y="392.70" width="10.10" height="5.30" fill="#14507f" />
<text x="289.70" y="388.60" font-size="8.74" stroke="#231f20" stroke-width="0.22" textLength="18.1" lengthAdjust="spacingAndGlyphs" >– dox</text>
<text x="289.70" y="397.70" font-size="8.74" stroke="#231f20" stroke-width="0.22" textLength="19.6" lengthAdjust="spacingAndGlyphs" >+ dox</text>
<text x="334.40" y="307.30" font-size="11.2" stroke="#000" stroke-width="0.1" fill="#000" font-weight="bold" >F</text>
<text x="435.30" y="294.30" font-size="9.3" stroke="#231f20" stroke-width="0.22" text-anchor="middle" textLength="45.2" lengthAdjust="spacingAndGlyphs" >Extracellular</text>
<text x="322.30" y="353.80" font-size="9.3" stroke="#231f20" stroke-width="0.22" textLength="60.2" lengthAdjust="spacingAndGlyphs" >Transmembrane</text>
<text x="435.30" y="443.50" font-size="9.3" stroke="#231f20" stroke-width="0.22" text-anchor="middle" textLength="46.5" lengthAdjust="spacingAndGlyphs" >Cytoplasmic</text>
<text x="359.60" y="385.30" font-size="9.3" stroke="#231f20" stroke-width="0.22" textLength="8.7" lengthAdjust="spacingAndGlyphs" >N′</text>
<text x="492.40" y="402.00" font-size="9.3" stroke="#231f20" stroke-width="0.22" textLength="7.5" lengthAdjust="spacingAndGlyphs" >C′</text>
<text x="363.30" y="313.80" font-size="9.3" stroke="#d4394f" stroke-width="0.12" fill="#d4394f" textLength="21.7" lengthAdjust="spacingAndGlyphs" >mut.β</text>
<text x="488.20" y="313.00" font-size="9.3" stroke="#d4394f" stroke-width="0.12" fill="#d4394f" textLength="21.6" lengthAdjust="spacingAndGlyphs" >mut.δ</text>
<text x="374.80" y="430.30" font-size="9.3" stroke="#d4394f" stroke-width="0.12" fill="#d4394f" textLength="21.7" lengthAdjust="spacingAndGlyphs" >mut.α</text>
<text x="426.50" y="397.50" font-size="9.3" stroke="#d4394f" stroke-width="0.12" fill="#d4394f" textLength="20.2" lengthAdjust="spacingAndGlyphs" >mut.γ</text>
<text x="470.50" y="430.60" font-size="9.3" stroke="#d4394f" stroke-width="0.12" fill="#d4394f" textLength="20.5" lengthAdjust="spacingAndGlyphs" >mut.ε</text>
<line x1="373.00" y1="327.90" x2="483.00" y2="327.90" stroke="#a5a5a5" stroke-width="1.3" />
<line x1="370.00" y1="373.70" x2="471.50" y2="373.70" stroke="#a5a5a5" stroke-width="1.3" />
<line x1="375.20" y1="346.30" x2="385.50" y2="331.10" stroke="#231f20" stroke-width="0.75" />
<line x1="375.20" y1="356.20" x2="384.20" y2="369.40" stroke="#231f20" stroke-width="0.75" />
<rect x="391.20" y="309.40" width="36.60" height="18.60" fill="none" stroke="#d4394f" stroke-width="0.75" stroke-dasharray="0.75 0.9"/>
<rect x="445.60" y="303.70" width="37.30" height="24.30" fill="none" stroke="#d4394f" stroke-width="0.75" stroke-dasharray="0.75 0.9"/>
<rect x="370.30" y="373.40" width="32.60" height="48.20" fill="none" stroke="#d4394f" stroke-width="0.75" stroke-dasharray="0.75 0.9"/>
<rect x="419.00" y="373.40" width="36.40" height="15.20" fill="none" stroke="#d4394f" stroke-width="0.75" stroke-dasharray="0.75 0.9"/>
<rect x="471.20" y="373.40" width="18.50" height="48.10" fill="none" stroke="#d4394f" stroke-width="0.75" stroke-dasharray="0.75 0.9"/>
<g fill="#d0d0d0" stroke="#2a2a2a" stroke-width="0.65"><circle cx="396.10" cy="327.00" r="1.35"/><circle cx="396.10" cy="324.54" r="1.35"/><circle cx="396.10" cy="322.09" r="1.35"/><circle cx="396.10" cy="319.63" r="1.35"/><circle cx="396.10" cy="317.17" r="1.35"/><circle cx="396.59" cy="315.20" r="1.35"/><circle cx="399.04" cy="315.20" r="1.35"/><circle cx="401.50" cy="315.20" r="1.35"/><circle cx="403.96" cy="315.20" r="1.35"/><circle cx="406.41" cy="315.20" r="1.35"/><circle cx="408.87" cy="315.20" r="1.35"/><circle cx="411.33" cy="315.20" r="1.35"/><circle cx="413.79" cy="315.20" r="1.35"/><circle cx="416.24" cy="315.20" r="1.35"/><circle cx="418.70" cy="315.20" r="1.35"/><circle cx="421.16" cy="315.20" r="1.35"/><circle cx="423.61" cy="315.20" r="1.35"/><circle cx="424.10" cy="317.17" r="1.35"/><circle cx="424.10" cy="319.63" r="1.35"/><circle cx="424.10" cy="322.09" r="1.35"/><circle cx="424.10" cy="324.54" r="1.35"/><circle cx="424.10" cy="327.00" r="1.35"/></g>
<g fill="#d0d0d0" stroke="#2a2a2a" stroke-width="0.65"><circle cx="452.25" cy="327.40" r="1.15"/><circle cx="450.35" cy="325.65" r="1.15"/><circle cx="452.25" cy="323.89" r="1.15"/><circle cx="450.35" cy="322.14" r="1.15"/><circle cx="452.25" cy="320.39" r="1.15"/><circle cx="450.35" cy="318.64" r="1.15"/><circle cx="452.25" cy="316.88" r="1.15"/><circle cx="450.35" cy="315.13" r="1.15"/><circle cx="452.25" cy="313.38" r="1.15"/><circle cx="450.35" cy="311.63" r="1.15"/><circle cx="452.25" cy="309.87" r="1.15"/><circle cx="451.22" cy="307.71" r="1.15"/><circle cx="453.81" cy="307.76" r="1.15"/><circle cx="455.02" cy="306.71" r="1.15"/><circle cx="454.86" cy="309.29" r="1.15"/><circle cx="456.85" cy="310.24" r="1.15"/><circle cx="454.95" cy="311.99" r="1.15"/><circle cx="456.85" cy="313.74" r="1.15"/><circle cx="454.95" cy="315.50" r="1.15"/><circle cx="456.85" cy="317.25" r="1.15"/><circle cx="454.95" cy="319.00" r="1.15"/><circle cx="457.10" cy="319.84" r="1.15"/><circle cx="457.05" cy="322.42" r="1.15"/><circle cx="458.31" cy="321.56" r="1.15"/><circle cx="460.89" cy="321.71" r="1.15"/><circle cx="460.35" cy="319.73" r="1.15"/><circle cx="462.25" cy="317.98" r="1.15"/><circle cx="460.35" cy="316.23" r="1.15"/><circle cx="462.25" cy="314.47" r="1.15"/><circle cx="460.35" cy="312.72" r="1.15"/><circle cx="462.25" cy="310.97" r="1.15"/><circle cx="460.35" cy="309.22" r="1.15"/><circle cx="463.09" cy="308.75" r="1.15"/><circle cx="463.23" cy="306.17" r="1.15"/><circle cx="464.55" cy="308.15" r="1.15"/><circle cx="467.12" cy="307.85" r="1.15"/><circle cx="466.05" cy="310.09" r="1.15"/><circle cx="467.95" cy="311.85" r="1.15"/><circle cx="466.05" cy="313.60" r="1.15"/><circle cx="467.95" cy="315.35" r="1.15"/><circle cx="466.05" cy="317.10" r="1.15"/><circle cx="467.95" cy="318.86" r="1.15"/><circle cx="466.78" cy="321.11" r="1.15"/><circle cx="469.36" cy="320.95" r="1.15"/><circle cx="470.61" cy="323.05" r="1.15"/><circle cx="470.61" cy="320.46" r="1.15"/><circle cx="473.45" cy="319.95" r="1.15"/><circle cx="471.55" cy="318.20" r="1.15"/><circle cx="473.45" cy="316.45" r="1.15"/><circle cx="471.55" cy="314.69" r="1.15"/><circle cx="473.45" cy="312.94" r="1.15"/><circle cx="471.55" cy="311.19" r="1.15"/><circle cx="473.45" cy="309.44" r="1.15"/><circle cx="472.88" cy="307.42" r="1.15"/><circle cx="475.45" cy="307.72" r="1.15"/><circle cx="476.78" cy="306.59" r="1.15"/><circle cx="476.92" cy="309.17" r="1.15"/><circle cx="479.15" cy="309.87" r="1.15"/><circle cx="477.25" cy="311.63" r="1.15"/><circle cx="479.15" cy="313.38" r="1.15"/><circle cx="477.25" cy="315.13" r="1.15"/><circle cx="479.15" cy="316.88" r="1.15"/><circle cx="477.25" cy="318.64" r="1.15"/><circle cx="479.15" cy="320.39" r="1.15"/><circle cx="477.25" cy="322.14" r="1.15"/><circle cx="479.15" cy="323.89" r="1.15"/><circle cx="477.25" cy="325.65" r="1.15"/><circle cx="479.15" cy="327.40" r="1.15"/></g>
<g fill="#d0d0d0" stroke="#2a2a2a" stroke-width="0.65"><circle cx="373.22" cy="379.75" r="1.15"/><circle cx="375.78" cy="379.32" r="1.15"/><circle cx="375.45" cy="381.25" r="1.15"/><circle cx="377.35" cy="383.01" r="1.15"/><circle cx="375.45" cy="384.77" r="1.15"/><circle cx="377.35" cy="386.53" r="1.15"/><circle cx="375.45" cy="388.30" r="1.15"/><circle cx="377.35" cy="390.06" r="1.15"/><circle cx="375.45" cy="391.82" r="1.15"/><circle cx="377.35" cy="393.58" r="1.15"/><circle cx="375.45" cy="395.35" r="1.15"/><circle cx="377.35" cy="397.11" r="1.15"/><circle cx="375.45" cy="398.87" r="1.15"/><circle cx="377.35" cy="400.63" r="1.15"/><circle cx="375.45" cy="402.40" r="1.15"/><circle cx="377.35" cy="404.16" r="1.15"/><circle cx="375.45" cy="405.92" r="1.15"/><circle cx="377.35" cy="407.69" r="1.15"/><circle cx="375.45" cy="409.45" r="1.15"/><circle cx="377.35" cy="411.21" r="1.15"/><circle cx="375.45" cy="412.97" r="1.15"/><circle cx="377.35" cy="414.74" r="1.15"/><circle cx="377.01" cy="416.67" r="1.15"/><circle cx="379.57" cy="416.23" r="1.15"/><circle cx="380.96" cy="417.92" r="1.15"/><circle cx="381.25" cy="415.34" r="1.15"/><circle cx="383.79" cy="415.82" r="1.15"/><circle cx="382.35" cy="413.33" r="1.15"/><circle cx="384.25" cy="411.56" r="1.15"/><circle cx="382.35" cy="409.80" r="1.15"/><circle cx="384.25" cy="408.04" r="1.15"/><circle cx="382.35" cy="406.28" r="1.15"/><circle cx="384.25" cy="404.51" r="1.15"/><circle cx="382.35" cy="402.75" r="1.15"/><circle cx="384.25" cy="400.99" r="1.15"/><circle cx="382.35" cy="399.23" r="1.15"/><circle cx="384.25" cy="397.46" r="1.15"/><circle cx="382.35" cy="395.70" r="1.15"/><circle cx="384.25" cy="393.94" r="1.15"/><circle cx="382.35" cy="392.18" r="1.15"/><circle cx="384.25" cy="390.41" r="1.15"/><circle cx="382.35" cy="388.65" r="1.15"/><circle cx="384.25" cy="386.89" r="1.15"/><circle cx="382.35" cy="385.12" r="1.15"/><circle cx="384.25" cy="383.36" r="1.15"/><circle cx="382.35" cy="381.60" r="1.15"/><circle cx="384.79" cy="381.17" r="1.15"/><circle cx="385.24" cy="378.61" r="1.15"/><circle cx="386.74" cy="379.94" r="1.15"/><circle cx="389.24" cy="379.27" r="1.15"/><circle cx="389.25" cy="381.03" r="1.15"/><circle cx="391.15" cy="382.79" r="1.15"/><circle cx="389.25" cy="384.56" r="1.15"/><circle cx="391.15" cy="386.32" r="1.15"/><circle cx="389.25" cy="388.08" r="1.15"/><circle cx="391.15" cy="389.84" r="1.15"/><circle cx="389.25" cy="391.61" r="1.15"/><circle cx="391.15" cy="393.37" r="1.15"/><circle cx="389.25" cy="395.13" r="1.15"/><circle cx="391.15" cy="396.90" r="1.15"/><circle cx="389.25" cy="398.66" r="1.15"/><circle cx="391.15" cy="400.42" r="1.15"/><circle cx="389.25" cy="402.18" r="1.15"/><circle cx="391.15" cy="403.95" r="1.15"/><circle cx="389.25" cy="405.71" r="1.15"/><circle cx="391.15" cy="407.47" r="1.15"/><circle cx="389.25" cy="409.23" r="1.15"/><circle cx="391.15" cy="411.00" r="1.15"/><circle cx="389.25" cy="412.76" r="1.15"/><circle cx="391.15" cy="414.52" r="1.15"/><circle cx="390.64" cy="416.54" r="1.15"/><circle cx="393.20" cy="416.10" r="1.15"/><circle cx="394.59" cy="418.05" r="1.15"/><circle cx="394.87" cy="415.47" r="1.15"/><circle cx="397.42" cy="415.94" r="1.15"/><circle cx="396.15" cy="413.54" r="1.15"/><circle cx="398.05" cy="411.78" r="1.15"/><circle cx="396.15" cy="410.02" r="1.15"/><circle cx="398.05" cy="408.25" r="1.15"/><circle cx="396.15" cy="406.49" r="1.15"/><circle cx="398.05" cy="404.73" r="1.15"/><circle cx="396.15" cy="402.97" r="1.15"/><circle cx="398.05" cy="401.20" r="1.15"/><circle cx="396.15" cy="399.44" r="1.15"/><circle cx="398.05" cy="397.68" r="1.15"/><circle cx="396.15" cy="395.92" r="1.15"/><circle cx="398.05" cy="394.15" r="1.15"/><circle cx="396.15" cy="392.39" r="1.15"/><circle cx="398.05" cy="390.63" r="1.15"/><circle cx="396.15" cy="388.86" r="1.15"/><circle cx="398.05" cy="387.10" r="1.15"/><circle cx="396.15" cy="385.34" r="1.15"/><circle cx="398.05" cy="383.58" r="1.15"/><circle cx="396.15" cy="381.81" r="1.15"/><circle cx="398.05" cy="380.05" r="1.15"/><circle cx="396.15" cy="378.29" r="1.15"/><circle cx="398.05" cy="376.53" r="1.15"/><circle cx="396.15" cy="374.76" r="1.15"/><circle cx="398.05" cy="373.00" r="1.15"/></g>
<g fill="#d0d0d0" stroke="#2a2a2a" stroke-width="0.65"><circle cx="424.00" cy="374.00" r="1.35"/><circle cx="424.00" cy="376.53" r="1.35"/><circle cx="424.00" cy="379.06" r="1.35"/><circle cx="424.00" cy="381.58" r="1.35"/><circle cx="425.21" cy="382.90" r="1.35"/><circle cx="427.74" cy="382.90" r="1.35"/><circle cx="430.27" cy="382.90" r="1.35"/><circle cx="432.79" cy="382.90" r="1.35"/><circle cx="435.32" cy="382.90" r="1.35"/><circle cx="437.85" cy="382.90" r="1.35"/><circle cx="440.38" cy="382.90" r="1.35"/><circle cx="442.91" cy="382.90" r="1.35"/><circle cx="445.43" cy="382.90" r="1.35"/><circle cx="447.96" cy="382.90" r="1.35"/><circle cx="450.49" cy="382.90" r="1.35"/><circle cx="451.70" cy="381.58" r="1.35"/><circle cx="451.70" cy="379.06" r="1.35"/><circle cx="451.70" cy="376.53" r="1.35"/><circle cx="451.70" cy="374.00" r="1.35"/></g>
<g fill="#d0d0d0" stroke="#2a2a2a" stroke-width="0.65"><circle cx="477.60" cy="373.50" r="1.15"/><circle cx="479.40" cy="375.25" r="1.15"/><circle cx="477.60" cy="377.01" r="1.15"/><circle cx="479.40" cy="378.76" r="1.15"/><circle cx="477.60" cy="380.52" r="1.15"/><circle cx="479.40" cy="382.27" r="1.15"/><circle cx="477.60" cy="384.03" r="1.15"/><circle cx="479.40" cy="385.78" r="1.15"/><circle cx="477.60" cy="387.53" r="1.15"/><circle cx="479.40" cy="389.29" r="1.15"/><circle cx="477.60" cy="391.04" r="1.15"/><circle cx="479.40" cy="392.80" r="1.15"/><circle cx="477.60" cy="394.55" r="1.15"/><circle cx="479.40" cy="396.30" r="1.15"/><circle cx="477.60" cy="398.06" r="1.15"/><circle cx="479.40" cy="399.81" r="1.15"/><circle cx="477.60" cy="401.57" r="1.15"/><circle cx="479.40" cy="403.32" r="1.15"/><circle cx="477.60" cy="405.08" r="1.15"/><circle cx="479.40" cy="406.83" r="1.15"/><circle cx="477.60" cy="408.58" r="1.15"/><circle cx="479.40" cy="410.34" r="1.15"/><circle cx="477.60" cy="412.09" r="1.15"/><circle cx="479.40" cy="413.85" r="1.15"/><circle cx="478.78" cy="415.89" r="1.15"/><circle cx="481.28" cy="415.61" r="1.15"/><circle cx="482.63" cy="417.69" r="1.15"/><circle cx="482.88" cy="415.19" r="1.15"/><circle cx="485.38" cy="415.51" r="1.15"/><circle cx="484.30" cy="413.23" r="1.15"/><circle cx="486.10" cy="411.48" r="1.15"/><circle cx="484.30" cy="409.73" r="1.15"/><circle cx="486.10" cy="407.97" r="1.15"/><circle cx="484.30" cy="406.22" r="1.15"/><circle cx="486.10" cy="404.46" r="1.15"/><circle cx="484.30" cy="402.71" r="1.15"/><circle cx="486.10" cy="400.95" r="1.15"/><circle cx="484.30" cy="399.20" r="1.15"/></g>
<g fill="#d4d4d4" stroke="#1e1e1e" stroke-width="0.85"><ellipse cx="391.70" cy="333.30" rx="1.6" ry="1.45"/><ellipse cx="394.40" cy="332.75" rx="1.6" ry="1.45"/><ellipse cx="397.10" cy="332.20" rx="1.6" ry="1.45"/><ellipse cx="399.80" cy="331.65" rx="1.6" ry="1.45"/><ellipse cx="402.50" cy="331.10" rx="1.6" ry="1.45"/></g>
<g fill="#d4d4d4" stroke="#1e1e1e" stroke-width="0.85"><ellipse cx="391.00" cy="340.70" rx="1.6" ry="1.45"/><ellipse cx="394.05" cy="340.15" rx="1.6" ry="1.45"/><ellipse cx="397.10" cy="339.60" rx="1.6" ry="1.45"/><ellipse cx="400.15" cy="339.05" rx="1.6" ry="1.45"/><ellipse cx="403.20" cy="338.50" rx="1.6" ry="1.45"/></g>
<g fill="#d4d4d4" stroke="#1e1e1e" stroke-width="0.85"><ellipse cx="391.00" cy="348.20" rx="1.6" ry="1.45"/><ellipse cx="394.05" cy="347.65" rx="1.6" ry="1.45"/><ellipse cx="397.10" cy="347.10" rx="1.6" ry="1.45"/><ellipse cx="400.15" cy="346.55" rx="1.6" ry="1.45"/><ellipse cx="403.20" cy="346.00" rx="1.6" ry="1.45"/></g>
<g fill="#d4d4d4" stroke="#1e1e1e" stroke-width="0.85"><ellipse cx="391.00" cy="355.70" rx="1.6" ry="1.45"/><ellipse cx="394.05" cy="355.15" rx="1.6" ry="1.45"/><ellipse cx="397.10" cy="354.60" rx="1.6" ry="1.45"/><ellipse cx="400.15" cy="354.05" rx="1.6" ry="1.45"/><ellipse cx="403.20" cy="353.50" rx="1.6" ry="1.45"/></g>
<g fill="#d4d4d4" stroke="#1e1e1e" stroke-width="0.85"><ellipse cx="391.00" cy="363.20" rx="1.6" ry="1.45"/><ellipse cx="394.05" cy="362.65" rx="1.6" ry="1.45"/><ellipse cx="397.10" cy="362.10" rx="1.6" ry="1.45"/><ellipse cx="400.15" cy="361.55" rx="1.6" ry="1.45"/><ellipse cx="403.20" cy="361.00" rx="1.6" ry="1.45"/></g>
<g fill="#d4d4d4" stroke="#1e1e1e" stroke-width="0.85"><ellipse cx="391.70" cy="370.70" rx="1.6" ry="1.45"/><ellipse cx="394.40" cy="370.15" rx="1.6" ry="1.45"/><ellipse cx="397.10" cy="369.60" rx="1.6" ry="1.45"/><ellipse cx="399.80" cy="369.05" rx="1.6" ry="1.45"/><ellipse cx="402.50" cy="368.50" rx="1.6" ry="1.45"/></g>
<g fill="#d4d4d4" stroke="#1e1e1e" stroke-width="0.85"><ellipse cx="418.80" cy="331.10" rx="1.6" ry="1.45"/><ellipse cx="421.50" cy="331.65" rx="1.6" ry="1.45"/><ellipse cx="424.20" cy="332.20" rx="1.6" ry="1.45"/><ellipse cx="426.90" cy="332.75" rx="1.6" ry="1.45"/><ellipse cx="429.60" cy="333.30" rx="1.6" ry="1.45"/></g>
<g fill="#d4d4d4" stroke="#1e1e1e" stroke-width="0.85"><ellipse cx="418.10" cy="338.50" rx="1.6" ry="1.45"/><ellipse cx="421.15" cy="339.05" rx="1.6" ry="1.45"/><ellipse cx="424.20" cy="339.60" rx="1.6" ry="1.45"/><ellipse cx="427.25" cy="340.15" rx="1.6" ry="1.45"/><ellipse cx="430.30" cy="340.70" rx="1.6" ry="1.45"/></g>
<g fill="#d4d4d4" stroke="#1e1e1e" stroke-width="0.85"><ellipse cx="418.10" cy="346.00" rx="1.6" ry="1.45"/><ellipse cx="421.15" cy="346.55" rx="1.6" ry="1.45"/><ellipse cx="424.20" cy="347.10" rx="1.6" ry="1.45"/><ellipse cx="427.25" cy="347.65" rx="1.6" ry="1.45"/><ellipse cx="430.30" cy="348.20" rx="1.6" ry="1.45"/></g>
<g fill="#d4d4d4" stroke="#1e1e1e" stroke-width="0.85"><ellipse cx="418.10" cy="353.50" rx="1.6" ry="1.45"/><ellipse cx="421.15" cy="354.05" rx="1.6" ry="1.45"/><ellipse cx="424.20" cy="354.60" rx="1.6" ry="1.45"/><ellipse cx="427.25" cy="355.15" rx="1.6" ry="1.45"/><ellipse cx="430.30" cy="355.70" rx="1.6" ry="1.45"/></g>
<g fill="#d4d4d4" stroke="#1e1e1e" stroke-width="0.85"><ellipse cx="418.10" cy="361.00" rx="1.6" ry="1.45"/><ellipse cx="421.15" cy="361.55" rx="1.6" ry="1.45"/><ellipse cx="424.20" cy="362.10" rx="1.6" ry="1.45"/><ellipse cx="427.25" cy="362.65" rx="1.6" ry="1.45"/><ellipse cx="430.30" cy="363.20" rx="1.6" ry="1.45"/></g>
<g fill="#d4d4d4" stroke="#1e1e1e" stroke-width="0.85"><ellipse cx="418.80" cy="368.50" rx="1.6" ry="1.45"/><ellipse cx="421.50" cy="369.05" rx="1.6" ry="1.45"/><ellipse cx="424.20" cy="369.60" rx="1.6" ry="1.45"/><ellipse cx="426.90" cy="370.15" rx="1.6" ry="1.45"/><ellipse cx="429.60" cy="370.70" rx="1.6" ry="1.45"/></g>
<g fill="#d4d4d4" stroke="#1e1e1e" stroke-width="0.85"><ellipse cx="446.40" cy="333.30" rx="1.6" ry="1.45"/><ellipse cx="449.10" cy="332.75" rx="1.6" ry="1.45"/><ellipse cx="451.80" cy="332.20" rx="1.6" ry="1.45"/><ellipse cx="454.50" cy="331.65" rx="1.6" ry="1.45"/><ellipse cx="457.20" cy="331.10" rx="1.6" ry="1.45"/></g>
<g fill="#d4d4d4" stroke="#1e1e1e" stroke-width="0.85"><ellipse cx="445.70" cy="340.70" rx="1.6" ry="1.45"/><ellipse cx="448.75" cy="340.15" rx="1.6" ry="1.45"/><ellipse cx="451.80" cy="339.60" rx="1.6" ry="1.45"/><ellipse cx="454.85" cy="339.05" rx="1.6" ry="1.45"/><ellipse cx="457.90" cy="338.50" rx="1.6" ry="1.45"/></g>
<g fill="#d4d4d4" stroke="#1e1e1e" stroke-width="0.85"><ellipse cx="445.70" cy="348.20" rx="1.6" ry="1.45"/><ellipse cx="448.75" cy="347.65" rx="1.6" ry="1.45"/><ellipse cx="451.80" cy="347.10" rx="1.6" ry="1.45"/><ellipse cx="454.85" cy="346.55" rx="1.6" ry="1.45"/><ellipse cx="457.90" cy="346.00" rx="1.6" ry="1.45"/></g>
<g fill="#d4d4d4" stroke="#1e1e1e" stroke-width="0.85"><ellipse cx="445.70" cy="355.70" rx="1.6" ry="1.45"/><ellipse cx="448.75" cy="355.15" rx="1.6" ry="1.45"/><ellipse cx="451.80" cy="354.60" rx="1.6" ry="1.45"/><ellipse cx="454.85" cy="354.05" rx="1.6" ry="1.45"/><ellipse cx="457.90" cy="353.50" rx="1.6" ry="1.45"/></g>
<g fill="#d4d4d4" stroke="#1e1e1e" stroke-width="0.85"><ellipse cx="445.70" cy="363.20" rx="1.6" ry="1.45"/><ellipse cx="448.75" cy="362.65" rx="1.6" ry="1.45"/><ellipse cx="451.80" cy="362.10" rx="1.6" ry="1.45"/><ellipse cx="454.85" cy="361.55" rx="1.6" ry="1.45"/><ellipse cx="457.90" cy="361.00" rx="1.6" ry="1.45"/></g>
<g fill="#d4d4d4" stroke="#1e1e1e" stroke-width="0.85"><ellipse cx="446.40" cy="370.70" rx="1.6" ry="1.45"/><ellipse cx="449.10" cy="370.15" rx="1.6" ry="1.45"/><ellipse cx="451.80" cy="369.60" rx="1.6" ry="1.45"/><ellipse cx="454.50" cy="369.05" rx="1.6" ry="1.45"/><ellipse cx="457.20" cy="368.50" rx="1.6" ry="1.45"/></g>
<g fill="#d4d4d4" stroke="#1e1e1e" stroke-width="0.85"><ellipse cx="473.10" cy="331.10" rx="1.6" ry="1.45"/><ellipse cx="475.80" cy="331.65" rx="1.6" ry="1.45"/><ellipse cx="478.50" cy="332.20" rx="1.6" ry="1.45"/><ellipse cx="481.20" cy="332.75" rx="1.6" ry="1.45"/><ellipse cx="483.90" cy="333.30" rx="1.6" ry="1.45"/></g>
<g fill="#d4d4d4" stroke="#1e1e1e" stroke-width="0.85"><ellipse cx="472.40" cy="338.50" rx="1.6" ry="1.45"/><ellipse cx="475.45" cy="339.05" rx="1.6" ry="1.45"/><ellipse cx="478.50" cy="339.60" rx="1.6" ry="1.45"/><ellipse cx="481.55" cy="340.15" rx="1.6" ry="1.45"/><ellipse cx="484.60" cy="340.70" rx="1.6" ry="1.45"/></g>
<g fill="#d4d4d4" stroke="#1e1e1e" stroke-width="0.85"><ellipse cx="472.40" cy="346.00" rx="1.6" ry="1.45"/><ellipse cx="475.45" cy="346.55" rx="1.6" ry="1.45"/><ellipse cx="478.50" cy="347.10" rx="1.6" ry="1.45"/><ellipse cx="481.55" cy="347.65" rx="1.6" ry="1.45"/><ellipse cx="484.60" cy="348.20" rx="1.6" ry="1.45"/></g>
<g fill="#d4d4d4" stroke="#1e1e1e" stroke-width="0.85"><ellipse cx="472.40" cy="353.50" rx="1.6" ry="1.45"/><ellipse cx="475.45" cy="354.05" rx="1.6" ry="1.45"/><ellipse cx="478.50" cy="354.60" rx="1.6" ry="1.45"/><ellipse cx="481.55" cy="355.15" rx="1.6" ry="1.45"/><ellipse cx="484.60" cy="355.70" rx="1.6" ry="1.45"/></g>
<g fill="#d4d4d4" stroke="#1e1e1e" stroke-width="0.85"><ellipse cx="472.40" cy="361.00" rx="1.6" ry="1.45"/><ellipse cx="475.45" cy="361.55" rx="1.6" ry="1.45"/><ellipse cx="478.50" cy="362.10" rx="1.6" ry="1.45"/><ellipse cx="481.55" cy="362.65" rx="1.6" ry="1.45"/><ellipse cx="484.60" cy="363.20" rx="1.6" ry="1.45"/></g>
<g fill="#d4d4d4" stroke="#1e1e1e" stroke-width="0.85"><ellipse cx="473.10" cy="368.50" rx="1.6" ry="1.45"/><ellipse cx="475.80" cy="369.05" rx="1.6" ry="1.45"/><ellipse cx="478.50" cy="369.60" rx="1.6" ry="1.45"/><ellipse cx="481.20" cy="370.15" rx="1.6" ry="1.45"/><ellipse cx="483.90" cy="370.70" rx="1.6" ry="1.45"/></g>
<text x="7.60" y="474.90" font-size="11.2" stroke="#000" stroke-width="0.1" fill="#000" font-weight="bold" >G</text>
<path d="M48.35,556.57 L47.17,556.21 L45.01,556.10 L43.49,555.65 L42.82,555.60 L41.07,554.70 L39.91,554.90 L39.41,553.70 L38.58,555.29 L37.07,555.48 L35.37,555.39 L34.63,556.02 L33.11,557.09 L31.78,558.21 L31.08,559.50 L30.02,560.15 L29.08,561.10 L28.11,561.60 L27.79,563.31 L26.69,563.91 L25.20,564.30 L24.59,565.29 L24.53,566.81 L24.04,567.96 L23.58,569.62 L21.95,570.08 L22.95,571.79 L23.03,573.14 L22.03,574.82 L22.81,575.85 L22.63,577.08 L24.17,578.70 L23.82,579.30 L24.38,580.26 L25.73,581.55 L26.15,583.00 L26.42,584.48 L27.03,585.54 L27.70,586.45 L28.48,587.45 L30.10,588.98 L30.15,590.02 L30.83,590.43 L32.32,591.66 L32.28,592.99 L33.18,593.13 L34.95,593.98 L35.58,594.46 L36.50,595.79 L37.82,596.58 L39.11,597.18 L40.91,597.98 L41.82,598.80 L42.72,598.42 L44.85,599.55 L45.46,599.26 L47.33,600.48 L48.07,600.90 L50.27,600.79 L51.21,600.51 L52.24,601.73 L53.91,601.73 L55.10,602.82 L56.64,603.21 L57.70,604.40" fill="none" stroke="#f2b497" stroke-width="0.85" stroke-linejoin="round"/>
<line x1="45.50" y1="556.40" x2="48.80" y2="556.20" stroke="#e0603a" stroke-width="1.3" />
<path d="M49.31,556.87 L49.40,556.62 L49.71,556.41 L50.20,556.32 L50.81,556.42 L51.45,556.74 L52.02,557.26 L52.45,557.96 L52.67,558.76 M50.08,561.36 L50.21,561.11 L50.55,560.91 L51.07,560.86 L51.70,561.00 L52.33,561.35 L52.88,561.91 L53.28,562.63 L53.46,563.44 M50.86,565.85 L51.03,565.60 L51.41,565.43 L51.95,565.41 L52.58,565.58 L53.21,565.97 L53.74,566.56 L54.10,567.30 L54.24,568.12 M51.64,570.34 L51.85,570.10 L52.27,569.95 L52.83,569.96 L53.47,570.17 L54.08,570.60 L54.59,571.22 L54.91,571.98 L55.01,572.81 M52.44,574.83 L52.68,574.60 L53.13,574.47 L53.71,574.51 L54.35,574.76 L54.95,575.23 L55.43,575.88 L55.72,576.66 L55.78,577.49" fill="none" stroke="#e6b81c" stroke-width="0.83" stroke-linecap="round" opacity="0.9"/>
<path d="M50.83,556.86 L50.29,557.14 L49.81,557.21 L49.46,557.10 L49.31,556.87 M52.67,558.76 L52.67,559.59 L52.44,560.36 L52.03,561.01 L51.51,561.46 L50.97,561.70 L50.50,561.73 L50.19,561.60 L50.08,561.36 M53.46,563.44 L53.41,564.27 L53.15,565.02 L52.71,565.64 L52.18,566.05 L51.65,566.25 L51.21,566.25 L50.93,566.10 L50.86,565.85 M54.24,568.12 L54.15,568.94 L53.85,569.68 L53.39,570.26 L52.86,570.64 L52.34,570.80 L51.92,570.77 L51.67,570.59 L51.64,570.34 M55.01,572.81 L54.89,573.62 L54.55,574.33 L54.08,574.88 L53.54,575.22 L53.02,575.35 L52.63,575.28 L52.42,575.09 L52.44,574.83 M55.78,577.49 L55.61,578.29 L55.25,578.97 L54.75,579.49 L54.21,579.79 L53.72,579.88 L53.35,579.79" fill="none" stroke="#e6b81c" stroke-width="1.38" stroke-linecap="round" />
<path d="M49.96,549.78 L50.07,549.63 L50.41,549.52 L50.93,549.47 L51.55,549.52 L52.18,549.69 L52.72,549.98 L53.10,550.37 L53.26,550.82 M50.18,552.37 L50.29,552.22 L50.64,552.10 L51.16,552.06 L51.78,552.11 L52.41,552.29 L52.95,552.58 L53.32,552.97 L53.47,553.42 M50.39,554.96 L50.51,554.81" fill="none" stroke="#3aa7df" stroke-width="0.83" stroke-linecap="round" opacity="0.9"/>
<path d="M51.56,549.78 L50.96,549.93 L50.44,549.97 L50.09,549.91 L49.96,549.78 M53.26,550.82 L53.17,551.29 L52.85,551.73 L52.36,552.10 L51.77,552.37 L51.17,552.52 L50.65,552.56 L50.30,552.49 L50.18,552.37 M53.47,553.42 L53.38,553.89 L53.06,554.33 L52.56,554.70 L51.97,554.97 L51.37,555.12 L50.86,555.15 L50.51,555.08 L50.39,554.96" fill="none" stroke="#3aa7df" stroke-width="1.38" stroke-linecap="round" />
<path d="M51.61,499.17 L51.78,499.04 L52.27,498.94 L52.99,498.93 L53.84,499.03 L54.69,499.24 L55.40,499.57 L55.87,499.99 L56.02,500.45 M51.64,501.76 L51.84,501.63 L52.35,501.54 L53.08,501.53 L53.94,501.64 L54.78,501.86 L55.48,502.20 L55.92,502.62 L56.05,503.09 M51.68,504.35 L51.90,504.22 L52.43,504.13 L53.18,504.14 L54.04,504.25 L54.87,504.49 L55.55,504.83 L55.98,505.25 L56.08,505.72 M51.72,506.94 L51.97,506.81 L52.51,506.73 L53.28,506.74 L54.14,506.86 L54.96,507.11 L55.63,507.46 L56.03,507.89 L56.11,508.36 M51.76,509.53 L52.03,509.40 L52.60,509.33 L53.37,509.34 L54.23,509.48 L55.05,509.73 L55.70,510.09 L56.08,510.52 L56.13,510.99 M51.80,512.12 L52.10,511.99 L52.68,511.92 L53.47,511.95 L54.33,512.09 L55.14,512.36 L55.77,512.72 L56.13,513.16 L56.16,513.63" fill="none" stroke="#3aa7df" stroke-width="0.90" stroke-linecap="round" opacity="0.9"/>
<path d="M53.81,499.28 L52.97,499.39 L52.25,499.40 L51.77,499.31 L51.61,499.17 M56.02,500.45 L55.84,500.91 L55.35,501.33 L54.62,501.67 L53.78,501.89 L52.94,502.00 L52.24,501.99 L51.78,501.90 L51.64,501.76 M56.05,503.09 L55.85,503.55 L55.33,503.96 L54.59,504.29 L53.74,504.50 L52.91,504.60 L52.22,504.59 L51.79,504.49 L51.68,504.35 M56.08,505.72 L55.85,506.18 L55.32,506.59 L54.56,506.91 L53.71,507.12 L52.88,507.20 L52.21,507.18 L51.80,507.08 L51.72,506.94 M56.11,508.36 L55.85,508.81 L55.30,509.22 L54.53,509.53 L53.68,509.73 L52.86,509.80 L52.20,509.78 L51.82,509.67 L51.76,509.53 M56.13,510.99 L55.85,511.45 L55.28,511.84 L54.50,512.15 L53.64,512.34 L52.83,512.41 L52.20,512.37 L51.83,512.26 L51.80,512.12 M56.16,513.63 L55.85,514.08 L55.26,514.47 L54.47,514.77 L53.61,514.95 L52.81,515.01 L52.19,514.96" fill="none" stroke="#3aa7df" stroke-width="1.50" stroke-linecap="round" />
<path d="M51.5,499.5 Q52.5,495.3 56.8,496.5" fill="none" stroke="#3aa7df" stroke-width="1.4" />
<rect x="57.50" y="521.00" width="10.00" height="29.50" fill="#1d4fb3" opacity="0.55" rx="3"/>
<rect x="91.50" y="518.00" width="13.50" height="27.00" fill="#1d4fb3" opacity="0.45" rx="3"/>
<path d="M51.41,514.06 L51.64,513.84 L52.31,513.69 L53.30,513.68 L54.45,513.85 L55.61,514.21 L56.57,514.76 L57.21,515.43 L57.42,516.18 M51.43,518.24 L51.71,518.02 L52.40,517.89 L53.41,517.89 L54.58,518.07 L55.72,518.45 L56.66,519.01 L57.27,519.69 L57.43,520.45 M51.46,522.42 L51.77,522.21 L52.50,522.08 L53.53,522.10 L54.70,522.30 L55.83,522.69 L56.75,523.26 L57.32,523.96 L57.45,524.71 M51.49,526.60 L51.84,526.39 L52.60,526.27 L53.65,526.31 L54.82,526.52 L55.94,526.94 L56.84,527.52 L57.37,528.22 L57.46,528.97 M51.52,530.78 L51.91,530.58 L52.70,530.47 L53.77,530.52 L54.94,530.75 L56.05,531.18 L56.92,531.77 L57.42,532.48 L57.47,533.24 M51.56,534.96 L51.99,534.76 L52.80,534.67 L53.88,534.73 L55.06,534.98 L56.16,535.42 L57.00,536.03 L57.46,536.74 L57.47,537.50 M51.60,539.14 L52.07,538.95 L52.91,538.87 L54.00,538.94 L55.18,539.21 L56.26,539.67 L57.08,540.28 L57.50,541.01 L57.48,541.77 M51.65,543.32 L52.15,543.14 L53.02,543.07 L54.13,543.16 L55.30,543.44 L56.37,543.91 L57.15,544.54 L57.54,545.27 L57.47,546.03 M51.69,547.51 L52.23,547.33 L53.13,547.27 L54.25,547.37 L55.42,547.67 L56.47,548.16 L57.22,548.80 L57.58,549.54 L57.47,550.29" fill="none" stroke="#1d4fb3" stroke-width="1.05" stroke-linecap="round" opacity="0.9"/>
<path d="M54.41,514.26 L53.25,514.43 L52.28,514.43 L51.63,514.28 L51.41,514.06 M57.42,516.18 L57.16,516.93 L56.48,517.60 L55.49,518.13 L54.33,518.48 L53.18,518.64 L52.23,518.62 L51.61,518.46 L51.43,518.24 M57.43,520.45 L57.14,521.19 L56.43,521.85 L55.42,522.37 L54.25,522.70 L53.12,522.84 L52.19,522.81 L51.60,522.65 L51.46,522.42 M57.45,524.71 L57.12,525.45 L56.38,526.10 L55.34,526.60 L54.17,526.92 L53.05,527.05 L52.14,527.00 L51.59,526.83 L51.49,526.60 M57.46,528.97 L57.09,529.71 L56.32,530.35 L55.27,530.84 L54.10,531.14 L52.98,531.25 L52.10,531.19 L51.59,531.01 L51.52,530.78 M57.47,533.24 L57.06,533.97 L56.26,534.60 L55.19,535.07 L54.02,535.36 L52.92,535.45 L52.07,535.38 L51.59,535.19 L51.56,534.96 M57.47,537.50 L57.03,538.23 L56.20,538.84 L55.12,539.30 L53.94,539.57 L52.86,539.65 L52.03,539.57 L51.59,539.37 L51.60,539.14 M57.48,541.77 L57.00,542.48 L56.14,543.09 L55.04,543.53 L53.87,543.79 L52.80,543.85 L52.00,543.75 L51.60,543.56 L51.65,543.32 M57.47,546.03 L56.96,546.74 L56.08,547.33 L54.97,547.76 L53.79,548.00 L52.74,548.05 L51.97,547.94 L51.60,547.74 L51.69,547.51 M57.47,550.29 L56.92,550.99 L56.01,551.58 L54.89,551.99 L53.72,552.21" fill="none" stroke="#1d4fb3" stroke-width="1.75" stroke-linecap="round" />
<path d="M58.51,521.08 L58.70,520.86 L59.24,520.71 L60.06,520.69 L61.02,520.84 L61.98,521.19 L62.80,521.72 L63.34,522.38 L63.54,523.13 M58.57,525.28 L58.76,525.06 L59.31,524.90 L60.12,524.89 L61.09,525.04 L62.05,525.40 L62.86,525.92 L63.40,526.59 L63.59,527.34 M58.62,529.47 L58.82,529.25 L59.37,529.10 L60.19,529.09 L61.15,529.25 L62.11,529.60 L62.92,530.13 L63.46,530.80 L63.65,531.55 M58.68,533.67 L58.88,533.45 L59.44,533.30 L60.26,533.29 L61.22,533.45 L62.18,533.81 L62.99,534.34 L63.52,535.01 L63.70,535.76 M58.73,537.87 L58.94,537.65 L59.50,537.50 L60.33,537.49 L61.29,537.65 L62.25,538.01 L63.05,538.55 L63.58,539.22 L63.76,539.97 M58.79,542.06 L59.00,541.84 L59.57,541.70 L60.39,541.69 L61.36,541.86 L62.31,542.22 L63.12,542.76 L63.64,543.43 L63.81,544.18 M58.84,546.26 L59.06,546.04 L59.63,545.90 L60.46,545.89 L61.43,546.06 L62.38,546.43 L63.18,546.97 L63.70,547.64 L63.86,548.39 M58.89,550.46 L59.12,550.24 L59.69,550.09" fill="none" stroke="#1d4fb3" stroke-width="0.98" stroke-linecap="round" opacity="0.9"/>
<path d="M61.02,521.26 L60.06,521.44 L59.25,521.44 L58.71,521.30 L58.51,521.08 M63.54,523.13 L63.36,523.87 L62.82,524.55 L62.01,525.09 L61.06,525.46 L60.10,525.64 L59.29,525.64 L58.75,525.50 L58.57,525.28 M63.59,527.34 L63.40,528.08 L62.86,528.76 L62.05,529.30 L61.10,529.67 L60.14,529.84 L59.34,529.84 L58.80,529.69 L58.62,529.47 M63.65,531.55 L63.45,532.29 L62.91,532.97 L62.09,533.51 L61.14,533.87 L60.18,534.04 L59.38,534.03 L58.85,533.89 L58.68,533.67 M63.70,535.76 L63.50,536.50 L62.95,537.18 L62.13,537.71 L61.18,538.07 L60.23,538.24 L59.43,538.23 L58.90,538.09 L58.73,537.87 M63.76,539.97 L63.55,540.71 L62.99,541.38 L62.18,541.92 L61.22,542.28 L60.27,542.44 L59.47,542.43 L58.95,542.28 L58.79,542.06 M63.81,544.18 L63.60,544.92 L63.04,545.59 L62.22,546.13 L61.26,546.48 L60.31,546.64 L59.52,546.63 L59.00,546.48 L58.84,546.26 M63.86,548.39 L63.65,549.13 L63.08,549.80 L62.26,550.33 L61.30,550.68 L60.35,550.84 L59.56,550.83 L59.05,550.68 L58.89,550.46" fill="none" stroke="#1d4fb3" stroke-width="1.62" stroke-linecap="round" />
<path d="M63.00,520.56 L63.19,520.34 L63.73,520.19 L64.53,520.19 L65.46,520.38 L66.37,520.76 L67.14,521.33 L67.64,522.03 L67.79,522.80 M62.99,524.83 L63.23,524.61 L63.81,524.48 L64.62,524.50 L65.56,524.71 L66.47,525.12 L67.21,525.71 L67.66,526.43 L67.77,527.20 M62.98,529.10 L63.27,528.89 L63.88,528.78 L64.72,528.82 L65.66,529.05 L66.56,529.49 L67.27,530.09 L67.68,530.82 L67.74,531.60 M62.99,533.37 L63.32,533.17 L63.96,533.07 L64.82,533.14 L65.76,533.40 L66.64,533.85 L67.32,534.48 L67.70,535.21 L67.71,535.99 M63.00,537.64 L63.37,537.45 L64.05,537.37 L64.92,537.46 L65.87,537.74 L66.73,538.22 L67.37,538.86 L67.71,539.61 L67.67,540.39 M63.01,541.92 L63.42,541.73 L64.13,541.67 L65.03,541.78 L65.97,542.09 L66.81,542.59 L67.42,543.25 L67.71,544.00 L67.63,544.78 M63.03,546.19 L63.48,546.02 L64.22,545.97 L65.13,546.11 L66.06,546.44 L66.88,546.97 L67.46,547.64 L67.71,548.40 L67.58,549.17 M63.05,550.46 L63.55,550.30 L64.31,550.28 L65.23,550.44 L66.16,550.80" fill="none" stroke="#1d4fb3" stroke-width="0.98" stroke-linecap="round" opacity="0.9"/>
<path d="M65.40,520.79 L64.47,520.96 L63.69,520.94 L63.17,520.79 L63.00,520.56 M67.79,522.80 L67.57,523.57 L67.01,524.25 L66.20,524.78 L65.27,525.12 L64.35,525.27 L63.59,525.23 L63.12,525.06 L62.99,524.83 M67.77,527.20 L67.50,527.96 L66.91,528.62 L66.08,529.13 L65.14,529.45 L64.23,529.57 L63.51,529.52 L63.07,529.34 L62.98,529.10 M67.74,531.60 L67.43,532.35 L66.80,532.99 L65.95,533.48 L65.01,533.78 L64.12,533.87 L63.42,533.80 L63.02,533.61 L62.99,533.37 M67.71,535.99 L67.36,536.73 L66.69,537.36 L65.82,537.83 L64.88,538.10 L64.01,538.17 L63.34,538.08 L62.99,537.88 L63.00,537.64 M67.67,540.39 L67.28,541.12 L66.58,541.73 L65.69,542.17 L64.75,542.42 L63.90,542.47 L63.27,542.36 L62.95,542.15 L63.01,541.92 M67.63,544.78 L67.19,545.50 L66.47,546.09 L65.56,546.51 L64.62,546.73 L63.79,546.76 L63.20,546.64 L62.93,546.42 L63.03,546.19 M67.58,549.17 L67.10,549.88 L66.35,550.46 L65.43,550.85 L64.50,551.05 L63.69,551.05 L63.13,550.92 L62.91,550.69 L63.05,550.46" fill="none" stroke="#1d4fb3" stroke-width="1.62" stroke-linecap="round" />
<path d="M60.42,506.59 L60.66,506.36 L61.33,506.21 L62.33,506.19 L63.49,506.36 L64.65,506.72 L65.62,507.25 L66.25,507.93 L66.45,508.68 M60.48,510.75 L60.79,510.54 L61.51,510.40 L62.54,510.40 L63.72,510.59 L64.86,510.98 L65.79,511.54 L66.36,512.23 L66.50,512.99 M60.56,514.92 L60.93,514.71 L61.70,514.59 L62.76,514.62 L63.94,514.83 L65.06,515.24 L65.95,515.82 L66.47,516.53 L66.54,517.29" fill="none" stroke="#f2c21b" stroke-width="1.12" stroke-linecap="round" opacity="0.9"/>
<path d="M63.42,506.76 L62.26,506.94 L61.29,506.95 L60.64,506.81 L60.42,506.59 M66.45,508.68 L66.18,509.43 L65.49,510.11 L64.48,510.64 L63.32,511.00 L62.18,511.15 L61.24,511.13 L60.64,510.98 L60.48,510.75 M66.50,512.99 L66.17,513.73 L65.43,514.39 L64.39,514.90 L63.22,515.23 L62.10,515.36 L61.20,515.32 L60.66,515.15 L60.56,514.92 M66.54,517.29 L66.15,518.02 L65.37,518.67 L64.30,519.16 L63.13,519.46 L62.02,519.56 L61.16,519.50 L60.68,519.32" fill="none" stroke="#f2c21b" stroke-width="1.88" stroke-linecap="round" />
<path d="M61.2,505 Q62.8,501.8 65.2,504.2" fill="none" stroke="#b5412a" stroke-width="1.2" />
<path d="M61.66,516.53 L61.83,516.35 L62.29,516.17 L62.98,516.06 L63.80,516.06 L64.60,516.20 L65.28,516.48 L65.72,516.89 L65.86,517.39 M62.20,519.20 L62.51,519.02 L63.10,518.87 L63.86,518.80 L64.69,518.86 L65.45,519.07 L66.02,519.42 L66.32,519.88 L66.31,520.40" fill="none" stroke="#3aa7df" stroke-width="0.75" stroke-linecap="round" opacity="0.9"/>
<path d="M63.65,516.33 L62.90,516.58 L62.24,516.68 L61.81,516.66 L61.66,516.53 M65.86,517.39 L65.68,517.93 L65.21,518.45 L64.55,518.89 L63.79,519.22 L63.07,519.40 L62.51,519.44 L62.20,519.36 L62.20,519.20 M66.31,520.40 L65.99,520.94 L65.42,521.43 L64.69,521.82" fill="none" stroke="#3aa7df" stroke-width="1.25" stroke-linecap="round" />
<line x1="72.70" y1="568.00" x2="66.31" y2="557.42" stroke="#e5168b" stroke-width="1.1" />
<path d="M64.60,554.60 L68.02,556.39 L64.60,558.46 Z" fill="#e5168b"/>
<line x1="49.60" y1="577.80" x2="36.70" y2="577.65" stroke="#ff8c00" stroke-width="1.0" stroke-dasharray="1.6 0.9"/>
<path d="M32.90,577.60 L36.73,575.35 L36.67,579.95 Z" fill="#ff8c00"/>
<path d="M92.77,556.67 L91.65,556.31 L89.60,556.76 L88.55,557.44 L87.26,557.51 L85.36,557.88 L84.33,558.78 L83.78,560.45 L83.09,561.50 L82.53,562.51 L82.25,563.35 L82.23,564.07 L80.79,566.21 L80.71,566.45 L80.81,568.54 L79.42,569.12 L79.02,570.14 L79.13,571.13 L79.07,572.46 L78.34,574.75 L78.44,575.76 L78.51,577.27 L78.07,578.32 L78.25,580.88 L78.32,582.08 L76.92,582.90 L76.56,584.39 L75.20,585.06 L74.75,586.51 L74.82,587.65 L73.53,589.15 L73.55,589.97 L72.89,591.02 L73.35,592.85 L73.31,594.05 L73.67,595.67 L73.79,596.65 L74.95,598.21 L75.45,599.18 L76.44,600.14 L77.55,602.04 L78.38,603.20 L79.17,602.40 L80.52,600.82 L82.07,600.85 L82.22,599.18 L84.03,598.29 L84.70,597.50" fill="none" stroke="#f2b497" stroke-width="0.85" stroke-linejoin="round"/>
<line x1="91.00" y1="556.60" x2="93.20" y2="556.00" stroke="#e0603a" stroke-width="1.3" />
<path d="M91.21,551.51 L91.32,551.40 L91.60,551.33 L92.00,551.35 L92.48,551.48 L92.94,551.72 L93.32,552.06 L93.56,552.46 L93.63,552.89 M91.05,553.90 L91.17,553.79 L91.45,553.72 L91.86,553.75 L92.33,553.88 L92.80,554.13 L93.17,554.46 L93.41,554.87 L93.47,555.30" fill="none" stroke="#f2c21b" stroke-width="0.75" stroke-linecap="round" opacity="0.9"/>
<path d="M92.45,551.72 L91.97,551.78 L91.56,551.75 L91.30,551.65 L91.21,551.51 M93.63,552.89 L93.50,553.31 L93.20,553.67 L92.77,553.95 L92.27,554.12 L91.79,554.18 L91.39,554.14 L91.13,554.04 L91.05,553.90 M93.47,555.30 L93.33,555.72 L93.02,556.08" fill="none" stroke="#f2c21b" stroke-width="1.25" stroke-linecap="round" />
<path d="M91.76,545.52 L91.90,545.39 L92.28,545.33 L92.83,545.37 L93.48,545.52 L94.11,545.80 L94.63,546.17 L94.96,546.62 L95.04,547.09 M91.56,548.10 L91.71,547.98 L92.10,547.92 L92.66,547.96 L93.31,548.13 L93.94,548.41 L94.45,548.79 L94.77,549.23 L94.84,549.71 M91.36,550.69 L91.53,550.57 L91.92,550.51 L92.49,550.56 L93.14,550.73" fill="none" stroke="#3aa7df" stroke-width="0.83" stroke-linecap="round" opacity="0.9"/>
<path d="M93.44,545.78 L92.78,545.83 L92.23,545.78 L91.87,545.66 L91.76,545.52 M95.04,547.09 L94.87,547.54 L94.46,547.92 L93.88,548.21 L93.21,548.38 L92.55,548.42 L92.01,548.37 L91.66,548.25 L91.56,548.10 M94.84,549.71 L94.66,550.15 L94.24,550.53 L93.65,550.81 L92.98,550.97 L92.33,551.01 L91.79,550.96 L91.45,550.83 L91.36,550.69" fill="none" stroke="#3aa7df" stroke-width="1.38" stroke-linecap="round" />
<path d="M103.80,551.23 L103.84,550.98 L104.12,550.70 L104.63,550.45 L105.30,550.32 L106.04,550.35 L106.76,550.59 L107.36,551.03 L107.77,551.63 M105.54,554.80 L105.61,554.54 L105.93,554.25 L106.47,554.02 L107.15,553.91 L107.90,553.97 L108.61,554.24 L109.18,554.70 L109.56,555.32 M107.28,558.37 L107.39,558.10 L107.74,557.81 L108.30,557.59 L109.00,557.50 L109.75,557.60 L110.44,557.89 L111.00,558.38 L111.34,559.02 M109.03,561.93 L109.17,561.66 L109.56,561.38 L110.14,561.17 L110.86,561.10 L111.60,561.23 L112.28,561.55 L112.81,562.07 L113.11,562.72 M110.78,565.50 L110.96,565.21 L111.38,564.94 L111.99,564.75 L112.71,564.71 L113.45,564.86 L114.11,565.21 L114.61,565.75 L114.88,566.42 M112.53,569.06 L112.75,568.77 L113.20,568.50 L113.83,568.33 L114.56,568.32 L115.30,568.50" fill="none" stroke="#f2c21b" stroke-width="0.90" stroke-linecap="round" opacity="0.9"/>
<path d="M105.42,550.68 L104.90,551.11 L104.40,551.34 L104.01,551.37 L103.80,551.23 M107.77,551.63 L107.94,552.34 L107.86,553.08 L107.55,553.78 L107.10,554.35 L106.57,554.75 L106.08,554.96 L105.71,554.96 L105.54,554.80 M109.56,555.32 L109.69,556.04 L109.57,556.78 L109.24,557.47 L108.77,558.02 L108.24,558.39 L107.76,558.57 L107.42,558.55 L107.28,558.37 M111.34,559.02 L111.43,559.75 L111.28,560.49 L110.93,561.15 L110.44,561.68 L109.92,562.03 L109.45,562.17 L109.13,562.13 L109.03,561.93 M113.11,562.72 L113.17,563.46 L112.99,564.19 L112.61,564.84 L112.11,565.35 L111.59,565.66 L111.14,565.78 L110.85,565.71 L110.78,565.50 M114.88,566.42 L114.90,567.16 L114.69,567.89 L114.29,568.52 L113.78,569.00 L113.26,569.29 L112.83,569.38 L112.57,569.28 L112.53,569.06" fill="none" stroke="#f2c21b" stroke-width="1.50" stroke-linecap="round" />
<path d="M101.77,546.84 L101.84,546.65 L102.14,546.40 L102.65,546.14 L103.30,545.95 L103.99,545.87 L104.62,545.94 L105.12,546.17 L105.42,546.54 M102.92,549.13 L103.04,548.93 L103.39,548.67 L103.93,548.43 L104.59,548.25 L105.27,548.20 L105.89,548.29 L106.36,548.55 L106.61,548.95" fill="none" stroke="#3aa7df" stroke-width="0.83" stroke-linecap="round" opacity="0.9"/>
<path d="M103.35,546.20 L102.81,546.58 L102.31,546.83 L101.94,546.91 L101.77,546.84 M105.42,546.54 L105.48,547.03 L105.29,547.58 L104.92,548.13 L104.41,548.60 L103.87,548.97 L103.39,549.18 L103.05,549.23 L102.92,549.13 M106.61,548.95 L106.62,549.46 L106.40,550.01 L105.99,550.55 L105.47,551.01 L104.94,551.34 L104.47,551.53" fill="none" stroke="#3aa7df" stroke-width="1.38" stroke-linecap="round" />
<path d="M89.22,498.45 L89.41,498.25 L89.94,498.12 L90.73,498.10 L91.66,498.23 L92.58,498.53 L93.36,498.98 L93.88,499.55 L94.06,500.19 M89.30,502.03 L89.52,501.84 L90.07,501.71 L90.88,501.70 L91.82,501.85 L92.74,502.16 L93.50,502.62 L93.99,503.21 L94.13,503.85 M89.38,505.61 L89.63,505.42 L90.21,505.30 L91.04,505.31 L91.98,505.47 L92.89,505.79 L93.63,506.27 L94.09,506.86 L94.20,507.50 M89.46,509.19 L89.74,509.01 L90.35,508.90 L91.19,508.91 L92.13,509.09 L93.04,509.43 L93.76,509.92 L94.19,510.51 L94.27,511.16 M89.55,512.77 L89.86,512.59 L90.49,512.49 L91.35,512.52 L92.29,512.71 L93.18,513.07 L93.88,513.57 L94.29,514.17 L94.33,514.82" fill="none" stroke="#3aa7df" stroke-width="0.94" stroke-linecap="round" opacity="0.9"/>
<path d="M91.62,498.58 L90.70,498.74 L89.92,498.75 L89.40,498.63 L89.22,498.45 M94.06,500.19 L93.86,500.84 L93.33,501.42 L92.54,501.89 L91.62,502.20 L90.70,502.35 L89.94,502.34 L89.45,502.22 L89.30,502.03 M94.13,503.85 L93.90,504.49 L93.34,505.06 L92.54,505.52 L91.61,505.82 L90.70,505.95 L89.96,505.93 L89.49,505.80 L89.38,505.61 M94.20,507.50 L93.94,508.14 L93.36,508.71 L92.53,509.15 L91.60,509.44 L90.71,509.56 L89.98,509.53 L89.54,509.38 L89.46,509.19 M94.27,511.16 L93.98,511.79 L93.37,512.35 L92.53,512.78 L91.60,513.05 L90.71,513.16 L90.01,513.12 L89.60,512.97 L89.55,512.77 M94.33,514.82 L94.01,515.45 L93.38,515.99 L92.53,516.41 L91.59,516.67 L90.71,516.76 L90.03,516.71 L89.65,516.55 L89.64,516.35" fill="none" stroke="#3aa7df" stroke-width="1.56" stroke-linecap="round" />
<path d="M97.53,498.48 L97.73,498.28 L98.34,498.14 L99.25,498.11 L100.32,498.22 L101.40,498.50 L102.32,498.93 L102.94,499.49 L103.17,500.12 M97.63,502.07 L97.84,501.88 L98.44,501.74 L99.35,501.71 L100.43,501.82 L101.51,502.10 L102.43,502.53 L103.05,503.09 L103.27,503.73 M97.73,505.67 L97.94,505.48 L98.55,505.34 L99.46,505.30 L100.54,505.42 L101.62,505.70 L102.53,506.14 L103.15,506.70 L103.37,507.33 M97.83,509.27 L98.04,509.08 L98.65,508.93 L99.57,508.90 L100.64,509.02 L101.72,509.30 L102.64,509.74 L103.25,510.30 L103.47,510.93 M97.93,512.87 L98.14,512.67 L98.76,512.53 L99.67,512.50 L100.75,512.62 L101.83,512.90 L102.74,513.34 L103.36,513.90 L103.57,514.53" fill="none" stroke="#3aa7df" stroke-width="0.94" stroke-linecap="round" opacity="0.9"/>
<path d="M100.33,498.58 L99.26,498.75 L98.35,498.77 L97.74,498.66 L97.53,498.48 M103.17,500.12 L102.98,500.77 L102.38,501.36 L101.49,501.84 L100.42,502.18 L99.36,502.35 L98.45,502.37 L97.84,502.26 L97.63,502.07 M103.27,503.73 L103.07,504.37 L102.48,504.96 L101.58,505.44 L100.52,505.78 L99.45,505.95 L98.54,505.96 L97.94,505.85 L97.73,505.67 M103.37,507.33 L103.17,507.97 L102.57,508.56 L101.67,509.05 L100.61,509.38 L99.54,509.55 L98.64,509.56 L98.04,509.45 L97.83,509.27 M103.47,510.93 L103.27,511.58 L102.67,512.17 L101.77,512.65 L100.70,512.98 L99.64,513.15 L98.73,513.16 L98.13,513.05 L97.93,512.87 M103.57,514.53 L103.37,515.18 L102.76,515.77 L101.86,516.25 L100.80,516.58" fill="none" stroke="#3aa7df" stroke-width="1.56" stroke-linecap="round" />
<path d="M89.8,498 Q94,493.8 99,495.6" fill="none" stroke="#3aa7df" stroke-width="0.8" />
<path d="M96.16,504.14 L96.27,503.93 L96.61,503.75 L97.14,503.67 L97.79,503.72 L98.44,503.95 L99.02,504.35 L99.44,504.88 L99.63,505.51 M96.74,507.65 L96.90,507.44 L97.29,507.28 L97.85,507.22 L98.50,507.31 L99.15,507.57 L99.70,508.00 L100.08,508.56 L100.21,509.20 M97.34,511.16 L97.54,510.95 L97.97,510.81 L98.56,510.78 L99.22,510.90 L99.86,511.20 L100.38,511.66 L100.70,512.24 L100.79,512.89 M97.94,514.66 L98.20,514.47 L98.66,514.34 L99.27,514.34 L99.94,514.50 L100.56,514.84 L101.04,515.33 L101.32,515.93 L101.36,516.58" fill="none" stroke="#f2c21b" stroke-width="0.83" stroke-linecap="round" opacity="0.9"/>
<path d="M97.77,504.07 L97.18,504.31 L96.67,504.38 L96.31,504.31 L96.16,504.14 M99.63,505.51 L99.57,506.17 L99.28,506.79 L98.80,507.31 L98.23,507.68 L97.65,507.89 L97.16,507.93 L96.84,507.83 L96.74,507.65 M100.21,509.20 L100.11,509.86 L99.77,510.46 L99.27,510.95 L98.68,511.29 L98.11,511.46 L97.65,511.47 L97.38,511.35 L97.34,511.16 M100.79,512.89 L100.63,513.54 L100.26,514.13 L99.73,514.59 L99.14,514.90 L98.58,515.03 L98.16,515.01 L97.93,514.87 L97.94,514.66" fill="none" stroke="#f2c21b" stroke-width="1.38" stroke-linecap="round" />
<path d="M90.20,515.05 L90.45,514.83 L91.11,514.69 L92.10,514.68 L93.26,514.85 L94.42,515.22 L95.38,515.77 L96.01,516.45 L96.21,517.20 M90.22,519.23 L90.51,519.01 L91.22,518.88 L92.23,518.89 L93.40,519.08 L94.54,519.47 L95.48,520.03 L96.07,520.73 L96.22,521.48 M90.24,523.40 L90.58,523.19 L91.32,523.07 L92.36,523.10 L93.54,523.31 L94.66,523.72 L95.57,524.30 L96.12,525.00 L96.22,525.76 M90.27,527.58 L90.65,527.38 L91.44,527.27 L92.50,527.31 L93.67,527.55 L94.79,527.98 L95.66,528.57 L96.16,529.28 L96.21,530.04 M90.30,531.76 L90.73,531.56 L91.55,531.46 L92.63,531.53 L93.81,531.78 L94.90,532.23 L95.74,532.84 L96.20,533.56 L96.20,534.32 M90.34,535.93 L90.81,535.74 L91.67,535.66 L92.77,535.75 L93.94,536.02 L95.02,536.49 L95.82,537.11 L96.24,537.84 L96.19,538.60 M90.38,540.11 L90.90,539.93 L91.78,539.86 L92.90,539.97 L94.08,540.26 L95.13,540.75 L95.90,541.38 L96.27,542.12 L96.17,542.88 M90.43,544.29 L90.99,544.11 L91.91,544.07 L93.04,544.19 L94.21,544.50 L95.24,545.01 L95.97,545.66 L96.29,546.40" fill="none" stroke="#1d4fb3" stroke-width="1.05" stroke-linecap="round" opacity="0.9"/>
<path d="M93.20,515.26 L92.05,515.43 L91.07,515.42 L90.42,515.27 L90.20,515.05 M96.21,517.20 L95.94,517.95 L95.26,518.62 L94.26,519.14 L93.09,519.49 L91.95,519.64 L91.00,519.61 L90.39,519.45 L90.22,519.23 M96.22,521.48 L95.90,522.22 L95.18,522.88 L94.15,523.39 L92.98,523.71 L91.85,523.84 L90.93,523.80 L90.37,523.63 L90.24,523.40 M96.22,525.76 L95.86,526.50 L95.09,527.14 L94.05,527.63 L92.87,527.93 L91.75,528.05 L90.87,527.99 L90.34,527.81 L90.27,527.58 M96.21,530.04 L95.81,530.77 L95.01,531.40 L93.94,531.87 L92.76,532.15 L91.66,532.25 L90.81,532.17 L90.33,531.99 L90.30,531.76 M96.20,534.32 L95.75,535.04 L94.92,535.66 L93.83,536.11 L92.65,536.37 L91.57,536.45 L90.75,536.36 L90.32,536.16 L90.34,535.93 M96.19,538.60 L95.70,539.31 L94.83,539.91 L93.72,540.35 L92.54,540.59 L91.48,540.64 L90.70,540.54 L90.31,540.34 L90.38,540.11 M96.17,542.88 L95.63,543.58 L94.73,544.17 L93.61,544.58 L92.44,544.80 L91.40,544.84 L90.65,544.72 L90.31,544.52 L90.43,544.29" fill="none" stroke="#1d4fb3" stroke-width="1.75" stroke-linecap="round" />
<path d="M96.20,519.01 L96.38,518.80 L96.88,518.66 L97.62,518.64 L98.50,518.80 L99.38,519.14 L100.13,519.65 L100.63,520.28 L100.81,520.99 M96.22,523.01 L96.39,522.80 L96.89,522.66 L97.64,522.64 L98.52,522.80 L99.40,523.14 L100.15,523.65 L100.65,524.28 L100.83,524.99 M96.23,527.01 L96.41,526.80 L96.91,526.66 L97.65,526.64 L98.53,526.80 L99.41,527.14 L100.16,527.65 L100.66,528.28 L100.84,528.99 M96.25,531.01 L96.42,530.80 L96.92,530.66 L97.67,530.64 L98.55,530.80 L99.43,531.14 L100.18,531.65 L100.68,532.28 L100.86,532.99 M96.26,535.01 L96.44,534.80 L96.94,534.66 L97.68,534.64 L98.56,534.80 L99.44,535.14 L100.19,535.65 L100.69,536.28 L100.87,536.99 M96.28,539.01 L96.45,538.80 L96.95,538.66 L97.70,538.64 L98.58,538.80 L99.46,539.14 L100.21,539.65 L100.71,540.28 L100.89,540.99 M96.29,543.01 L96.47,542.80 L96.97,542.66 L97.71,542.64 L98.59,542.80 L99.47,543.14 L100.22,543.65 L100.72,544.28 L100.90,544.99" fill="none" stroke="#1d4fb3" stroke-width="0.94" stroke-linecap="round" opacity="0.9"/>
<path d="M98.50,519.20 L97.62,519.36 L96.88,519.35 L96.38,519.22 L96.20,519.01 M100.81,520.99 L100.64,521.70 L100.14,522.34 L99.40,522.86 L98.52,523.20 L97.64,523.36 L96.89,523.35 L96.39,523.22 L96.22,523.01 M100.83,524.99 L100.65,525.70 L100.16,526.34 L99.41,526.86 L98.53,527.20 L97.65,527.36 L96.91,527.35 L96.41,527.22 L96.23,527.01 M100.84,528.99 L100.67,529.70 L100.17,530.34 L99.43,530.86 L98.55,531.20 L97.67,531.36 L96.92,531.35 L96.42,531.22 L96.25,531.01 M100.86,532.99 L100.68,533.70 L100.19,534.34 L99.44,534.86 L98.56,535.20 L97.68,535.36 L96.94,535.35 L96.44,535.22 L96.26,535.01 M100.87,536.99 L100.70,537.70 L100.20,538.34 L99.46,538.86 L98.58,539.20 L97.70,539.36 L96.95,539.35 L96.45,539.22 L96.28,539.01 M100.89,540.99 L100.71,541.70 L100.22,542.34 L99.47,542.86 L98.59,543.20 L97.71,543.36 L96.97,543.35 L96.47,543.22 L96.29,543.01" fill="none" stroke="#1d4fb3" stroke-width="1.56" stroke-linecap="round" />
<path d="M100.60,517.07 L100.83,516.84 L101.45,516.70 L102.37,516.69 L103.45,516.87 L104.52,517.25 L105.42,517.81 L106.01,518.51 L106.20,519.28 M100.60,521.35 L100.87,521.13 L101.52,520.99 L102.46,521.00 L103.55,521.20 L104.61,521.59 L105.49,522.17 L106.05,522.88 L106.19,523.65 M100.61,525.63 L100.91,525.41 L101.59,525.28 L102.56,525.31 L103.65,525.53 L104.70,525.94 L105.56,526.53 L106.08,527.24 L106.19,528.02 M100.62,529.91 L100.96,529.69 L101.67,529.58 L102.65,529.62 L103.75,529.86 L104.79,530.29 L105.62,530.89 L106.10,531.61 L106.18,532.39 M100.63,534.18 L101.01,533.98 L101.75,533.88 L102.75,533.93 L103.85,534.19 L104.88,534.63 L105.68,535.25 L106.13,535.98 L106.16,536.76 M100.65,538.46 L101.06,538.26 L101.83,538.17 L102.85,538.25 L103.94,538.52 L104.96,538.98 L105.73,539.61 L106.15,540.35 L106.14,541.13 M100.67,542.74 L101.12,542.55 L101.92,542.47 L102.94,542.57 L104.04,542.85 L105.04,543.33 L105.79,543.97 L106.17,544.72 L106.12,545.50" fill="none" stroke="#1d4fb3" stroke-width="1.05" stroke-linecap="round" opacity="0.9"/>
<path d="M103.40,517.29 L102.32,517.46 L101.41,517.45 L100.81,517.30 L100.60,517.07 M106.20,519.28 L105.95,520.04 L105.32,520.72 L104.38,521.26 L103.30,521.61 L102.23,521.77 L101.34,521.74 L100.77,521.58 L100.60,521.35 M106.19,523.65 L105.91,524.41 L105.24,525.08 L104.29,525.60 L103.20,525.94 L102.14,526.07 L101.28,526.03 L100.74,525.86 L100.61,525.63 M106.19,528.02 L105.87,528.77 L105.17,529.43 L104.20,529.94 L103.10,530.26 L102.05,530.37 L101.21,530.32 L100.71,530.14 L100.62,529.91 M106.18,532.39 L105.82,533.14 L105.09,533.79 L104.10,534.28 L103.00,534.57 L101.97,534.68 L101.15,534.61 L100.68,534.42 L100.63,534.18 M106.16,536.76 L105.77,537.50 L105.01,538.14 L104.00,538.61 L102.91,538.89 L101.88,538.98 L101.09,538.89 L100.66,538.70 L100.65,538.46 M106.14,541.13 L105.71,541.86 L104.93,542.49 L103.91,542.94 L102.81,543.21 L101.80,543.27 L101.04,543.18 L100.64,542.98 L100.67,542.74 M106.12,545.50 L105.65,546.22 L104.84,546.84 L103.81,547.28" fill="none" stroke="#1d4fb3" stroke-width="1.75" stroke-linecap="round" />
<line x1="98.60" y1="563.80" x2="98.60" y2="553.90" stroke="#e5168b" stroke-width="1.1" />
<path d="M98.60,550.60 L100.60,553.90 L96.60,553.90 Z" fill="#e5168b"/>
<line x1="95.70" y1="579.00" x2="87.20" y2="579.00" stroke="#ff8c00" stroke-width="1.0" stroke-dasharray="1.5 0.9"/>
<path d="M83.60,579.00 L87.20,576.80 L87.20,581.20 Z" fill="#ff8c00"/>
<line x1="95.60" y1="471.90" x2="95.60" y2="491.60" stroke="#555" stroke-width="0.8" />
<path d="M98.3,477.2 C91.5,477.2 87.6,479.5 89.3,482.8 C90.6,485.6 94.5,487.4 99.7,487.4" fill="none" stroke="#6d6d6d" stroke-width="1.3" />
<path d="M100.4,477.1 L97.2,474.9 L97.6,479.3 Z" fill="#6d6d6d" />
<text x="101.00" y="485.20" font-size="8.74" stroke="#231f20" stroke-width="0.22" textLength="11.5" lengthAdjust="spacingAndGlyphs" >90°</text>
<text x="159.80" y="475.70" font-size="11.2" stroke="#000" stroke-width="0.1" fill="#000" font-weight="bold" >H</text>
<text x="245.70" y="484.20" font-size="9.3" stroke="#231f20" stroke-width="0.22" text-anchor="middle" textLength="55.4" lengthAdjust="spacingAndGlyphs" >Unstimulated</text>
<line x1="186.80" y1="594.30" x2="189.80" y2="594.30" stroke="#231f20" stroke-width="0.8" />
<text x="185.90" y="597.20" font-size="8.2" stroke="#231f20" stroke-width="0.22" text-anchor="end" >0</text>
<line x1="186.80" y1="560.85" x2="189.80" y2="560.85" stroke="#231f20" stroke-width="0.8" />
<text x="185.90" y="563.75" font-size="8.2" stroke="#231f20" stroke-width="0.22" text-anchor="end" textLength="11.5" lengthAdjust="spacingAndGlyphs" >0.5</text>
<line x1="186.80" y1="527.40" x2="189.80" y2="527.40" stroke="#231f20" stroke-width="0.8" />
<text x="185.90" y="530.30" font-size="8.2" stroke="#231f20" stroke-width="0.22" text-anchor="end" >1</text>
<line x1="186.80" y1="493.95" x2="189.80" y2="493.95" stroke="#231f20" stroke-width="0.8" />
<text x="185.90" y="496.85" font-size="8.2" stroke="#231f20" stroke-width="0.22" text-anchor="end" textLength="11.5" lengthAdjust="spacingAndGlyphs" >1.5</text>
<text x="167.40" y="543.90" font-size="8.5" stroke="#231f20" stroke-width="0.22" text-anchor="middle" textLength="68.5" lengthAdjust="spacingAndGlyphs" transform="rotate(-90 167.40 543.90)" >Relative CD116 MFI</text>
<line x1="189.80" y1="527.40" x2="300.70" y2="527.40" stroke="#444" stroke-width="0.7" stroke-dasharray="2.6 2.2"/>
<rect x="195.15" y="527.40" width="7.70" height="66.90" fill="#bcbcc1" />
<line x1="199.00" y1="527.40" x2="199.00" y2="523.52" stroke="#333" stroke-width="0.95" />
<line x1="197.10" y1="523.52" x2="200.90" y2="523.52" stroke="#333" stroke-width="1.0" />
<rect x="209.95" y="576.24" width="7.70" height="18.06" fill="#000" />
<line x1="213.80" y1="576.24" x2="213.80" y2="575.57" stroke="#333" stroke-width="0.95" />
<line x1="211.90" y1="575.57" x2="215.70" y2="575.57" stroke="#333" stroke-width="1.0" />
<rect x="225.05" y="560.18" width="7.70" height="34.12" fill="#ff8c00" />
<line x1="228.90" y1="560.18" x2="228.90" y2="556.84" stroke="#333" stroke-width="0.95" />
<line x1="227.00" y1="556.84" x2="230.80" y2="556.84" stroke="#333" stroke-width="1.0" />
<rect x="240.05" y="572.56" width="7.70" height="21.74" fill="#bcbcc1" />
<line x1="243.90" y1="572.56" x2="243.90" y2="572.02" stroke="#333" stroke-width="0.95" />
<line x1="242.00" y1="572.02" x2="245.80" y2="572.02" stroke="#333" stroke-width="1.0" />
<rect x="256.25" y="528.74" width="7.70" height="65.56" fill="#e5168b" />
<line x1="260.10" y1="528.74" x2="260.10" y2="499.30" stroke="#333" stroke-width="0.95" />
<line x1="258.20" y1="499.30" x2="262.00" y2="499.30" stroke="#333" stroke-width="1.0" />
<rect x="272.35" y="572.42" width="7.70" height="21.88" fill="#bcbcc1" />
<line x1="276.20" y1="572.42" x2="276.20" y2="571.82" stroke="#333" stroke-width="0.95" />
<line x1="274.30" y1="571.82" x2="278.10" y2="571.82" stroke="#333" stroke-width="1.0" />
<rect x="288.55" y="566.87" width="7.70" height="27.43" fill="#bcbcc1" />
<line x1="292.40" y1="566.87" x2="292.40" y2="562.19" stroke="#333" stroke-width="0.95" />
<line x1="290.50" y1="562.19" x2="294.30" y2="562.19" stroke="#333" stroke-width="1.0" />
<line x1="214.10" y1="495.60" x2="260.30" y2="495.60" stroke="#777" stroke-width="1.0" />
<circle cx="237.60" cy="492.20" r="1.0" fill="#231f20"/>
<line x1="189.80" y1="490.40" x2="189.80" y2="594.80" stroke="#231f20" stroke-width="1.0" />
<line x1="189.80" y1="594.30" x2="300.70" y2="594.30" stroke="#231f20" stroke-width="1.0" />
<line x1="199.00" y1="594.30" x2="199.00" y2="597.20" stroke="#231f20" stroke-width="0.8" />
<line x1="213.80" y1="594.30" x2="213.80" y2="597.20" stroke="#231f20" stroke-width="0.8" />
<line x1="228.90" y1="594.30" x2="228.90" y2="597.20" stroke="#231f20" stroke-width="0.8" />
<line x1="243.90" y1="594.30" x2="243.90" y2="597.20" stroke="#231f20" stroke-width="0.8" />
<line x1="260.10" y1="594.30" x2="260.10" y2="597.20" stroke="#231f20" stroke-width="0.8" />
<line x1="276.20" y1="594.30" x2="276.20" y2="597.20" stroke="#231f20" stroke-width="0.8" />
<line x1="292.40" y1="594.30" x2="292.40" y2="597.20" stroke="#231f20" stroke-width="0.8" />
<text x="201.00" y="601.50" font-size="7.62" stroke="#231f20" stroke-width="0.22" text-anchor="end" textLength="22.2" lengthAdjust="spacingAndGlyphs" transform="rotate(-45 201.00 601.50)" >Vector</text>
<text x="215.80" y="601.50" font-size="7.62" stroke="#231f20" stroke-width="0.22" text-anchor="end" textLength="31.8" lengthAdjust="spacingAndGlyphs" transform="rotate(-45 215.80 601.50)" >Wildtype</text>
<text x="230.90" y="601.50" font-size="7.62" stroke="#231f20" stroke-width="0.22" text-anchor="end" textLength="20.0" lengthAdjust="spacingAndGlyphs" transform="rotate(-45 230.90 601.50)" >mut.α</text>
<text x="245.90" y="601.50" font-size="7.62" stroke="#231f20" stroke-width="0.22" text-anchor="end" textLength="20.0" lengthAdjust="spacingAndGlyphs" transform="rotate(-45 245.90 601.50)" >mut.β</text>
<text x="262.10" y="601.50" font-size="7.62" stroke="#231f20" stroke-width="0.22" text-anchor="end" textLength="20.0" lengthAdjust="spacingAndGlyphs" transform="rotate(-45 262.10 601.50)" >mut.γ</text>
<text x="278.20" y="601.50" font-size="7.62" stroke="#231f20" stroke-width="0.22" text-anchor="end" textLength="20.0" lengthAdjust="spacingAndGlyphs" transform="rotate(-45 278.20 601.50)" >mut.δ</text>
<text x="294.40" y="601.50" font-size="7.62" stroke="#231f20" stroke-width="0.22" text-anchor="end" textLength="20.0" lengthAdjust="spacingAndGlyphs" transform="rotate(-45 294.40 601.50)" >mut.ε</text>
<line x1="204.60" y1="622.90" x2="295.00" y2="622.90" stroke="#9c9c9c" stroke-width="1.4" />
<text x="250.00" y="633.10" font-size="9.6" stroke="#231f20" stroke-width="0.22" text-anchor="middle" textLength="23.2" lengthAdjust="spacingAndGlyphs" >MS4A3</text>
<text x="329.60" y="476.00" font-size="11.2" stroke="#000" stroke-width="0.1" fill="#000" font-weight="bold" >I</text>
<text x="428.80" y="484.80" font-size="9.3" stroke="#231f20" stroke-width="0.22" text-anchor="middle" textLength="139.1" lengthAdjust="spacingAndGlyphs" >GM-CSF stimulated for 5 minutes</text>
<line x1="371.50" y1="495.60" x2="374.50" y2="495.60" stroke="#231f20" stroke-width="0.8" />
<text x="369.60" y="498.50" font-size="8.2" stroke="#231f20" stroke-width="0.22" text-anchor="end" >0</text>
<line x1="371.50" y1="528.50" x2="374.50" y2="528.50" stroke="#231f20" stroke-width="0.8" />
<text x="369.60" y="531.40" font-size="8.2" stroke="#231f20" stroke-width="0.22" text-anchor="end" textLength="14.6" lengthAdjust="spacingAndGlyphs" >–0.2</text>
<line x1="371.50" y1="561.40" x2="374.50" y2="561.40" stroke="#231f20" stroke-width="0.8" />
<text x="369.60" y="564.30" font-size="8.2" stroke="#231f20" stroke-width="0.22" text-anchor="end" textLength="14.6" lengthAdjust="spacingAndGlyphs" >–0.4</text>
<line x1="371.50" y1="594.30" x2="374.50" y2="594.30" stroke="#231f20" stroke-width="0.8" />
<text x="369.60" y="597.20" font-size="8.2" stroke="#231f20" stroke-width="0.22" text-anchor="end" textLength="14.6" lengthAdjust="spacingAndGlyphs" >–0.6</text>
<text x="337.70" y="543.20" font-size="8.5" stroke="#231f20" stroke-width="0.22" text-anchor="middle" textLength="96.2" lengthAdjust="spacingAndGlyphs" transform="rotate(-90 337.70 543.20)" >Relative change of CD116 MFI</text>
<text x="348.20" y="543.20" font-size="8.5" stroke="#231f20" stroke-width="0.22" text-anchor="middle" textLength="90.0" lengthAdjust="spacingAndGlyphs" transform="rotate(-90 348.20 543.20)" >(surface CD116 endocytosis)</text>
<rect x="378.35" y="495.60" width="7.70" height="69.91" fill="#bcbcc1" />
<line x1="382.20" y1="565.51" x2="382.20" y2="579.99" stroke="#333" stroke-width="0.95" />
<line x1="380.30" y1="579.99" x2="384.10" y2="579.99" stroke="#333" stroke-width="1.0" />
<rect x="393.55" y="495.60" width="7.70" height="82.25" fill="#000" />
<line x1="397.40" y1="577.85" x2="397.40" y2="582.29" stroke="#333" stroke-width="0.95" />
<line x1="395.50" y1="582.29" x2="399.30" y2="582.29" stroke="#333" stroke-width="1.0" />
<rect x="408.75" y="495.60" width="7.70" height="51.00" fill="#ff8c00" />
<line x1="412.60" y1="546.60" x2="412.60" y2="553.18" stroke="#333" stroke-width="0.95" />
<line x1="410.70" y1="553.18" x2="414.50" y2="553.18" stroke="#333" stroke-width="1.0" />
<rect x="424.05" y="495.60" width="7.70" height="81.59" fill="#bcbcc1" />
<line x1="427.90" y1="577.19" x2="427.90" y2="577.69" stroke="#333" stroke-width="0.95" />
<line x1="426.00" y1="577.69" x2="429.80" y2="577.69" stroke="#333" stroke-width="1.0" />
<rect x="439.25" y="495.60" width="7.70" height="7.90" fill="#e5168b" />
<line x1="443.10" y1="503.50" x2="443.10" y2="524.72" stroke="#333" stroke-width="0.95" />
<line x1="441.20" y1="524.72" x2="445.00" y2="524.72" stroke="#333" stroke-width="1.0" />
<rect x="455.05" y="495.60" width="7.70" height="71.06" fill="#bcbcc1" />
<line x1="458.90" y1="566.66" x2="458.90" y2="573.24" stroke="#333" stroke-width="0.95" />
<line x1="457.00" y1="573.24" x2="460.80" y2="573.24" stroke="#333" stroke-width="1.0" />
<rect x="471.55" y="495.60" width="7.70" height="44.41" fill="#bcbcc1" />
<line x1="475.40" y1="540.01" x2="475.40" y2="571.76" stroke="#333" stroke-width="0.95" />
<line x1="473.50" y1="571.76" x2="477.30" y2="571.76" stroke="#333" stroke-width="1.0" />
<line x1="374.50" y1="495.60" x2="483.00" y2="495.60" stroke="#231f20" stroke-width="0.9" />
<line x1="397.00" y1="585.50" x2="442.80" y2="585.50" stroke="#a0a0a0" stroke-width="1.1" />
<circle cx="419.50" cy="588.90" r="1.0" fill="#231f20"/>
<line x1="374.50" y1="491.50" x2="374.50" y2="594.80" stroke="#231f20" stroke-width="1.0" />
<line x1="374.50" y1="594.30" x2="483.00" y2="594.30" stroke="#231f20" stroke-width="1.0" />
<line x1="382.20" y1="594.30" x2="382.20" y2="597.20" stroke="#231f20" stroke-width="0.8" />
<line x1="397.40" y1="594.30" x2="397.40" y2="597.20" stroke="#231f20" stroke-width="0.8" />
<line x1="412.60" y1="594.30" x2="412.60" y2="597.20" stroke="#231f20" stroke-width="0.8" />
<line x1="427.90" y1="594.30" x2="427.90" y2="597.20" stroke="#231f20" stroke-width="0.8" />
<line x1="443.10" y1="594.30" x2="443.10" y2="597.20" stroke="#231f20" stroke-width="0.8" />
<line x1="458.90" y1="594.30" x2="458.90" y2="597.20" stroke="#231f20" stroke-width="0.8" />
<line x1="475.40" y1="594.30" x2="475.40" y2="597.20" stroke="#231f20" stroke-width="0.8" />
<text x="384.20" y="601.50" font-size="7.62" stroke="#231f20" stroke-width="0.22" text-anchor="end" textLength="22.2" lengthAdjust="spacingAndGlyphs" transform="rotate(-45 384.20 601.50)" >Vector</text>
<text x="399.40" y="601.50" font-size="7.62" stroke="#231f20" stroke-width="0.22" text-anchor="end" textLength="31.8" lengthAdjust="spacingAndGlyphs" transform="rotate(-45 399.40 601.50)" >Wildtype</text>
<text x="414.60" y="601.50" font-size="7.62" stroke="#231f20" stroke-width="0.22" text-anchor="end" textLength="20.0" lengthAdjust="spacingAndGlyphs" transform="rotate(-45 414.60 601.50)" >mut.α</text>
<text x="429.90" y="601.50" font-size="7.62" stroke="#231f20" stroke-width="0.22" text-anchor="end" textLength="20.0" lengthAdjust="spacingAndGlyphs" transform="rotate(-45 429.90 601.50)" >mut.β</text>
<text x="445.10" y="601.50" font-size="7.62" stroke="#231f20" stroke-width="0.22" text-anchor="end" textLength="20.0" lengthAdjust="spacingAndGlyphs" transform="rotate(-45 445.10 601.50)" >mut.γ</text>
<text x="460.90" y="601.50" font-size="7.62" stroke="#231f20" stroke-width="0.22" text-anchor="end" textLength="20.0" lengthAdjust="spacingAndGlyphs" transform="rotate(-45 460.90 601.50)" >mut.δ</text>
<text x="477.40" y="601.50" font-size="7.62" stroke="#231f20" stroke-width="0.22" text-anchor="end" textLength="20.0" lengthAdjust="spacingAndGlyphs" transform="rotate(-45 477.40 601.50)" >mut.ε</text>
<line x1="388.50" y1="623.70" x2="477.60" y2="623.70" stroke="#9c9c9c" stroke-width="1.4" />
<text x="431.20" y="633.30" font-size="9.6" stroke="#231f20" stroke-width="0.22" text-anchor="middle" textLength="23.2" lengthAdjust="spacingAndGlyphs" >MS4A3</text>
<rect x="0" y="0" width="520" height="1.15" fill="#000"/><rect x="0" y="0" width="1.1" height="644" fill="#000"/><rect x="518.85" y="0" width="1.15" height="644" fill="#000"/><rect x="0" y="642.75" width="520" height="1.25" fill="#000"/>
</svg>
</body></html>
